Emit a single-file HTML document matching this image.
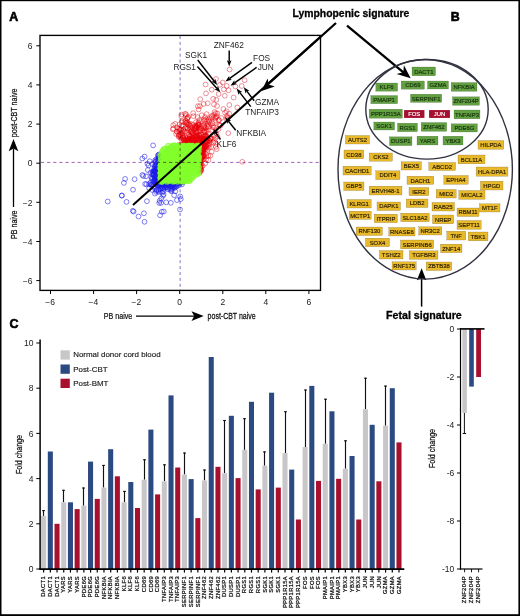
<!DOCTYPE html>
<html lang="en"><head><meta charset="utf-8"><title>Figure</title><style>html,body{margin:0;padding:0;background:#fff}svg{display:block}</style></head><body>
<svg width="520" height="616" viewBox="0 0 520 616" font-family="'Liberation Sans', sans-serif">
<rect width="520" height="616" fill="#fff"/>
<g id="scatter">
<g fill="none" stroke="#1c1ce8" stroke-width="0.90" stroke-opacity="0.62"><circle cx="159.0" cy="169.4" r="2.4"/><circle cx="156.4" cy="165.6" r="2.4"/><circle cx="168.2" cy="182.5" r="2.4"/><circle cx="156.0" cy="161.3" r="2.4"/><circle cx="178.9" cy="185.4" r="2.4"/><circle cx="159.9" cy="158.4" r="2.4"/><circle cx="155.2" cy="170.3" r="2.4"/><circle cx="167.5" cy="184.7" r="2.4"/><circle cx="158.5" cy="159.5" r="2.4"/><circle cx="172.8" cy="184.5" r="2.4"/><circle cx="159.4" cy="156.2" r="2.4"/><circle cx="179.7" cy="183.7" r="2.4"/><circle cx="153.6" cy="174.7" r="2.4"/><circle cx="154.3" cy="177.1" r="2.4"/><circle cx="182.0" cy="184.4" r="2.4"/><circle cx="155.2" cy="166.1" r="2.4"/><circle cx="155.2" cy="162.0" r="2.4"/><circle cx="155.9" cy="178.9" r="2.4"/><circle cx="159.8" cy="179.7" r="2.4"/><circle cx="159.7" cy="161.9" r="2.4"/><circle cx="172.1" cy="186.4" r="2.4"/><circle cx="156.6" cy="163.1" r="2.4"/><circle cx="157.3" cy="168.9" r="2.4"/><circle cx="154.8" cy="165.4" r="2.4"/><circle cx="178.5" cy="182.4" r="2.4"/><circle cx="157.7" cy="167.2" r="2.4"/><circle cx="157.7" cy="181.0" r="2.4"/><circle cx="172.4" cy="183.9" r="2.4"/><circle cx="155.6" cy="166.2" r="2.4"/><circle cx="158.9" cy="174.7" r="2.4"/><circle cx="181.0" cy="182.4" r="2.4"/><circle cx="180.9" cy="182.1" r="2.4"/><circle cx="158.3" cy="162.7" r="2.4"/><circle cx="173.4" cy="187.2" r="2.4"/><circle cx="156.3" cy="175.9" r="2.4"/><circle cx="153.0" cy="171.5" r="2.4"/><circle cx="155.2" cy="160.3" r="2.4"/><circle cx="158.9" cy="159.2" r="2.4"/><circle cx="155.8" cy="172.0" r="2.4"/><circle cx="158.4" cy="158.5" r="2.4"/><circle cx="174.3" cy="183.4" r="2.4"/><circle cx="166.1" cy="183.9" r="2.4"/><circle cx="177.8" cy="183.3" r="2.4"/><circle cx="157.9" cy="182.2" r="2.4"/><circle cx="155.5" cy="170.8" r="2.4"/><circle cx="171.6" cy="183.5" r="2.4"/><circle cx="159.8" cy="167.6" r="2.4"/><circle cx="158.7" cy="181.0" r="2.4"/><circle cx="158.4" cy="154.9" r="2.4"/><circle cx="154.8" cy="167.6" r="2.4"/><circle cx="154.1" cy="170.9" r="2.4"/><circle cx="159.4" cy="158.5" r="2.4"/><circle cx="158.0" cy="162.7" r="2.4"/><circle cx="156.3" cy="159.2" r="2.4"/><circle cx="159.6" cy="172.1" r="2.4"/><circle cx="162.5" cy="184.9" r="2.4"/><circle cx="160.0" cy="161.4" r="2.4"/><circle cx="157.6" cy="170.4" r="2.4"/><circle cx="175.9" cy="183.7" r="2.4"/><circle cx="162.7" cy="183.3" r="2.4"/><circle cx="156.9" cy="167.0" r="2.4"/><circle cx="154.3" cy="168.7" r="2.4"/><circle cx="157.9" cy="155.7" r="2.4"/><circle cx="176.1" cy="186.7" r="2.4"/><circle cx="181.2" cy="182.4" r="2.4"/><circle cx="159.1" cy="161.3" r="2.4"/><circle cx="160.0" cy="168.9" r="2.4"/><circle cx="171.5" cy="185.9" r="2.4"/><circle cx="159.1" cy="154.4" r="2.4"/><circle cx="159.1" cy="162.3" r="2.4"/><circle cx="158.9" cy="157.2" r="2.4"/><circle cx="158.5" cy="158.0" r="2.4"/><circle cx="159.6" cy="165.4" r="2.4"/><circle cx="182.9" cy="182.4" r="2.4"/><circle cx="157.8" cy="160.8" r="2.4"/><circle cx="176.8" cy="185.0" r="2.4"/><circle cx="153.1" cy="174.7" r="2.4"/><circle cx="159.9" cy="172.5" r="2.4"/><circle cx="159.2" cy="167.9" r="2.4"/><circle cx="158.4" cy="176.7" r="2.4"/><circle cx="157.1" cy="172.6" r="2.4"/><circle cx="157.6" cy="173.2" r="2.4"/><circle cx="176.4" cy="184.0" r="2.4"/><circle cx="170.5" cy="186.5" r="2.4"/><circle cx="159.7" cy="175.9" r="2.4"/><circle cx="160.0" cy="173.5" r="2.4"/><circle cx="158.5" cy="177.3" r="2.4"/><circle cx="159.4" cy="167.4" r="2.4"/><circle cx="159.2" cy="178.1" r="2.4"/><circle cx="162.5" cy="187.6" r="2.4"/><circle cx="158.2" cy="185.6" r="2.4"/><circle cx="165.5" cy="184.0" r="2.4"/><circle cx="166.2" cy="185.4" r="2.4"/><circle cx="166.9" cy="187.1" r="2.4"/><circle cx="159.2" cy="178.5" r="2.4"/><circle cx="155.5" cy="176.8" r="2.4"/><circle cx="165.7" cy="187.4" r="2.4"/><circle cx="165.0" cy="185.0" r="2.4"/><circle cx="152.9" cy="178.1" r="2.4"/><circle cx="158.9" cy="176.0" r="2.4"/><circle cx="158.7" cy="184.4" r="2.4"/><circle cx="153.4" cy="171.4" r="2.4"/><circle cx="153.8" cy="186.7" r="2.4"/><circle cx="171.2" cy="182.3" r="2.4"/><circle cx="165.0" cy="187.8" r="2.4"/><circle cx="155.0" cy="171.2" r="2.4"/><circle cx="154.0" cy="171.4" r="2.4"/><circle cx="157.0" cy="189.8" r="2.4"/><circle cx="156.5" cy="178.2" r="2.4"/><circle cx="165.2" cy="182.1" r="2.4"/><circle cx="160.6" cy="188.8" r="2.4"/><circle cx="152.9" cy="172.8" r="2.4"/><circle cx="153.7" cy="181.8" r="2.4"/><circle cx="155.6" cy="181.1" r="2.4"/><circle cx="163.0" cy="183.1" r="2.4"/><circle cx="178.7" cy="182.3" r="2.4"/><circle cx="151.7" cy="178.7" r="2.4"/><circle cx="165.3" cy="184.8" r="2.4"/><circle cx="155.1" cy="170.6" r="2.4"/><circle cx="165.7" cy="184.0" r="2.4"/><circle cx="156.8" cy="169.4" r="2.4"/><circle cx="159.2" cy="179.9" r="2.4"/><circle cx="159.5" cy="170.5" r="2.4"/><circle cx="154.6" cy="171.3" r="2.4"/><circle cx="155.9" cy="171.8" r="2.4"/><circle cx="155.1" cy="180.8" r="2.4"/><circle cx="160.1" cy="170.5" r="2.4"/><circle cx="169.6" cy="182.4" r="2.4"/><circle cx="155.0" cy="179.5" r="2.4"/><circle cx="164.4" cy="182.8" r="2.4"/><circle cx="155.0" cy="179.2" r="2.4"/><circle cx="158.7" cy="182.7" r="2.4"/><circle cx="159.1" cy="168.7" r="2.4"/><circle cx="160.1" cy="175.6" r="2.4"/><circle cx="156.7" cy="184.2" r="2.4"/><circle cx="163.4" cy="182.2" r="2.4"/><circle cx="158.6" cy="170.8" r="2.4"/><circle cx="157.3" cy="177.5" r="2.4"/><circle cx="155.3" cy="171.7" r="2.4"/><circle cx="161.0" cy="184.5" r="2.4"/><circle cx="173.1" cy="182.2" r="2.4"/><circle cx="158.6" cy="172.8" r="2.4"/><circle cx="157.4" cy="177.6" r="2.4"/><circle cx="150.5" cy="182.6" r="2.4"/><circle cx="165.4" cy="186.0" r="2.4"/><circle cx="159.2" cy="178.3" r="2.4"/><circle cx="160.1" cy="165.6" r="2.4"/><circle cx="161.2" cy="184.7" r="2.4"/><circle cx="164.5" cy="183.6" r="2.4"/><circle cx="156.4" cy="178.8" r="2.4"/><circle cx="154.5" cy="176.9" r="2.4"/><circle cx="154.9" cy="177.6" r="2.4"/><circle cx="160.0" cy="167.7" r="2.4"/><circle cx="156.3" cy="190.2" r="2.4"/><circle cx="155.9" cy="181.1" r="2.4"/><circle cx="156.9" cy="168.8" r="2.4"/><circle cx="152.1" cy="174.2" r="2.4"/><circle cx="161.5" cy="186.6" r="2.4"/><circle cx="151.2" cy="184.9" r="2.4"/><circle cx="171.6" cy="184.1" r="2.4"/><circle cx="159.0" cy="177.7" r="2.4"/><circle cx="159.8" cy="167.9" r="2.4"/><circle cx="153.3" cy="180.8" r="2.4"/><circle cx="158.4" cy="172.5" r="2.4"/><circle cx="160.3" cy="183.0" r="2.4"/><circle cx="159.2" cy="185.2" r="2.4"/><circle cx="158.5" cy="183.4" r="2.4"/><circle cx="153.8" cy="184.6" r="2.4"/><circle cx="159.5" cy="167.5" r="2.4"/><circle cx="158.5" cy="189.8" r="2.4"/><circle cx="152.7" cy="184.4" r="2.4"/><circle cx="167.5" cy="186.8" r="2.4"/><circle cx="158.4" cy="173.1" r="2.4"/><circle cx="157.9" cy="173.5" r="2.4"/><circle cx="159.0" cy="184.6" r="2.4"/><circle cx="155.9" cy="170.0" r="2.4"/><circle cx="163.8" cy="182.1" r="2.4"/><circle cx="155.9" cy="180.5" r="2.4"/><circle cx="160.8" cy="183.0" r="2.4"/><circle cx="157.3" cy="182.0" r="2.4"/><circle cx="155.6" cy="171.0" r="2.4"/><circle cx="162.7" cy="184.4" r="2.4"/><circle cx="156.6" cy="167.4" r="2.4"/><circle cx="165.3" cy="184.8" r="2.4"/><circle cx="156.5" cy="179.9" r="2.4"/><circle cx="161.1" cy="186.1" r="2.4"/><circle cx="156.2" cy="182.1" r="2.4"/><circle cx="176.7" cy="186.4" r="2.4"/><circle cx="121.8" cy="195.7" r="2.4"/><circle cx="152.3" cy="164.0" r="2.4"/><circle cx="150.6" cy="184.6" r="2.4"/><circle cx="155.3" cy="177.8" r="2.4"/><circle cx="159.7" cy="200.8" r="2.4"/><circle cx="157.7" cy="179.2" r="2.4"/><circle cx="163.3" cy="189.2" r="2.4"/><circle cx="142.3" cy="158.5" r="2.4"/><circle cx="174.5" cy="186.2" r="2.4"/><circle cx="154.9" cy="193.6" r="2.4"/><circle cx="143.9" cy="213.3" r="2.4"/><circle cx="171.0" cy="187.8" r="2.4"/><circle cx="155.2" cy="182.4" r="2.4"/><circle cx="168.5" cy="184.9" r="2.4"/><circle cx="161.3" cy="198.4" r="2.4"/><circle cx="175.2" cy="191.4" r="2.4"/><circle cx="149.1" cy="188.1" r="2.4"/><circle cx="158.6" cy="192.0" r="2.4"/><circle cx="149.1" cy="184.0" r="2.4"/><circle cx="157.0" cy="176.4" r="2.4"/><circle cx="168.2" cy="183.6" r="2.4"/><circle cx="156.6" cy="171.2" r="2.4"/><circle cx="146.0" cy="176.3" r="2.4"/><circle cx="159.1" cy="175.5" r="2.4"/><circle cx="174.2" cy="195.2" r="2.4"/><circle cx="162.1" cy="192.5" r="2.4"/><circle cx="175.1" cy="185.8" r="2.4"/><circle cx="153.7" cy="174.2" r="2.4"/><circle cx="158.4" cy="191.0" r="2.4"/><circle cx="180.8" cy="199.1" r="2.4"/><circle cx="169.3" cy="188.7" r="2.4"/><circle cx="170.5" cy="182.5" r="2.4"/><circle cx="161.8" cy="211.8" r="2.4"/><circle cx="149.8" cy="161.2" r="2.4"/><circle cx="123.9" cy="182.9" r="2.4"/><circle cx="163.6" cy="194.3" r="2.4"/><circle cx="168.0" cy="189.4" r="2.4"/><circle cx="173.1" cy="185.3" r="2.4"/><circle cx="160.1" cy="215.3" r="2.4"/><circle cx="172.3" cy="188.8" r="2.4"/><circle cx="160.3" cy="189.2" r="2.4"/><circle cx="147.4" cy="163.7" r="2.4"/><circle cx="163.0" cy="195.7" r="2.4"/><circle cx="176.9" cy="200.1" r="2.4"/><circle cx="171.1" cy="184.6" r="2.4"/><circle cx="148.6" cy="165.4" r="2.4"/><circle cx="151.7" cy="184.7" r="2.4"/><circle cx="152.0" cy="189.9" r="2.4"/><circle cx="151.3" cy="177.2" r="2.4"/><circle cx="126.5" cy="201.9" r="2.4"/><circle cx="171.0" cy="190.9" r="2.4"/><circle cx="162.7" cy="187.9" r="2.4"/><circle cx="158.1" cy="169.1" r="2.4"/><circle cx="171.0" cy="189.3" r="2.4"/><circle cx="155.3" cy="173.0" r="2.4"/><circle cx="125.1" cy="178.9" r="2.4"/><circle cx="171.6" cy="190.9" r="2.4"/><circle cx="172.3" cy="186.0" r="2.4"/><circle cx="163.3" cy="191.3" r="2.4"/><circle cx="154.1" cy="188.0" r="2.4"/><circle cx="142.4" cy="174.9" r="2.4"/><circle cx="159.6" cy="185.9" r="2.4"/><circle cx="157.1" cy="167.6" r="2.4"/><circle cx="146.9" cy="201.2" r="2.4"/><circle cx="174.1" cy="188.1" r="2.4"/><circle cx="150.4" cy="172.7" r="2.4"/><circle cx="159.1" cy="174.6" r="2.4"/><circle cx="146.4" cy="184.3" r="2.4"/><circle cx="143.3" cy="176.0" r="2.4"/><circle cx="145.1" cy="183.9" r="2.4"/><circle cx="156.2" cy="191.9" r="2.4"/><circle cx="147.8" cy="170.0" r="2.4"/><circle cx="161.1" cy="202.9" r="2.4"/></g>
<g fill="none" stroke="#1c1ce8" stroke-width="0.90" stroke-opacity="0.62"><circle cx="107.7" cy="201.5" r="2.4"/><circle cx="121.8" cy="195.4" r="2.4"/><circle cx="134.6" cy="179.2" r="2.4"/><circle cx="144.6" cy="156.6" r="2.4"/><circle cx="153.1" cy="145.4" r="2.4"/><circle cx="133.0" cy="189.7" r="2.4"/><circle cx="132.8" cy="210.8" r="2.4"/><circle cx="133.6" cy="211.6" r="2.4"/><circle cx="138.5" cy="216.5" r="2.4"/><circle cx="163.8" cy="211.5" r="2.4"/><circle cx="159.2" cy="203.0" r="2.4"/><circle cx="166.2" cy="202.3" r="2.4"/><circle cx="170.8" cy="202.8" r="2.4"/><circle cx="180.0" cy="209.5" r="2.4"/><circle cx="144.5" cy="221.8" r="2.4"/><circle cx="180.2" cy="196.5" r="2.4"/></g>
<g fill="none" stroke="#e60008" stroke-width="0.90" stroke-opacity="0.50"><circle cx="201.1" cy="169.5" r="2.4"/><circle cx="199.6" cy="159.6" r="2.4"/><circle cx="200.3" cy="162.4" r="2.4"/><circle cx="194.0" cy="145.3" r="2.4"/><circle cx="197.2" cy="141.9" r="2.4"/><circle cx="200.3" cy="165.0" r="2.4"/><circle cx="199.5" cy="158.4" r="2.4"/><circle cx="200.3" cy="158.8" r="2.4"/><circle cx="201.2" cy="162.8" r="2.4"/><circle cx="200.0" cy="154.1" r="2.4"/><circle cx="189.2" cy="139.3" r="2.4"/><circle cx="186.1" cy="142.8" r="2.4"/><circle cx="188.5" cy="143.2" r="2.4"/><circle cx="185.9" cy="143.3" r="2.4"/><circle cx="190.9" cy="145.3" r="2.4"/><circle cx="201.7" cy="147.5" r="2.4"/><circle cx="200.9" cy="151.8" r="2.4"/><circle cx="206.5" cy="156.3" r="2.4"/><circle cx="192.5" cy="141.3" r="2.4"/><circle cx="202.7" cy="165.8" r="2.4"/><circle cx="200.3" cy="156.1" r="2.4"/><circle cx="199.4" cy="145.5" r="2.4"/><circle cx="199.7" cy="168.8" r="2.4"/><circle cx="190.3" cy="140.9" r="2.4"/><circle cx="200.2" cy="169.3" r="2.4"/><circle cx="191.8" cy="141.1" r="2.4"/><circle cx="199.8" cy="162.8" r="2.4"/><circle cx="191.5" cy="143.1" r="2.4"/><circle cx="187.8" cy="140.7" r="2.4"/><circle cx="199.4" cy="169.2" r="2.4"/><circle cx="205.2" cy="163.3" r="2.4"/><circle cx="184.8" cy="143.8" r="2.4"/><circle cx="186.2" cy="141.5" r="2.4"/><circle cx="199.6" cy="161.8" r="2.4"/><circle cx="201.3" cy="155.6" r="2.4"/><circle cx="189.2" cy="144.8" r="2.4"/><circle cx="199.6" cy="158.9" r="2.4"/><circle cx="199.9" cy="160.2" r="2.4"/><circle cx="185.7" cy="142.2" r="2.4"/><circle cx="200.5" cy="159.9" r="2.4"/><circle cx="199.9" cy="167.3" r="2.4"/><circle cx="203.5" cy="159.3" r="2.4"/><circle cx="202.7" cy="152.3" r="2.4"/><circle cx="201.4" cy="158.7" r="2.4"/><circle cx="201.5" cy="154.7" r="2.4"/><circle cx="200.8" cy="155.7" r="2.4"/><circle cx="196.3" cy="144.7" r="2.4"/><circle cx="198.7" cy="140.7" r="2.4"/><circle cx="200.3" cy="169.8" r="2.4"/><circle cx="203.4" cy="150.2" r="2.4"/><circle cx="201.1" cy="166.3" r="2.4"/><circle cx="184.4" cy="140.4" r="2.4"/><circle cx="190.7" cy="142.7" r="2.4"/><circle cx="201.2" cy="155.3" r="2.4"/><circle cx="199.8" cy="166.9" r="2.4"/><circle cx="179.9" cy="145.2" r="2.4"/><circle cx="201.7" cy="166.7" r="2.4"/><circle cx="200.8" cy="149.3" r="2.4"/><circle cx="178.8" cy="144.9" r="2.4"/><circle cx="202.4" cy="156.7" r="2.4"/><circle cx="199.6" cy="162.7" r="2.4"/><circle cx="199.9" cy="172.6" r="2.4"/><circle cx="201.0" cy="170.9" r="2.4"/><circle cx="197.1" cy="145.2" r="2.4"/><circle cx="199.4" cy="166.0" r="2.4"/><circle cx="202.8" cy="159.8" r="2.4"/><circle cx="200.0" cy="167.5" r="2.4"/><circle cx="201.3" cy="169.9" r="2.4"/><circle cx="199.8" cy="171.5" r="2.4"/><circle cx="190.8" cy="144.1" r="2.4"/><circle cx="184.0" cy="144.8" r="2.4"/><circle cx="197.9" cy="143.1" r="2.4"/><circle cx="199.5" cy="165.8" r="2.4"/><circle cx="199.6" cy="167.4" r="2.4"/><circle cx="199.6" cy="154.4" r="2.4"/><circle cx="199.4" cy="166.9" r="2.4"/><circle cx="189.3" cy="144.6" r="2.4"/><circle cx="201.4" cy="152.0" r="2.4"/><circle cx="204.8" cy="147.6" r="2.4"/><circle cx="199.5" cy="165.9" r="2.4"/><circle cx="187.5" cy="143.8" r="2.4"/><circle cx="200.0" cy="166.6" r="2.4"/><circle cx="200.4" cy="159.5" r="2.4"/><circle cx="200.0" cy="152.0" r="2.4"/><circle cx="202.1" cy="141.6" r="2.4"/><circle cx="201.6" cy="138.1" r="2.4"/><circle cx="194.3" cy="143.8" r="2.4"/><circle cx="199.1" cy="143.6" r="2.4"/><circle cx="199.4" cy="144.3" r="2.4"/><circle cx="201.0" cy="141.1" r="2.4"/><circle cx="191.7" cy="144.0" r="2.4"/><circle cx="201.2" cy="157.3" r="2.4"/><circle cx="201.5" cy="145.1" r="2.4"/><circle cx="200.8" cy="151.0" r="2.4"/><circle cx="196.4" cy="145.2" r="2.4"/><circle cx="200.3" cy="144.7" r="2.4"/><circle cx="201.9" cy="152.8" r="2.4"/><circle cx="199.5" cy="151.9" r="2.4"/><circle cx="200.4" cy="140.9" r="2.4"/><circle cx="202.5" cy="140.5" r="2.4"/><circle cx="187.0" cy="144.4" r="2.4"/><circle cx="186.2" cy="144.4" r="2.4"/><circle cx="201.2" cy="148.2" r="2.4"/><circle cx="183.9" cy="144.9" r="2.4"/><circle cx="207.6" cy="142.1" r="2.4"/><circle cx="201.9" cy="146.3" r="2.4"/><circle cx="197.4" cy="144.1" r="2.4"/><circle cx="206.5" cy="146.1" r="2.4"/><circle cx="207.5" cy="139.9" r="2.4"/><circle cx="194.8" cy="143.1" r="2.4"/><circle cx="206.9" cy="150.3" r="2.4"/><circle cx="191.6" cy="142.0" r="2.4"/><circle cx="199.8" cy="143.7" r="2.4"/><circle cx="200.1" cy="157.7" r="2.4"/><circle cx="200.6" cy="153.6" r="2.4"/><circle cx="200.7" cy="158.1" r="2.4"/><circle cx="201.4" cy="148.7" r="2.4"/><circle cx="200.3" cy="138.9" r="2.4"/><circle cx="200.4" cy="152.6" r="2.4"/><circle cx="199.8" cy="148.1" r="2.4"/><circle cx="191.2" cy="138.6" r="2.4"/><circle cx="185.8" cy="142.9" r="2.4"/><circle cx="199.5" cy="157.5" r="2.4"/><circle cx="202.4" cy="151.8" r="2.4"/><circle cx="197.0" cy="141.3" r="2.4"/><circle cx="197.2" cy="136.2" r="2.4"/><circle cx="199.8" cy="155.3" r="2.4"/><circle cx="205.7" cy="145.4" r="2.4"/><circle cx="201.4" cy="142.8" r="2.4"/><circle cx="201.2" cy="142.8" r="2.4"/><circle cx="209.7" cy="141.2" r="2.4"/><circle cx="202.4" cy="151.2" r="2.4"/><circle cx="184.7" cy="143.7" r="2.4"/><circle cx="201.7" cy="149.2" r="2.4"/><circle cx="195.1" cy="139.9" r="2.4"/><circle cx="201.8" cy="145.6" r="2.4"/><circle cx="195.4" cy="137.3" r="2.4"/><circle cx="209.1" cy="140.9" r="2.4"/><circle cx="199.6" cy="149.1" r="2.4"/><circle cx="190.0" cy="144.1" r="2.4"/><circle cx="199.9" cy="152.0" r="2.4"/><circle cx="207.7" cy="138.7" r="2.4"/><circle cx="203.8" cy="147.6" r="2.4"/><circle cx="196.1" cy="144.1" r="2.4"/><circle cx="191.9" cy="144.1" r="2.4"/><circle cx="185.4" cy="142.9" r="2.4"/><circle cx="202.3" cy="150.8" r="2.4"/><circle cx="201.9" cy="157.2" r="2.4"/><circle cx="203.2" cy="156.5" r="2.4"/><circle cx="191.8" cy="138.9" r="2.4"/><circle cx="199.4" cy="148.3" r="2.4"/><circle cx="203.6" cy="144.3" r="2.4"/><circle cx="204.2" cy="138.8" r="2.4"/><circle cx="205.6" cy="149.4" r="2.4"/><circle cx="203.6" cy="148.4" r="2.4"/><circle cx="196.9" cy="136.3" r="2.4"/><circle cx="198.5" cy="143.4" r="2.4"/><circle cx="201.4" cy="143.0" r="2.4"/><circle cx="200.1" cy="156.2" r="2.4"/><circle cx="206.5" cy="136.4" r="2.4"/><circle cx="192.9" cy="140.9" r="2.4"/><circle cx="197.8" cy="143.1" r="2.4"/><circle cx="189.2" cy="144.7" r="2.4"/><circle cx="197.8" cy="144.2" r="2.4"/><circle cx="207.7" cy="144.6" r="2.4"/><circle cx="194.0" cy="141.7" r="2.4"/><circle cx="206.5" cy="140.8" r="2.4"/><circle cx="196.4" cy="139.3" r="2.4"/><circle cx="202.2" cy="145.9" r="2.4"/><circle cx="204.5" cy="146.6" r="2.4"/><circle cx="203.1" cy="140.3" r="2.4"/><circle cx="190.7" cy="144.7" r="2.4"/><circle cx="205.7" cy="140.5" r="2.4"/><circle cx="189.8" cy="141.6" r="2.4"/><circle cx="197.7" cy="144.7" r="2.4"/><circle cx="203.6" cy="148.9" r="2.4"/><circle cx="202.5" cy="148.1" r="2.4"/><circle cx="190.8" cy="144.2" r="2.4"/><circle cx="200.8" cy="160.4" r="2.4"/><circle cx="202.4" cy="146.6" r="2.4"/><circle cx="186.7" cy="143.7" r="2.4"/><circle cx="203.6" cy="147.1" r="2.4"/><circle cx="201.8" cy="155.1" r="2.4"/><circle cx="191.9" cy="143.1" r="2.4"/><circle cx="203.8" cy="155.3" r="2.4"/><circle cx="202.1" cy="158.4" r="2.4"/><circle cx="209.0" cy="147.5" r="2.4"/><circle cx="188.9" cy="139.2" r="2.4"/><circle cx="201.6" cy="140.3" r="2.4"/><circle cx="193.3" cy="145.2" r="2.4"/><circle cx="203.8" cy="149.0" r="2.4"/><circle cx="204.0" cy="139.7" r="2.4"/><circle cx="198.2" cy="142.7" r="2.4"/><circle cx="204.8" cy="138.4" r="2.4"/><circle cx="202.7" cy="149.7" r="2.4"/><circle cx="195.9" cy="136.5" r="2.4"/><circle cx="206.9" cy="142.1" r="2.4"/><circle cx="191.6" cy="142.8" r="2.4"/><circle cx="192.5" cy="144.5" r="2.4"/><circle cx="206.1" cy="136.9" r="2.4"/><circle cx="204.8" cy="136.4" r="2.4"/><circle cx="187.2" cy="141.1" r="2.4"/><circle cx="204.8" cy="145.0" r="2.4"/><circle cx="189.3" cy="140.9" r="2.4"/><circle cx="204.1" cy="136.4" r="2.4"/><circle cx="190.2" cy="144.6" r="2.4"/><circle cx="203.4" cy="139.6" r="2.4"/><circle cx="200.0" cy="137.7" r="2.4"/><circle cx="200.9" cy="149.9" r="2.4"/><circle cx="181.3" cy="145.1" r="2.4"/><circle cx="199.5" cy="140.6" r="2.4"/><circle cx="206.0" cy="154.0" r="2.4"/><circle cx="194.3" cy="139.2" r="2.4"/><circle cx="185.2" cy="144.1" r="2.4"/><circle cx="196.9" cy="136.6" r="2.4"/><circle cx="200.8" cy="152.3" r="2.4"/><circle cx="205.2" cy="138.9" r="2.4"/><circle cx="204.3" cy="149.7" r="2.4"/><circle cx="200.7" cy="147.7" r="2.4"/><circle cx="203.5" cy="142.7" r="2.4"/><circle cx="203.4" cy="155.4" r="2.4"/><circle cx="200.4" cy="157.0" r="2.4"/><circle cx="191.5" cy="141.1" r="2.4"/><circle cx="206.5" cy="144.5" r="2.4"/><circle cx="201.7" cy="143.2" r="2.4"/><circle cx="209.1" cy="140.0" r="2.4"/><circle cx="203.6" cy="155.1" r="2.4"/><circle cx="198.6" cy="122.4" r="2.4"/><circle cx="190.4" cy="131.7" r="2.4"/><circle cx="188.3" cy="127.9" r="2.4"/><circle cx="200.5" cy="152.0" r="2.4"/><circle cx="183.3" cy="130.4" r="2.4"/><circle cx="208.3" cy="119.9" r="2.4"/><circle cx="196.8" cy="126.2" r="2.4"/><circle cx="191.1" cy="131.7" r="2.4"/><circle cx="208.9" cy="126.5" r="2.4"/><circle cx="206.1" cy="131.3" r="2.4"/><circle cx="196.6" cy="127.2" r="2.4"/><circle cx="201.6" cy="125.9" r="2.4"/><circle cx="205.5" cy="135.4" r="2.4"/><circle cx="192.5" cy="132.4" r="2.4"/><circle cx="216.7" cy="149.1" r="2.4"/><circle cx="189.6" cy="136.0" r="2.4"/><circle cx="193.1" cy="113.1" r="2.4"/><circle cx="203.2" cy="151.5" r="2.4"/><circle cx="188.8" cy="134.5" r="2.4"/><circle cx="191.7" cy="138.8" r="2.4"/><circle cx="196.1" cy="135.0" r="2.4"/><circle cx="199.0" cy="124.9" r="2.4"/><circle cx="186.3" cy="143.0" r="2.4"/><circle cx="183.0" cy="125.4" r="2.4"/><circle cx="199.1" cy="127.9" r="2.4"/><circle cx="183.2" cy="134.9" r="2.4"/><circle cx="207.6" cy="136.6" r="2.4"/><circle cx="210.8" cy="124.3" r="2.4"/><circle cx="185.8" cy="143.5" r="2.4"/><circle cx="198.6" cy="109.4" r="2.4"/><circle cx="185.8" cy="140.4" r="2.4"/><circle cx="206.3" cy="141.6" r="2.4"/><circle cx="213.2" cy="98.9" r="2.4"/><circle cx="207.7" cy="126.6" r="2.4"/><circle cx="219.0" cy="124.6" r="2.4"/><circle cx="203.3" cy="149.1" r="2.4"/><circle cx="180.3" cy="129.9" r="2.4"/><circle cx="194.2" cy="139.6" r="2.4"/><circle cx="188.4" cy="142.6" r="2.4"/><circle cx="199.4" cy="120.1" r="2.4"/><circle cx="183.6" cy="138.0" r="2.4"/><circle cx="213.6" cy="117.7" r="2.4"/><circle cx="219.6" cy="125.3" r="2.4"/><circle cx="216.1" cy="117.3" r="2.4"/><circle cx="188.0" cy="142.0" r="2.4"/><circle cx="191.7" cy="134.1" r="2.4"/><circle cx="215.9" cy="146.8" r="2.4"/><circle cx="187.1" cy="142.3" r="2.4"/><circle cx="198.5" cy="144.2" r="2.4"/><circle cx="188.8" cy="134.7" r="2.4"/><circle cx="194.7" cy="135.9" r="2.4"/><circle cx="176.8" cy="131.6" r="2.4"/><circle cx="204.4" cy="126.9" r="2.4"/><circle cx="196.0" cy="132.5" r="2.4"/><circle cx="202.4" cy="143.9" r="2.4"/><circle cx="212.4" cy="129.9" r="2.4"/><circle cx="210.3" cy="155.6" r="2.4"/><circle cx="215.5" cy="118.3" r="2.4"/><circle cx="206.1" cy="147.4" r="2.4"/><circle cx="194.8" cy="128.5" r="2.4"/><circle cx="189.5" cy="136.6" r="2.4"/><circle cx="173.5" cy="128.7" r="2.4"/><circle cx="201.3" cy="121.2" r="2.4"/><circle cx="196.2" cy="126.5" r="2.4"/><circle cx="197.9" cy="106.2" r="2.4"/><circle cx="198.8" cy="128.6" r="2.4"/><circle cx="181.4" cy="125.6" r="2.4"/><circle cx="179.3" cy="129.0" r="2.4"/><circle cx="185.8" cy="115.9" r="2.4"/><circle cx="180.2" cy="136.8" r="2.4"/><circle cx="201.8" cy="148.1" r="2.4"/><circle cx="225.1" cy="112.7" r="2.4"/><circle cx="207.0" cy="139.0" r="2.4"/><circle cx="209.6" cy="121.7" r="2.4"/><circle cx="182.7" cy="137.0" r="2.4"/><circle cx="197.8" cy="124.8" r="2.4"/><circle cx="177.0" cy="131.7" r="2.4"/><circle cx="184.5" cy="142.2" r="2.4"/><circle cx="195.1" cy="143.7" r="2.4"/><circle cx="181.5" cy="139.6" r="2.4"/><circle cx="190.0" cy="139.1" r="2.4"/><circle cx="185.6" cy="128.5" r="2.4"/><circle cx="193.4" cy="138.1" r="2.4"/><circle cx="211.8" cy="116.9" r="2.4"/><circle cx="206.9" cy="125.6" r="2.4"/><circle cx="189.8" cy="139.8" r="2.4"/><circle cx="227.1" cy="117.2" r="2.4"/><circle cx="210.2" cy="118.3" r="2.4"/><circle cx="180.0" cy="134.8" r="2.4"/><circle cx="202.1" cy="147.7" r="2.4"/><circle cx="210.4" cy="138.5" r="2.4"/><circle cx="203.1" cy="132.5" r="2.4"/><circle cx="183.6" cy="141.1" r="2.4"/><circle cx="199.9" cy="106.1" r="2.4"/><circle cx="202.4" cy="156.4" r="2.4"/><circle cx="204.0" cy="119.5" r="2.4"/><circle cx="181.5" cy="133.5" r="2.4"/><circle cx="203.0" cy="150.8" r="2.4"/><circle cx="179.5" cy="124.5" r="2.4"/><circle cx="179.0" cy="131.7" r="2.4"/><circle cx="190.4" cy="143.7" r="2.4"/><circle cx="187.9" cy="117.4" r="2.4"/><circle cx="187.6" cy="124.6" r="2.4"/><circle cx="201.9" cy="151.7" r="2.4"/><circle cx="194.0" cy="129.9" r="2.4"/><circle cx="182.1" cy="135.8" r="2.4"/><circle cx="186.1" cy="114.3" r="2.4"/><circle cx="184.7" cy="140.0" r="2.4"/><circle cx="184.9" cy="121.8" r="2.4"/><circle cx="176.1" cy="134.0" r="2.4"/><circle cx="193.0" cy="124.6" r="2.4"/><circle cx="186.1" cy="141.5" r="2.4"/><circle cx="206.3" cy="137.5" r="2.4"/><circle cx="209.5" cy="144.2" r="2.4"/><circle cx="211.7" cy="151.8" r="2.4"/><circle cx="204.9" cy="132.7" r="2.4"/><circle cx="201.5" cy="134.6" r="2.4"/><circle cx="192.7" cy="133.8" r="2.4"/><circle cx="173.2" cy="125.2" r="2.4"/><circle cx="214.6" cy="135.4" r="2.4"/><circle cx="203.8" cy="126.0" r="2.4"/><circle cx="212.6" cy="123.3" r="2.4"/><circle cx="195.8" cy="144.2" r="2.4"/><circle cx="196.2" cy="136.6" r="2.4"/><circle cx="193.8" cy="133.2" r="2.4"/><circle cx="199.0" cy="134.5" r="2.4"/><circle cx="191.7" cy="130.6" r="2.4"/><circle cx="182.1" cy="138.1" r="2.4"/><circle cx="183.3" cy="129.4" r="2.4"/><circle cx="205.5" cy="142.3" r="2.4"/><circle cx="189.7" cy="143.1" r="2.4"/><circle cx="199.9" cy="147.3" r="2.4"/><circle cx="199.0" cy="143.5" r="2.4"/><circle cx="182.0" cy="121.3" r="2.4"/><circle cx="205.0" cy="117.0" r="2.4"/><circle cx="189.1" cy="140.2" r="2.4"/><circle cx="200.3" cy="144.0" r="2.4"/><circle cx="212.5" cy="139.4" r="2.4"/><circle cx="195.5" cy="127.4" r="2.4"/><circle cx="189.5" cy="145.0" r="2.4"/><circle cx="216.1" cy="133.3" r="2.4"/><circle cx="181.2" cy="130.1" r="2.4"/><circle cx="229.1" cy="113.6" r="2.4"/><circle cx="185.5" cy="139.9" r="2.4"/><circle cx="188.3" cy="139.3" r="2.4"/><circle cx="197.5" cy="139.4" r="2.4"/><circle cx="213.0" cy="125.9" r="2.4"/><circle cx="204.0" cy="156.6" r="2.4"/><circle cx="182.0" cy="122.4" r="2.4"/><circle cx="226.8" cy="119.4" r="2.4"/><circle cx="187.3" cy="140.4" r="2.4"/><circle cx="190.9" cy="129.2" r="2.4"/><circle cx="215.7" cy="113.2" r="2.4"/><circle cx="195.3" cy="128.5" r="2.4"/><circle cx="199.8" cy="138.2" r="2.4"/><circle cx="189.7" cy="129.6" r="2.4"/><circle cx="211.1" cy="146.9" r="2.4"/><circle cx="181.4" cy="114.5" r="2.4"/><circle cx="182.6" cy="135.6" r="2.4"/><circle cx="182.6" cy="133.0" r="2.4"/><circle cx="190.5" cy="123.7" r="2.4"/><circle cx="200.3" cy="139.6" r="2.4"/><circle cx="204.1" cy="125.1" r="2.4"/><circle cx="204.0" cy="138.7" r="2.4"/><circle cx="211.7" cy="89.7" r="2.4"/><circle cx="191.0" cy="131.7" r="2.4"/><circle cx="191.1" cy="140.2" r="2.4"/><circle cx="208.5" cy="160.1" r="2.4"/><circle cx="198.9" cy="138.9" r="2.4"/><circle cx="206.2" cy="119.4" r="2.4"/><circle cx="194.0" cy="145.3" r="2.4"/><circle cx="187.2" cy="118.6" r="2.4"/><circle cx="185.3" cy="127.9" r="2.4"/><circle cx="178.8" cy="134.7" r="2.4"/><circle cx="193.0" cy="137.9" r="2.4"/><circle cx="199.3" cy="135.7" r="2.4"/><circle cx="187.4" cy="123.6" r="2.4"/><circle cx="187.6" cy="128.8" r="2.4"/><circle cx="184.8" cy="131.7" r="2.4"/><circle cx="200.4" cy="153.3" r="2.4"/><circle cx="180.5" cy="135.6" r="2.4"/><circle cx="198.8" cy="127.4" r="2.4"/><circle cx="191.5" cy="145.0" r="2.4"/><circle cx="208.9" cy="121.1" r="2.4"/><circle cx="194.9" cy="126.5" r="2.4"/><circle cx="183.4" cy="137.6" r="2.4"/><circle cx="213.4" cy="142.5" r="2.4"/><circle cx="178.7" cy="136.8" r="2.4"/><circle cx="191.7" cy="140.4" r="2.4"/><circle cx="203.7" cy="104.0" r="2.4"/><circle cx="187.6" cy="122.3" r="2.4"/><circle cx="187.2" cy="118.8" r="2.4"/><circle cx="199.8" cy="129.9" r="2.4"/><circle cx="212.9" cy="127.3" r="2.4"/><circle cx="190.1" cy="140.5" r="2.4"/><circle cx="198.0" cy="125.3" r="2.4"/><circle cx="188.0" cy="137.6" r="2.4"/><circle cx="218.5" cy="129.2" r="2.4"/><circle cx="198.2" cy="130.7" r="2.4"/><circle cx="214.3" cy="141.3" r="2.4"/><circle cx="199.7" cy="138.4" r="2.4"/><circle cx="193.6" cy="116.1" r="2.4"/><circle cx="190.1" cy="137.0" r="2.4"/><circle cx="195.2" cy="126.8" r="2.4"/><circle cx="210.5" cy="138.5" r="2.4"/><circle cx="191.4" cy="139.2" r="2.4"/><circle cx="186.1" cy="122.8" r="2.4"/><circle cx="188.6" cy="139.1" r="2.4"/><circle cx="203.5" cy="147.5" r="2.4"/><circle cx="179.7" cy="129.9" r="2.4"/><circle cx="178.1" cy="128.7" r="2.4"/><circle cx="180.4" cy="137.9" r="2.4"/><circle cx="219.0" cy="120.0" r="2.4"/><circle cx="202.4" cy="142.5" r="2.4"/><circle cx="198.5" cy="123.3" r="2.4"/><circle cx="201.7" cy="115.2" r="2.4"/><circle cx="207.0" cy="131.2" r="2.4"/><circle cx="191.8" cy="142.2" r="2.4"/><circle cx="177.1" cy="127.4" r="2.4"/><circle cx="196.1" cy="129.4" r="2.4"/><circle cx="202.5" cy="141.2" r="2.4"/><circle cx="199.0" cy="135.3" r="2.4"/><circle cx="195.7" cy="125.5" r="2.4"/><circle cx="204.4" cy="120.7" r="2.4"/><circle cx="172.8" cy="129.2" r="2.4"/><circle cx="196.8" cy="128.4" r="2.4"/><circle cx="204.4" cy="131.2" r="2.4"/><circle cx="194.9" cy="135.2" r="2.4"/><circle cx="215.5" cy="120.6" r="2.4"/><circle cx="189.5" cy="143.2" r="2.4"/><circle cx="227.0" cy="115.9" r="2.4"/><circle cx="206.0" cy="128.0" r="2.4"/><circle cx="192.1" cy="132.0" r="2.4"/><circle cx="216.7" cy="116.1" r="2.4"/><circle cx="187.9" cy="143.6" r="2.4"/><circle cx="185.6" cy="120.9" r="2.4"/><circle cx="221.3" cy="118.0" r="2.4"/><circle cx="194.7" cy="140.4" r="2.4"/><circle cx="191.1" cy="143.9" r="2.4"/><circle cx="201.4" cy="128.2" r="2.4"/><circle cx="188.3" cy="117.0" r="2.4"/><circle cx="202.0" cy="139.5" r="2.4"/><circle cx="188.7" cy="143.9" r="2.4"/><circle cx="188.6" cy="124.6" r="2.4"/><circle cx="198.1" cy="143.8" r="2.4"/><circle cx="204.9" cy="130.9" r="2.4"/><circle cx="200.8" cy="148.3" r="2.4"/><circle cx="195.6" cy="137.3" r="2.4"/><circle cx="197.8" cy="136.1" r="2.4"/><circle cx="193.6" cy="141.8" r="2.4"/><circle cx="175.2" cy="123.8" r="2.4"/><circle cx="206.1" cy="159.5" r="2.4"/><circle cx="207.0" cy="121.3" r="2.4"/><circle cx="208.4" cy="145.9" r="2.4"/><circle cx="208.4" cy="133.8" r="2.4"/><circle cx="204.7" cy="127.8" r="2.4"/><circle cx="181.4" cy="116.3" r="2.4"/><circle cx="199.4" cy="136.1" r="2.4"/><circle cx="203.8" cy="146.5" r="2.4"/><circle cx="189.3" cy="124.5" r="2.4"/><circle cx="185.2" cy="141.9" r="2.4"/><circle cx="218.7" cy="120.0" r="2.4"/><circle cx="185.1" cy="113.8" r="2.4"/><circle cx="200.3" cy="131.0" r="2.4"/><circle cx="220.6" cy="125.4" r="2.4"/><circle cx="196.9" cy="132.0" r="2.4"/><circle cx="208.3" cy="155.9" r="2.4"/><circle cx="196.3" cy="138.4" r="2.4"/><circle cx="214.6" cy="112.1" r="2.4"/><circle cx="215.2" cy="138.3" r="2.4"/><circle cx="217.3" cy="113.5" r="2.4"/><circle cx="186.2" cy="122.8" r="2.4"/><circle cx="196.6" cy="134.3" r="2.4"/><circle cx="196.0" cy="122.1" r="2.4"/><circle cx="195.1" cy="143.1" r="2.4"/><circle cx="193.0" cy="137.7" r="2.4"/><circle cx="207.9" cy="123.9" r="2.4"/><circle cx="196.3" cy="140.5" r="2.4"/><circle cx="212.0" cy="115.7" r="2.4"/><circle cx="204.8" cy="147.2" r="2.4"/><circle cx="191.3" cy="127.9" r="2.4"/><circle cx="213.9" cy="127.3" r="2.4"/><circle cx="203.8" cy="131.0" r="2.4"/><circle cx="190.1" cy="145.2" r="2.4"/><circle cx="227.7" cy="118.2" r="2.4"/><circle cx="191.3" cy="142.5" r="2.4"/><circle cx="200.9" cy="134.4" r="2.4"/><circle cx="197.5" cy="117.0" r="2.4"/><circle cx="206.6" cy="114.1" r="2.4"/><circle cx="190.2" cy="125.6" r="2.4"/><circle cx="216.2" cy="143.7" r="2.4"/><circle cx="198.9" cy="124.9" r="2.4"/><circle cx="184.1" cy="131.1" r="2.4"/><circle cx="214.1" cy="115.0" r="2.4"/><circle cx="178.9" cy="135.6" r="2.4"/><circle cx="183.8" cy="139.5" r="2.4"/><circle cx="237.3" cy="107.5" r="2.4"/><circle cx="190.1" cy="126.4" r="2.4"/><circle cx="210.7" cy="138.6" r="2.4"/><circle cx="202.3" cy="137.9" r="2.4"/></g>
<g fill="none" stroke="#d81028" stroke-width="0.90" stroke-opacity="0.50"><circle cx="229.6" cy="69.5" r="2.4"/><circle cx="216.0" cy="79.0" r="2.4"/><circle cx="205.6" cy="84.5" r="2.4"/><circle cx="206.0" cy="93.4" r="2.4"/><circle cx="218.6" cy="94.0" r="2.4"/><circle cx="219.8" cy="84.8" r="2.4"/><circle cx="222.7" cy="82.5" r="2.4"/><circle cx="226.7" cy="86.0" r="2.4"/><circle cx="223.8" cy="89.4" r="2.4"/><circle cx="228.5" cy="90.2" r="2.4"/><circle cx="224.8" cy="95.8" r="2.4"/><circle cx="233.6" cy="97.5" r="2.4"/><circle cx="235.4" cy="86.5" r="2.4"/><circle cx="241.7" cy="86.0" r="2.4"/><circle cx="244.6" cy="80.2" r="2.4"/><circle cx="229.3" cy="105.0" r="2.4"/><circle cx="216.3" cy="99.8" r="2.4"/><circle cx="217.0" cy="106.0" r="2.4"/><circle cx="207.7" cy="103.3" r="2.4"/><circle cx="200.2" cy="99.2" r="2.4"/><circle cx="223.3" cy="109.0" r="2.4"/><circle cx="226.7" cy="111.3" r="2.4"/><circle cx="214.0" cy="104.4" r="2.4"/><circle cx="242.3" cy="161.8" r="2.4"/><circle cx="228.3" cy="133.2" r="2.4"/><circle cx="217.5" cy="136.5" r="2.4"/></g>
<g fill="none" stroke="#82ff2c" stroke-width="0.90" stroke-opacity="0.85"><circle cx="173.5" cy="161.2" r="2.4"/><circle cx="180.3" cy="166.9" r="2.4"/><circle cx="173.6" cy="171.5" r="2.4"/><circle cx="185.7" cy="151.4" r="2.4"/><circle cx="186.4" cy="153.2" r="2.4"/><circle cx="181.5" cy="158.6" r="2.4"/><circle cx="180.0" cy="155.5" r="2.4"/><circle cx="176.0" cy="173.0" r="2.4"/><circle cx="182.6" cy="160.9" r="2.4"/><circle cx="189.1" cy="163.6" r="2.4"/><circle cx="179.2" cy="157.7" r="2.4"/><circle cx="160.6" cy="155.6" r="2.4"/><circle cx="174.9" cy="150.1" r="2.4"/><circle cx="180.4" cy="172.9" r="2.4"/><circle cx="177.7" cy="166.3" r="2.4"/><circle cx="183.0" cy="156.3" r="2.4"/><circle cx="183.5" cy="173.2" r="2.4"/><circle cx="165.7" cy="158.1" r="2.4"/><circle cx="171.0" cy="167.3" r="2.4"/><circle cx="195.1" cy="170.4" r="2.4"/><circle cx="169.8" cy="153.1" r="2.4"/><circle cx="165.4" cy="180.5" r="2.4"/><circle cx="185.3" cy="169.6" r="2.4"/><circle cx="184.4" cy="159.6" r="2.4"/><circle cx="160.9" cy="168.1" r="2.4"/><circle cx="177.8" cy="151.0" r="2.4"/><circle cx="188.9" cy="149.3" r="2.4"/><circle cx="191.0" cy="171.3" r="2.4"/><circle cx="189.7" cy="162.6" r="2.4"/><circle cx="185.9" cy="175.4" r="2.4"/><circle cx="175.8" cy="174.1" r="2.4"/><circle cx="165.6" cy="172.3" r="2.4"/><circle cx="187.2" cy="147.8" r="2.4"/><circle cx="188.5" cy="165.5" r="2.4"/><circle cx="162.6" cy="164.4" r="2.4"/><circle cx="187.7" cy="153.4" r="2.4"/><circle cx="178.3" cy="157.9" r="2.4"/><circle cx="188.1" cy="146.3" r="2.4"/><circle cx="179.7" cy="155.0" r="2.4"/><circle cx="183.5" cy="151.8" r="2.4"/><circle cx="170.1" cy="157.0" r="2.4"/><circle cx="185.5" cy="159.8" r="2.4"/><circle cx="177.3" cy="155.8" r="2.4"/><circle cx="171.6" cy="153.7" r="2.4"/><circle cx="177.4" cy="170.9" r="2.4"/><circle cx="188.2" cy="154.8" r="2.4"/><circle cx="164.8" cy="162.8" r="2.4"/><circle cx="195.5" cy="154.9" r="2.4"/><circle cx="169.2" cy="174.4" r="2.4"/><circle cx="180.8" cy="166.2" r="2.4"/><circle cx="168.1" cy="164.3" r="2.4"/><circle cx="182.4" cy="148.1" r="2.4"/><circle cx="181.5" cy="159.2" r="2.4"/><circle cx="176.4" cy="157.6" r="2.4"/><circle cx="176.0" cy="162.2" r="2.4"/><circle cx="184.5" cy="158.5" r="2.4"/><circle cx="181.6" cy="153.0" r="2.4"/><circle cx="179.1" cy="168.8" r="2.4"/><circle cx="172.3" cy="156.4" r="2.4"/><circle cx="173.8" cy="162.7" r="2.4"/><circle cx="168.4" cy="169.7" r="2.4"/><circle cx="181.1" cy="158.2" r="2.4"/><circle cx="170.9" cy="161.5" r="2.4"/><circle cx="186.2" cy="164.5" r="2.4"/><circle cx="175.8" cy="167.8" r="2.4"/><circle cx="178.3" cy="165.1" r="2.4"/><circle cx="197.4" cy="163.6" r="2.4"/><circle cx="171.6" cy="156.5" r="2.4"/><circle cx="175.1" cy="145.7" r="2.4"/><circle cx="168.2" cy="178.4" r="2.4"/><circle cx="171.9" cy="161.0" r="2.4"/><circle cx="197.2" cy="168.4" r="2.4"/><circle cx="171.7" cy="153.0" r="2.4"/><circle cx="176.9" cy="162.7" r="2.4"/><circle cx="185.3" cy="155.8" r="2.4"/><circle cx="166.8" cy="152.5" r="2.4"/><circle cx="190.8" cy="157.0" r="2.4"/><circle cx="189.5" cy="157.9" r="2.4"/><circle cx="175.2" cy="156.8" r="2.4"/><circle cx="176.5" cy="156.6" r="2.4"/><circle cx="192.5" cy="165.1" r="2.4"/><circle cx="182.7" cy="181.3" r="2.4"/><circle cx="184.4" cy="147.9" r="2.4"/><circle cx="188.7" cy="171.1" r="2.4"/><circle cx="173.5" cy="145.6" r="2.4"/><circle cx="189.4" cy="156.7" r="2.4"/><circle cx="183.7" cy="168.0" r="2.4"/><circle cx="179.8" cy="156.9" r="2.4"/><circle cx="181.6" cy="172.4" r="2.4"/><circle cx="176.7" cy="167.9" r="2.4"/><circle cx="181.5" cy="175.5" r="2.4"/><circle cx="191.3" cy="158.6" r="2.4"/><circle cx="175.4" cy="156.2" r="2.4"/><circle cx="172.4" cy="159.3" r="2.4"/><circle cx="177.3" cy="170.8" r="2.4"/><circle cx="173.8" cy="164.6" r="2.4"/><circle cx="190.3" cy="160.5" r="2.4"/><circle cx="166.3" cy="170.1" r="2.4"/><circle cx="191.6" cy="160.6" r="2.4"/><circle cx="192.9" cy="159.3" r="2.4"/><circle cx="171.6" cy="173.7" r="2.4"/><circle cx="187.7" cy="153.9" r="2.4"/><circle cx="179.4" cy="162.0" r="2.4"/><circle cx="185.9" cy="165.7" r="2.4"/><circle cx="164.3" cy="173.0" r="2.4"/><circle cx="175.2" cy="171.5" r="2.4"/><circle cx="170.3" cy="173.6" r="2.4"/><circle cx="184.2" cy="165.5" r="2.4"/><circle cx="176.0" cy="170.3" r="2.4"/><circle cx="163.8" cy="152.9" r="2.4"/><circle cx="169.4" cy="173.1" r="2.4"/><circle cx="165.1" cy="169.3" r="2.4"/><circle cx="170.0" cy="172.3" r="2.4"/><circle cx="184.6" cy="173.2" r="2.4"/><circle cx="172.2" cy="173.1" r="2.4"/><circle cx="196.2" cy="155.9" r="2.4"/><circle cx="168.9" cy="154.3" r="2.4"/><circle cx="179.4" cy="157.6" r="2.4"/><circle cx="175.6" cy="164.7" r="2.4"/><circle cx="176.8" cy="159.9" r="2.4"/><circle cx="184.7" cy="180.4" r="2.4"/><circle cx="186.3" cy="161.9" r="2.4"/><circle cx="188.5" cy="175.6" r="2.4"/><circle cx="166.5" cy="165.0" r="2.4"/><circle cx="196.5" cy="149.4" r="2.4"/><circle cx="177.3" cy="152.1" r="2.4"/><circle cx="172.8" cy="170.4" r="2.4"/><circle cx="175.6" cy="154.7" r="2.4"/><circle cx="181.0" cy="164.6" r="2.4"/><circle cx="174.0" cy="173.2" r="2.4"/><circle cx="186.4" cy="155.4" r="2.4"/><circle cx="179.2" cy="175.4" r="2.4"/><circle cx="181.1" cy="154.7" r="2.4"/><circle cx="190.4" cy="147.0" r="2.4"/><circle cx="175.0" cy="159.7" r="2.4"/><circle cx="188.0" cy="165.5" r="2.4"/><circle cx="173.2" cy="178.4" r="2.4"/><circle cx="180.7" cy="159.4" r="2.4"/><circle cx="184.1" cy="172.9" r="2.4"/><circle cx="180.3" cy="181.7" r="2.4"/><circle cx="170.3" cy="167.7" r="2.4"/><circle cx="175.1" cy="159.6" r="2.4"/><circle cx="174.6" cy="169.3" r="2.4"/><circle cx="180.6" cy="156.7" r="2.4"/><circle cx="183.4" cy="156.5" r="2.4"/><circle cx="170.7" cy="159.7" r="2.4"/><circle cx="186.7" cy="168.5" r="2.4"/><circle cx="174.5" cy="167.7" r="2.4"/><circle cx="177.5" cy="162.6" r="2.4"/><circle cx="178.3" cy="161.6" r="2.4"/><circle cx="188.5" cy="173.0" r="2.4"/><circle cx="174.9" cy="152.1" r="2.4"/><circle cx="184.8" cy="161.0" r="2.4"/><circle cx="191.1" cy="166.5" r="2.4"/><circle cx="163.3" cy="176.9" r="2.4"/><circle cx="166.0" cy="164.7" r="2.4"/><circle cx="187.3" cy="175.7" r="2.4"/><circle cx="169.2" cy="165.0" r="2.4"/><circle cx="182.5" cy="157.8" r="2.4"/><circle cx="186.5" cy="146.5" r="2.4"/><circle cx="174.8" cy="158.8" r="2.4"/><circle cx="196.8" cy="162.9" r="2.4"/><circle cx="172.7" cy="158.8" r="2.4"/><circle cx="168.8" cy="157.5" r="2.4"/><circle cx="177.5" cy="151.8" r="2.4"/><circle cx="191.8" cy="155.0" r="2.4"/><circle cx="169.9" cy="159.2" r="2.4"/><circle cx="187.9" cy="155.4" r="2.4"/><circle cx="168.4" cy="170.4" r="2.4"/><circle cx="173.8" cy="152.0" r="2.4"/><circle cx="186.1" cy="156.8" r="2.4"/><circle cx="182.6" cy="152.5" r="2.4"/><circle cx="181.0" cy="160.9" r="2.4"/><circle cx="172.2" cy="159.8" r="2.4"/><circle cx="175.8" cy="175.4" r="2.4"/><circle cx="191.3" cy="173.4" r="2.4"/><circle cx="169.5" cy="164.0" r="2.4"/><circle cx="184.9" cy="159.0" r="2.4"/><circle cx="189.0" cy="174.9" r="2.4"/><circle cx="195.8" cy="160.9" r="2.4"/><circle cx="192.6" cy="177.4" r="2.4"/><circle cx="178.8" cy="150.2" r="2.4"/><circle cx="164.2" cy="177.7" r="2.4"/><circle cx="198.9" cy="170.8" r="2.4"/><circle cx="185.5" cy="177.8" r="2.4"/><circle cx="178.0" cy="160.9" r="2.4"/><circle cx="179.5" cy="153.0" r="2.4"/><circle cx="179.5" cy="177.6" r="2.4"/><circle cx="183.9" cy="174.2" r="2.4"/><circle cx="194.4" cy="149.0" r="2.4"/><circle cx="189.0" cy="171.5" r="2.4"/><circle cx="170.3" cy="176.1" r="2.4"/><circle cx="187.0" cy="146.8" r="2.4"/><circle cx="176.5" cy="160.1" r="2.4"/><circle cx="165.6" cy="152.5" r="2.4"/><circle cx="171.0" cy="148.1" r="2.4"/><circle cx="190.8" cy="155.4" r="2.4"/><circle cx="166.5" cy="163.8" r="2.4"/><circle cx="186.3" cy="179.4" r="2.4"/><circle cx="178.4" cy="177.9" r="2.4"/><circle cx="181.8" cy="157.2" r="2.4"/><circle cx="166.3" cy="151.4" r="2.4"/><circle cx="166.4" cy="157.4" r="2.4"/><circle cx="182.4" cy="160.0" r="2.4"/><circle cx="166.5" cy="153.6" r="2.4"/><circle cx="186.3" cy="177.0" r="2.4"/><circle cx="167.9" cy="156.8" r="2.4"/><circle cx="168.6" cy="169.4" r="2.4"/><circle cx="188.0" cy="153.6" r="2.4"/><circle cx="171.5" cy="166.8" r="2.4"/><circle cx="172.3" cy="151.2" r="2.4"/><circle cx="178.6" cy="150.3" r="2.4"/><circle cx="185.2" cy="160.1" r="2.4"/><circle cx="192.5" cy="166.8" r="2.4"/><circle cx="197.6" cy="161.2" r="2.4"/><circle cx="177.7" cy="164.5" r="2.4"/><circle cx="189.2" cy="153.9" r="2.4"/><circle cx="170.9" cy="167.2" r="2.4"/><circle cx="179.0" cy="153.4" r="2.4"/><circle cx="193.5" cy="150.1" r="2.4"/><circle cx="185.3" cy="163.9" r="2.4"/><circle cx="197.1" cy="157.2" r="2.4"/><circle cx="189.1" cy="161.2" r="2.4"/><circle cx="168.2" cy="163.0" r="2.4"/><circle cx="191.0" cy="152.8" r="2.4"/><circle cx="167.6" cy="162.2" r="2.4"/><circle cx="176.8" cy="161.0" r="2.4"/><circle cx="187.9" cy="159.7" r="2.4"/><circle cx="169.3" cy="155.2" r="2.4"/><circle cx="175.6" cy="153.7" r="2.4"/><circle cx="194.5" cy="168.2" r="2.4"/><circle cx="170.8" cy="177.9" r="2.4"/><circle cx="188.7" cy="147.6" r="2.4"/><circle cx="162.3" cy="171.4" r="2.4"/><circle cx="180.6" cy="171.4" r="2.4"/><circle cx="179.9" cy="151.1" r="2.4"/><circle cx="170.3" cy="161.4" r="2.4"/><circle cx="167.4" cy="153.1" r="2.4"/><circle cx="166.7" cy="157.2" r="2.4"/><circle cx="172.8" cy="163.8" r="2.4"/><circle cx="178.1" cy="156.0" r="2.4"/><circle cx="193.0" cy="160.2" r="2.4"/><circle cx="189.0" cy="154.8" r="2.4"/><circle cx="179.2" cy="156.1" r="2.4"/><circle cx="182.2" cy="153.5" r="2.4"/><circle cx="181.7" cy="155.3" r="2.4"/><circle cx="168.9" cy="154.1" r="2.4"/><circle cx="198.9" cy="161.1" r="2.4"/><circle cx="168.0" cy="165.7" r="2.4"/><circle cx="172.8" cy="171.3" r="2.4"/><circle cx="175.7" cy="162.1" r="2.4"/><circle cx="180.0" cy="150.5" r="2.4"/><circle cx="175.0" cy="156.0" r="2.4"/><circle cx="171.8" cy="155.6" r="2.4"/><circle cx="181.5" cy="160.7" r="2.4"/><circle cx="167.0" cy="171.3" r="2.4"/><circle cx="188.0" cy="155.3" r="2.4"/><circle cx="175.9" cy="159.4" r="2.4"/><circle cx="177.5" cy="150.5" r="2.4"/><circle cx="188.8" cy="175.1" r="2.4"/><circle cx="189.3" cy="170.0" r="2.4"/><circle cx="178.2" cy="165.6" r="2.4"/><circle cx="186.6" cy="166.9" r="2.4"/><circle cx="195.8" cy="158.3" r="2.4"/><circle cx="174.3" cy="160.7" r="2.4"/><circle cx="168.3" cy="152.8" r="2.4"/><circle cx="182.1" cy="167.4" r="2.4"/><circle cx="184.8" cy="150.8" r="2.4"/><circle cx="176.4" cy="173.0" r="2.4"/><circle cx="171.0" cy="151.6" r="2.4"/><circle cx="186.3" cy="156.1" r="2.4"/><circle cx="172.8" cy="167.6" r="2.4"/><circle cx="184.2" cy="170.7" r="2.4"/><circle cx="188.2" cy="152.9" r="2.4"/><circle cx="183.1" cy="173.2" r="2.4"/><circle cx="167.4" cy="152.8" r="2.4"/><circle cx="187.6" cy="160.4" r="2.4"/><circle cx="185.6" cy="154.8" r="2.4"/><circle cx="162.8" cy="167.8" r="2.4"/><circle cx="171.1" cy="146.4" r="2.4"/><circle cx="188.4" cy="172.0" r="2.4"/><circle cx="160.3" cy="155.9" r="2.4"/><circle cx="174.9" cy="157.2" r="2.4"/><circle cx="186.8" cy="168.5" r="2.4"/><circle cx="191.8" cy="156.9" r="2.4"/><circle cx="176.8" cy="156.1" r="2.4"/><circle cx="163.1" cy="167.4" r="2.4"/><circle cx="185.6" cy="160.1" r="2.4"/><circle cx="171.8" cy="163.9" r="2.4"/><circle cx="185.0" cy="159.4" r="2.4"/><circle cx="181.6" cy="159.6" r="2.4"/><circle cx="198.4" cy="161.5" r="2.4"/><circle cx="172.7" cy="161.2" r="2.4"/><circle cx="197.6" cy="156.0" r="2.4"/><circle cx="189.5" cy="149.8" r="2.4"/><circle cx="168.5" cy="163.4" r="2.4"/><circle cx="173.0" cy="161.4" r="2.4"/><circle cx="186.4" cy="156.6" r="2.4"/><circle cx="174.6" cy="154.5" r="2.4"/><circle cx="176.2" cy="164.2" r="2.4"/><circle cx="170.5" cy="169.0" r="2.4"/><circle cx="187.0" cy="160.8" r="2.4"/><circle cx="186.6" cy="153.8" r="2.4"/><circle cx="197.6" cy="169.3" r="2.4"/><circle cx="181.3" cy="160.5" r="2.4"/><circle cx="166.0" cy="151.5" r="2.4"/><circle cx="190.1" cy="161.2" r="2.4"/><circle cx="179.0" cy="171.1" r="2.4"/><circle cx="184.9" cy="170.4" r="2.4"/><circle cx="178.9" cy="162.4" r="2.4"/><circle cx="184.9" cy="156.6" r="2.4"/><circle cx="189.9" cy="157.7" r="2.4"/><circle cx="171.2" cy="155.3" r="2.4"/><circle cx="172.9" cy="145.5" r="2.4"/><circle cx="193.3" cy="177.3" r="2.4"/><circle cx="192.1" cy="171.1" r="2.4"/><circle cx="170.1" cy="160.5" r="2.4"/><circle cx="182.1" cy="156.2" r="2.4"/><circle cx="185.8" cy="168.2" r="2.4"/><circle cx="180.9" cy="160.3" r="2.4"/><circle cx="174.9" cy="171.4" r="2.4"/><circle cx="199.0" cy="149.1" r="2.4"/><circle cx="186.7" cy="157.4" r="2.4"/><circle cx="181.2" cy="158.3" r="2.4"/><circle cx="166.4" cy="174.8" r="2.4"/><circle cx="172.0" cy="166.4" r="2.4"/><circle cx="164.1" cy="167.1" r="2.4"/><circle cx="185.0" cy="179.3" r="2.4"/><circle cx="196.4" cy="165.2" r="2.4"/><circle cx="175.4" cy="172.4" r="2.4"/><circle cx="184.5" cy="168.1" r="2.4"/><circle cx="173.9" cy="157.4" r="2.4"/><circle cx="168.8" cy="160.0" r="2.4"/><circle cx="190.1" cy="154.3" r="2.4"/><circle cx="167.2" cy="148.3" r="2.4"/><circle cx="181.9" cy="151.1" r="2.4"/><circle cx="182.9" cy="162.1" r="2.4"/><circle cx="174.7" cy="160.4" r="2.4"/><circle cx="171.6" cy="166.8" r="2.4"/><circle cx="182.0" cy="148.9" r="2.4"/><circle cx="179.2" cy="170.2" r="2.4"/><circle cx="173.4" cy="162.8" r="2.4"/><circle cx="175.7" cy="155.9" r="2.4"/><circle cx="176.6" cy="178.0" r="2.4"/><circle cx="178.9" cy="161.5" r="2.4"/><circle cx="163.3" cy="158.7" r="2.4"/><circle cx="176.3" cy="154.6" r="2.4"/><circle cx="170.5" cy="146.7" r="2.4"/><circle cx="177.7" cy="166.3" r="2.4"/><circle cx="181.7" cy="152.5" r="2.4"/><circle cx="171.8" cy="176.4" r="2.4"/><circle cx="181.3" cy="156.7" r="2.4"/><circle cx="184.5" cy="172.5" r="2.4"/><circle cx="171.6" cy="158.2" r="2.4"/><circle cx="188.6" cy="158.4" r="2.4"/><circle cx="175.5" cy="172.2" r="2.4"/><circle cx="187.8" cy="155.8" r="2.4"/><circle cx="172.0" cy="147.9" r="2.4"/><circle cx="179.1" cy="161.9" r="2.4"/><circle cx="191.7" cy="160.8" r="2.4"/><circle cx="190.7" cy="166.2" r="2.4"/><circle cx="192.5" cy="162.0" r="2.4"/><circle cx="179.3" cy="161.2" r="2.4"/><circle cx="171.9" cy="176.5" r="2.4"/><circle cx="184.6" cy="161.8" r="2.4"/><circle cx="179.2" cy="173.0" r="2.4"/><circle cx="175.1" cy="167.3" r="2.4"/><circle cx="168.2" cy="156.3" r="2.4"/><circle cx="185.0" cy="161.2" r="2.4"/><circle cx="163.7" cy="175.9" r="2.4"/><circle cx="186.2" cy="158.9" r="2.4"/><circle cx="190.6" cy="155.5" r="2.4"/><circle cx="186.7" cy="164.6" r="2.4"/><circle cx="173.5" cy="154.2" r="2.4"/><circle cx="172.4" cy="171.1" r="2.4"/><circle cx="180.0" cy="155.0" r="2.4"/><circle cx="187.5" cy="151.1" r="2.4"/><circle cx="182.0" cy="164.8" r="2.4"/><circle cx="185.3" cy="164.0" r="2.4"/><circle cx="177.0" cy="176.0" r="2.4"/><circle cx="179.6" cy="171.8" r="2.4"/><circle cx="165.0" cy="167.1" r="2.4"/><circle cx="163.5" cy="168.1" r="2.4"/><circle cx="168.4" cy="168.1" r="2.4"/><circle cx="189.6" cy="151.0" r="2.4"/><circle cx="173.2" cy="168.1" r="2.4"/><circle cx="194.7" cy="174.2" r="2.4"/><circle cx="173.3" cy="166.4" r="2.4"/><circle cx="175.1" cy="165.9" r="2.4"/><circle cx="179.8" cy="151.8" r="2.4"/><circle cx="182.6" cy="151.8" r="2.4"/><circle cx="177.4" cy="165.2" r="2.4"/><circle cx="179.9" cy="167.2" r="2.4"/><circle cx="191.9" cy="176.7" r="2.4"/><circle cx="177.1" cy="165.6" r="2.4"/><circle cx="171.7" cy="170.5" r="2.4"/><circle cx="185.3" cy="160.2" r="2.4"/><circle cx="192.4" cy="177.6" r="2.4"/><circle cx="186.4" cy="161.1" r="2.4"/><circle cx="183.9" cy="153.7" r="2.4"/><circle cx="184.5" cy="167.0" r="2.4"/><circle cx="188.9" cy="161.5" r="2.4"/><circle cx="185.6" cy="164.9" r="2.4"/><circle cx="161.1" cy="180.2" r="2.4"/><circle cx="175.4" cy="155.9" r="2.4"/><circle cx="172.6" cy="169.8" r="2.4"/><circle cx="183.7" cy="157.2" r="2.4"/><circle cx="174.8" cy="145.4" r="2.4"/><circle cx="181.0" cy="150.0" r="2.4"/><circle cx="180.2" cy="172.7" r="2.4"/><circle cx="194.4" cy="162.7" r="2.4"/><circle cx="179.7" cy="173.4" r="2.4"/><circle cx="187.6" cy="166.5" r="2.4"/><circle cx="191.3" cy="153.5" r="2.4"/><circle cx="160.2" cy="161.7" r="2.4"/><circle cx="173.1" cy="165.7" r="2.4"/><circle cx="182.1" cy="165.3" r="2.4"/><circle cx="187.9" cy="165.4" r="2.4"/><circle cx="175.1" cy="178.0" r="2.4"/><circle cx="179.1" cy="162.7" r="2.4"/><circle cx="183.4" cy="157.8" r="2.4"/><circle cx="178.7" cy="174.0" r="2.4"/><circle cx="163.3" cy="180.2" r="2.4"/><circle cx="179.6" cy="155.4" r="2.4"/><circle cx="180.1" cy="165.1" r="2.4"/><circle cx="187.4" cy="155.7" r="2.4"/><circle cx="181.3" cy="153.1" r="2.4"/><circle cx="171.1" cy="151.9" r="2.4"/><circle cx="177.7" cy="169.8" r="2.4"/><circle cx="179.2" cy="174.8" r="2.4"/><circle cx="175.4" cy="158.6" r="2.4"/><circle cx="183.1" cy="148.1" r="2.4"/><circle cx="170.8" cy="164.5" r="2.4"/><circle cx="190.9" cy="151.2" r="2.4"/><circle cx="175.3" cy="172.0" r="2.4"/><circle cx="181.0" cy="174.1" r="2.4"/><circle cx="197.2" cy="156.0" r="2.4"/><circle cx="187.0" cy="151.5" r="2.4"/><circle cx="171.3" cy="164.6" r="2.4"/><circle cx="188.3" cy="146.1" r="2.4"/><circle cx="189.5" cy="152.6" r="2.4"/><circle cx="185.6" cy="160.4" r="2.4"/><circle cx="173.0" cy="150.3" r="2.4"/><circle cx="168.2" cy="174.2" r="2.4"/><circle cx="186.2" cy="165.2" r="2.4"/><circle cx="170.9" cy="159.6" r="2.4"/><circle cx="194.7" cy="171.6" r="2.4"/><circle cx="195.2" cy="147.7" r="2.4"/><circle cx="188.3" cy="171.2" r="2.4"/><circle cx="187.9" cy="171.2" r="2.4"/><circle cx="176.6" cy="159.0" r="2.4"/><circle cx="177.7" cy="160.7" r="2.4"/><circle cx="161.2" cy="159.1" r="2.4"/><circle cx="188.6" cy="181.0" r="2.4"/><circle cx="184.2" cy="169.8" r="2.4"/><circle cx="174.1" cy="173.1" r="2.4"/><circle cx="191.5" cy="169.2" r="2.4"/><circle cx="167.3" cy="153.7" r="2.4"/><circle cx="186.6" cy="158.8" r="2.4"/><circle cx="181.7" cy="162.8" r="2.4"/><circle cx="173.5" cy="158.0" r="2.4"/><circle cx="186.6" cy="169.5" r="2.4"/><circle cx="190.0" cy="162.3" r="2.4"/><circle cx="179.8" cy="179.0" r="2.4"/><circle cx="161.1" cy="174.6" r="2.4"/><circle cx="189.1" cy="181.2" r="2.4"/><circle cx="162.4" cy="169.7" r="2.4"/><circle cx="176.1" cy="171.4" r="2.4"/><circle cx="171.7" cy="150.6" r="2.4"/><circle cx="179.4" cy="160.5" r="2.4"/><circle cx="179.5" cy="160.4" r="2.4"/><circle cx="189.0" cy="148.8" r="2.4"/><circle cx="180.2" cy="179.0" r="2.4"/><circle cx="182.4" cy="165.8" r="2.4"/><circle cx="177.0" cy="172.7" r="2.4"/><circle cx="183.9" cy="162.4" r="2.4"/><circle cx="184.7" cy="160.7" r="2.4"/><circle cx="177.1" cy="158.5" r="2.4"/><circle cx="192.3" cy="145.5" r="2.4"/><circle cx="194.6" cy="168.2" r="2.4"/><circle cx="195.0" cy="167.1" r="2.4"/><circle cx="175.3" cy="160.5" r="2.4"/><circle cx="183.5" cy="145.5" r="2.4"/><circle cx="175.1" cy="155.0" r="2.4"/><circle cx="177.4" cy="163.6" r="2.4"/><circle cx="173.0" cy="157.3" r="2.4"/><circle cx="185.4" cy="171.2" r="2.4"/><circle cx="163.7" cy="178.1" r="2.4"/><circle cx="179.5" cy="165.5" r="2.4"/><circle cx="167.6" cy="165.9" r="2.4"/><circle cx="188.0" cy="168.5" r="2.4"/><circle cx="186.2" cy="174.1" r="2.4"/><circle cx="167.8" cy="145.7" r="2.4"/><circle cx="179.6" cy="162.4" r="2.4"/><circle cx="171.1" cy="147.4" r="2.4"/><circle cx="180.6" cy="162.3" r="2.4"/><circle cx="169.4" cy="171.3" r="2.4"/><circle cx="186.1" cy="165.9" r="2.4"/><circle cx="171.7" cy="169.7" r="2.4"/><circle cx="188.3" cy="164.9" r="2.4"/><circle cx="188.4" cy="159.1" r="2.4"/><circle cx="170.6" cy="149.4" r="2.4"/><circle cx="175.6" cy="166.5" r="2.4"/><circle cx="179.9" cy="167.2" r="2.4"/><circle cx="194.6" cy="170.9" r="2.4"/><circle cx="193.2" cy="170.3" r="2.4"/><circle cx="168.2" cy="161.9" r="2.4"/><circle cx="184.5" cy="157.0" r="2.4"/><circle cx="171.6" cy="170.4" r="2.4"/><circle cx="188.1" cy="162.3" r="2.4"/><circle cx="167.3" cy="169.8" r="2.4"/><circle cx="193.3" cy="174.6" r="2.4"/><circle cx="180.8" cy="172.5" r="2.4"/><circle cx="173.4" cy="161.2" r="2.4"/><circle cx="196.2" cy="165.5" r="2.4"/><circle cx="184.3" cy="167.5" r="2.4"/><circle cx="161.2" cy="170.4" r="2.4"/><circle cx="177.8" cy="168.2" r="2.4"/><circle cx="175.0" cy="157.8" r="2.4"/><circle cx="163.8" cy="156.0" r="2.4"/><circle cx="186.2" cy="163.9" r="2.4"/><circle cx="178.3" cy="155.2" r="2.4"/><circle cx="166.5" cy="159.4" r="2.4"/><circle cx="177.7" cy="153.9" r="2.4"/><circle cx="182.8" cy="166.7" r="2.4"/><circle cx="184.3" cy="160.3" r="2.4"/><circle cx="195.9" cy="170.7" r="2.4"/><circle cx="172.5" cy="165.6" r="2.4"/><circle cx="180.0" cy="167.8" r="2.4"/><circle cx="174.4" cy="154.0" r="2.4"/><circle cx="186.3" cy="153.9" r="2.4"/><circle cx="194.8" cy="170.6" r="2.4"/><circle cx="167.9" cy="173.7" r="2.4"/><circle cx="174.2" cy="166.1" r="2.4"/><circle cx="177.8" cy="173.5" r="2.4"/><circle cx="165.4" cy="167.9" r="2.4"/><circle cx="187.9" cy="170.5" r="2.4"/><circle cx="168.9" cy="149.9" r="2.4"/><circle cx="189.4" cy="180.9" r="2.4"/><circle cx="184.8" cy="176.9" r="2.4"/><circle cx="170.8" cy="167.4" r="2.4"/><circle cx="179.7" cy="167.6" r="2.4"/><circle cx="160.2" cy="168.4" r="2.4"/><circle cx="187.9" cy="175.2" r="2.4"/><circle cx="171.4" cy="155.4" r="2.4"/><circle cx="165.4" cy="170.3" r="2.4"/><circle cx="162.7" cy="166.7" r="2.4"/><circle cx="186.7" cy="160.5" r="2.4"/><circle cx="182.8" cy="180.7" r="2.4"/><circle cx="166.4" cy="164.3" r="2.4"/><circle cx="182.4" cy="161.1" r="2.4"/><circle cx="176.2" cy="168.4" r="2.4"/><circle cx="176.3" cy="166.8" r="2.4"/><circle cx="174.8" cy="175.4" r="2.4"/><circle cx="186.9" cy="173.2" r="2.4"/><circle cx="172.3" cy="171.7" r="2.4"/><circle cx="186.9" cy="159.5" r="2.4"/><circle cx="183.6" cy="172.5" r="2.4"/><circle cx="184.1" cy="166.3" r="2.4"/><circle cx="188.2" cy="156.5" r="2.4"/><circle cx="183.8" cy="155.2" r="2.4"/><circle cx="177.8" cy="163.2" r="2.4"/><circle cx="168.0" cy="166.2" r="2.4"/><circle cx="184.2" cy="171.5" r="2.4"/><circle cx="173.5" cy="158.3" r="2.4"/><circle cx="174.8" cy="169.0" r="2.4"/><circle cx="189.8" cy="167.3" r="2.4"/><circle cx="176.7" cy="158.3" r="2.4"/><circle cx="196.5" cy="173.5" r="2.4"/><circle cx="180.1" cy="174.6" r="2.4"/><circle cx="176.3" cy="169.9" r="2.4"/><circle cx="189.0" cy="157.5" r="2.4"/><circle cx="191.6" cy="166.8" r="2.4"/><circle cx="167.2" cy="156.8" r="2.4"/><circle cx="188.6" cy="163.9" r="2.4"/><circle cx="170.9" cy="163.2" r="2.4"/><circle cx="172.6" cy="165.2" r="2.4"/><circle cx="192.9" cy="150.5" r="2.4"/><circle cx="172.7" cy="158.7" r="2.4"/><circle cx="168.1" cy="157.9" r="2.4"/><circle cx="164.1" cy="168.2" r="2.4"/><circle cx="181.7" cy="172.5" r="2.4"/><circle cx="180.9" cy="161.6" r="2.4"/><circle cx="194.8" cy="155.4" r="2.4"/><circle cx="176.0" cy="159.6" r="2.4"/><circle cx="179.0" cy="155.3" r="2.4"/><circle cx="188.2" cy="168.3" r="2.4"/><circle cx="185.7" cy="165.9" r="2.4"/><circle cx="195.4" cy="161.0" r="2.4"/><circle cx="193.7" cy="171.2" r="2.4"/><circle cx="187.1" cy="164.3" r="2.4"/><circle cx="185.2" cy="174.5" r="2.4"/><circle cx="187.7" cy="171.0" r="2.4"/><circle cx="194.4" cy="161.9" r="2.4"/><circle cx="173.4" cy="158.2" r="2.4"/><circle cx="178.9" cy="150.8" r="2.4"/><circle cx="185.3" cy="152.0" r="2.4"/><circle cx="178.4" cy="150.9" r="2.4"/><circle cx="169.2" cy="172.3" r="2.4"/><circle cx="181.0" cy="163.0" r="2.4"/><circle cx="192.3" cy="165.1" r="2.4"/><circle cx="172.7" cy="177.4" r="2.4"/><circle cx="190.5" cy="164.8" r="2.4"/><circle cx="185.2" cy="148.6" r="2.4"/><circle cx="179.8" cy="165.4" r="2.4"/><circle cx="177.5" cy="178.7" r="2.4"/><circle cx="189.5" cy="159.4" r="2.4"/><circle cx="190.7" cy="154.8" r="2.4"/><circle cx="160.3" cy="177.6" r="2.4"/><circle cx="190.1" cy="148.6" r="2.4"/><circle cx="179.4" cy="172.4" r="2.4"/><circle cx="190.6" cy="163.5" r="2.4"/><circle cx="168.1" cy="170.7" r="2.4"/><circle cx="185.8" cy="167.1" r="2.4"/><circle cx="168.4" cy="167.2" r="2.4"/><circle cx="169.9" cy="180.8" r="2.4"/><circle cx="161.2" cy="153.7" r="2.4"/><circle cx="166.2" cy="165.5" r="2.4"/><circle cx="169.0" cy="155.7" r="2.4"/><circle cx="193.6" cy="153.6" r="2.4"/><circle cx="188.5" cy="167.3" r="2.4"/><circle cx="170.7" cy="160.0" r="2.4"/><circle cx="175.3" cy="177.4" r="2.4"/><circle cx="182.4" cy="164.4" r="2.4"/><circle cx="177.8" cy="165.9" r="2.4"/><circle cx="178.6" cy="162.4" r="2.4"/><circle cx="177.5" cy="178.2" r="2.4"/><circle cx="177.9" cy="177.4" r="2.4"/><circle cx="179.4" cy="179.1" r="2.4"/><circle cx="176.1" cy="178.5" r="2.4"/><circle cx="171.2" cy="149.9" r="2.4"/><circle cx="162.5" cy="172.2" r="2.4"/><circle cx="181.0" cy="156.3" r="2.4"/><circle cx="190.6" cy="147.3" r="2.4"/><circle cx="196.1" cy="158.8" r="2.4"/><circle cx="192.1" cy="169.7" r="2.4"/><circle cx="172.6" cy="157.1" r="2.4"/><circle cx="170.0" cy="165.8" r="2.4"/><circle cx="164.0" cy="168.4" r="2.4"/><circle cx="183.3" cy="161.5" r="2.4"/><circle cx="178.5" cy="165.7" r="2.4"/><circle cx="191.9" cy="159.5" r="2.4"/><circle cx="187.3" cy="154.8" r="2.4"/><circle cx="190.2" cy="155.3" r="2.4"/><circle cx="174.5" cy="164.2" r="2.4"/><circle cx="180.5" cy="170.1" r="2.4"/><circle cx="179.4" cy="161.1" r="2.4"/><circle cx="192.0" cy="151.0" r="2.4"/><circle cx="179.7" cy="160.9" r="2.4"/><circle cx="184.3" cy="169.2" r="2.4"/><circle cx="184.2" cy="168.0" r="2.4"/><circle cx="189.2" cy="146.6" r="2.4"/><circle cx="191.1" cy="180.1" r="2.4"/><circle cx="182.5" cy="166.3" r="2.4"/><circle cx="179.6" cy="179.3" r="2.4"/><circle cx="180.6" cy="164.2" r="2.4"/><circle cx="190.7" cy="150.9" r="2.4"/><circle cx="184.0" cy="164.3" r="2.4"/><circle cx="162.8" cy="156.7" r="2.4"/><circle cx="184.4" cy="153.6" r="2.4"/><circle cx="175.5" cy="173.7" r="2.4"/><circle cx="181.6" cy="168.4" r="2.4"/><circle cx="189.2" cy="167.3" r="2.4"/><circle cx="181.3" cy="177.5" r="2.4"/><circle cx="168.7" cy="165.9" r="2.4"/><circle cx="192.0" cy="169.9" r="2.4"/><circle cx="176.2" cy="161.2" r="2.4"/><circle cx="194.6" cy="153.0" r="2.4"/><circle cx="189.5" cy="165.4" r="2.4"/><circle cx="194.6" cy="166.4" r="2.4"/><circle cx="168.7" cy="158.7" r="2.4"/><circle cx="190.9" cy="161.8" r="2.4"/><circle cx="185.0" cy="176.0" r="2.4"/><circle cx="179.1" cy="162.6" r="2.4"/><circle cx="170.7" cy="156.0" r="2.4"/><circle cx="174.1" cy="181.7" r="2.4"/><circle cx="183.1" cy="162.6" r="2.4"/><circle cx="194.7" cy="163.2" r="2.4"/><circle cx="162.0" cy="151.2" r="2.4"/><circle cx="195.4" cy="169.1" r="2.4"/><circle cx="190.1" cy="160.3" r="2.4"/><circle cx="183.7" cy="149.9" r="2.4"/><circle cx="186.4" cy="166.0" r="2.4"/><circle cx="170.1" cy="152.1" r="2.4"/><circle cx="183.5" cy="173.9" r="2.4"/><circle cx="175.6" cy="156.0" r="2.4"/><circle cx="193.8" cy="175.5" r="2.4"/><circle cx="175.4" cy="165.3" r="2.4"/><circle cx="197.5" cy="169.9" r="2.4"/><circle cx="170.5" cy="152.4" r="2.4"/><circle cx="171.5" cy="172.6" r="2.4"/><circle cx="177.8" cy="169.6" r="2.4"/><circle cx="176.9" cy="156.9" r="2.4"/><circle cx="184.5" cy="171.6" r="2.4"/><circle cx="175.1" cy="172.9" r="2.4"/><circle cx="175.5" cy="167.6" r="2.4"/><circle cx="174.2" cy="163.0" r="2.4"/><circle cx="180.1" cy="181.3" r="2.4"/><circle cx="177.1" cy="149.1" r="2.4"/><circle cx="166.1" cy="160.9" r="2.4"/><circle cx="181.6" cy="160.7" r="2.4"/><circle cx="197.4" cy="148.5" r="2.4"/><circle cx="168.0" cy="171.9" r="2.4"/><circle cx="164.9" cy="151.4" r="2.4"/><circle cx="195.9" cy="174.6" r="2.4"/><circle cx="187.3" cy="158.5" r="2.4"/><circle cx="183.9" cy="156.8" r="2.4"/><circle cx="178.2" cy="158.8" r="2.4"/><circle cx="186.7" cy="150.8" r="2.4"/><circle cx="192.4" cy="162.9" r="2.4"/><circle cx="185.9" cy="149.6" r="2.4"/><circle cx="173.9" cy="163.8" r="2.4"/><circle cx="187.5" cy="158.6" r="2.4"/><circle cx="173.2" cy="177.0" r="2.4"/><circle cx="194.9" cy="154.9" r="2.4"/><circle cx="167.2" cy="164.5" r="2.4"/><circle cx="185.9" cy="157.8" r="2.4"/><circle cx="184.5" cy="155.9" r="2.4"/><circle cx="189.7" cy="146.4" r="2.4"/><circle cx="187.7" cy="175.7" r="2.4"/><circle cx="182.8" cy="160.6" r="2.4"/><circle cx="177.8" cy="145.5" r="2.4"/><circle cx="195.8" cy="156.3" r="2.4"/><circle cx="166.2" cy="156.8" r="2.4"/><circle cx="183.6" cy="166.1" r="2.4"/><circle cx="171.4" cy="160.6" r="2.4"/><circle cx="180.1" cy="150.9" r="2.4"/><circle cx="177.6" cy="155.5" r="2.4"/><circle cx="178.2" cy="147.3" r="2.4"/><circle cx="192.0" cy="149.9" r="2.4"/><circle cx="178.4" cy="160.4" r="2.4"/><circle cx="187.5" cy="160.3" r="2.4"/><circle cx="186.0" cy="162.2" r="2.4"/><circle cx="175.0" cy="165.1" r="2.4"/><circle cx="179.6" cy="174.4" r="2.4"/><circle cx="166.5" cy="172.1" r="2.4"/><circle cx="179.0" cy="155.6" r="2.4"/><circle cx="187.7" cy="147.7" r="2.4"/><circle cx="176.7" cy="168.2" r="2.4"/><circle cx="188.8" cy="162.9" r="2.4"/><circle cx="173.1" cy="164.5" r="2.4"/><circle cx="162.6" cy="151.2" r="2.4"/><circle cx="173.0" cy="161.5" r="2.4"/><circle cx="172.0" cy="169.2" r="2.4"/><circle cx="185.3" cy="161.9" r="2.4"/><circle cx="182.9" cy="160.6" r="2.4"/><circle cx="196.7" cy="160.5" r="2.4"/><circle cx="173.3" cy="152.9" r="2.4"/><circle cx="172.3" cy="158.8" r="2.4"/><circle cx="174.9" cy="154.2" r="2.4"/><circle cx="184.7" cy="161.3" r="2.4"/><circle cx="187.8" cy="147.3" r="2.4"/><circle cx="193.4" cy="147.9" r="2.4"/><circle cx="173.6" cy="161.8" r="2.4"/><circle cx="195.3" cy="148.4" r="2.4"/><circle cx="175.2" cy="168.5" r="2.4"/><circle cx="171.8" cy="151.8" r="2.4"/><circle cx="179.3" cy="156.3" r="2.4"/><circle cx="193.8" cy="172.6" r="2.4"/><circle cx="177.8" cy="159.1" r="2.4"/><circle cx="183.8" cy="148.9" r="2.4"/><circle cx="172.8" cy="168.8" r="2.4"/><circle cx="172.4" cy="150.5" r="2.4"/><circle cx="189.6" cy="179.2" r="2.4"/><circle cx="177.5" cy="169.7" r="2.4"/><circle cx="187.0" cy="146.9" r="2.4"/><circle cx="161.6" cy="166.8" r="2.4"/><circle cx="189.1" cy="145.4" r="2.4"/><circle cx="193.1" cy="163.4" r="2.4"/><circle cx="160.5" cy="176.0" r="2.4"/><circle cx="174.1" cy="158.8" r="2.4"/><circle cx="190.2" cy="165.3" r="2.4"/><circle cx="177.3" cy="153.2" r="2.4"/><circle cx="179.5" cy="163.9" r="2.4"/><circle cx="171.7" cy="172.1" r="2.4"/><circle cx="175.9" cy="167.1" r="2.4"/><circle cx="190.5" cy="178.9" r="2.4"/><circle cx="189.8" cy="163.2" r="2.4"/><circle cx="185.2" cy="171.5" r="2.4"/><circle cx="182.5" cy="165.4" r="2.4"/><circle cx="169.3" cy="171.7" r="2.4"/><circle cx="171.4" cy="173.9" r="2.4"/><circle cx="175.6" cy="157.6" r="2.4"/><circle cx="181.2" cy="155.0" r="2.4"/><circle cx="182.3" cy="163.8" r="2.4"/><circle cx="183.4" cy="146.9" r="2.4"/><circle cx="178.8" cy="161.1" r="2.4"/><circle cx="176.9" cy="176.5" r="2.4"/><circle cx="168.6" cy="176.2" r="2.4"/><circle cx="182.7" cy="158.1" r="2.4"/><circle cx="169.5" cy="171.5" r="2.4"/><circle cx="174.9" cy="160.0" r="2.4"/><circle cx="173.5" cy="164.1" r="2.4"/><circle cx="178.0" cy="149.4" r="2.4"/><circle cx="184.3" cy="167.3" r="2.4"/><circle cx="167.7" cy="164.1" r="2.4"/><circle cx="193.3" cy="165.4" r="2.4"/><circle cx="188.1" cy="168.2" r="2.4"/><circle cx="173.0" cy="156.0" r="2.4"/><circle cx="186.1" cy="151.4" r="2.4"/><circle cx="171.4" cy="155.3" r="2.4"/><circle cx="179.9" cy="172.8" r="2.4"/><circle cx="177.2" cy="166.3" r="2.4"/><circle cx="166.8" cy="167.7" r="2.4"/><circle cx="183.7" cy="158.3" r="2.4"/><circle cx="196.5" cy="152.3" r="2.4"/><circle cx="195.0" cy="156.9" r="2.4"/><circle cx="182.7" cy="162.7" r="2.4"/><circle cx="180.4" cy="171.1" r="2.4"/><circle cx="182.5" cy="170.7" r="2.4"/><circle cx="179.2" cy="170.9" r="2.4"/><circle cx="171.9" cy="171.9" r="2.4"/><circle cx="188.3" cy="158.7" r="2.4"/><circle cx="164.8" cy="156.9" r="2.4"/><circle cx="180.6" cy="148.8" r="2.4"/><circle cx="192.0" cy="156.5" r="2.4"/><circle cx="169.8" cy="155.9" r="2.4"/><circle cx="176.0" cy="168.0" r="2.4"/><circle cx="179.9" cy="157.3" r="2.4"/><circle cx="169.6" cy="157.9" r="2.4"/><circle cx="172.5" cy="159.0" r="2.4"/><circle cx="183.4" cy="150.0" r="2.4"/><circle cx="195.0" cy="165.7" r="2.4"/><circle cx="173.6" cy="177.3" r="2.4"/><circle cx="171.8" cy="148.5" r="2.4"/><circle cx="167.0" cy="170.0" r="2.4"/><circle cx="178.3" cy="174.7" r="2.4"/><circle cx="171.9" cy="160.0" r="2.4"/><circle cx="172.1" cy="152.8" r="2.4"/><circle cx="164.4" cy="164.0" r="2.4"/><circle cx="186.9" cy="155.3" r="2.4"/><circle cx="188.2" cy="163.3" r="2.4"/><circle cx="173.8" cy="174.1" r="2.4"/><circle cx="162.6" cy="154.7" r="2.4"/><circle cx="178.9" cy="159.1" r="2.4"/><circle cx="192.1" cy="162.8" r="2.4"/><circle cx="184.4" cy="153.2" r="2.4"/><circle cx="162.2" cy="170.1" r="2.4"/><circle cx="180.7" cy="155.4" r="2.4"/><circle cx="196.3" cy="153.8" r="2.4"/><circle cx="178.1" cy="153.6" r="2.4"/><circle cx="162.7" cy="161.1" r="2.4"/><circle cx="192.7" cy="166.8" r="2.4"/><circle cx="191.8" cy="175.6" r="2.4"/><circle cx="189.3" cy="170.5" r="2.4"/><circle cx="194.7" cy="171.3" r="2.4"/><circle cx="185.6" cy="161.4" r="2.4"/><circle cx="180.8" cy="162.9" r="2.4"/><circle cx="191.3" cy="171.4" r="2.4"/><circle cx="175.5" cy="173.3" r="2.4"/><circle cx="178.1" cy="173.1" r="2.4"/><circle cx="168.3" cy="168.6" r="2.4"/><circle cx="185.0" cy="169.9" r="2.4"/><circle cx="165.1" cy="164.6" r="2.4"/><circle cx="169.5" cy="163.7" r="2.4"/><circle cx="198.5" cy="173.1" r="2.4"/><circle cx="170.6" cy="171.1" r="2.4"/><circle cx="176.4" cy="154.7" r="2.4"/><circle cx="178.2" cy="149.4" r="2.4"/><circle cx="178.2" cy="167.3" r="2.4"/><circle cx="189.6" cy="160.1" r="2.4"/><circle cx="186.5" cy="159.2" r="2.4"/><circle cx="182.1" cy="160.4" r="2.4"/><circle cx="174.4" cy="174.4" r="2.4"/><circle cx="198.9" cy="157.3" r="2.4"/><circle cx="170.7" cy="173.0" r="2.4"/><circle cx="183.6" cy="172.5" r="2.4"/><circle cx="164.4" cy="161.8" r="2.4"/><circle cx="183.8" cy="174.9" r="2.4"/><circle cx="181.8" cy="152.9" r="2.4"/><circle cx="165.0" cy="165.4" r="2.4"/><circle cx="191.2" cy="156.2" r="2.4"/><circle cx="164.7" cy="169.1" r="2.4"/><circle cx="187.6" cy="156.1" r="2.4"/><circle cx="167.3" cy="179.1" r="2.4"/><circle cx="177.1" cy="154.2" r="2.4"/><circle cx="197.2" cy="150.6" r="2.4"/><circle cx="176.0" cy="166.8" r="2.4"/><circle cx="197.3" cy="160.5" r="2.4"/><circle cx="191.7" cy="161.7" r="2.4"/><circle cx="178.1" cy="154.5" r="2.4"/><circle cx="170.5" cy="172.5" r="2.4"/><circle cx="177.1" cy="156.8" r="2.4"/><circle cx="179.8" cy="177.1" r="2.4"/><circle cx="179.9" cy="166.0" r="2.4"/><circle cx="163.9" cy="156.6" r="2.4"/><circle cx="186.7" cy="156.3" r="2.4"/><circle cx="194.6" cy="165.4" r="2.4"/><circle cx="181.5" cy="169.5" r="2.4"/><circle cx="168.9" cy="172.4" r="2.4"/><circle cx="167.1" cy="153.7" r="2.4"/><circle cx="175.7" cy="173.2" r="2.4"/><circle cx="180.0" cy="156.8" r="2.4"/><circle cx="183.7" cy="166.1" r="2.4"/><circle cx="181.0" cy="156.5" r="2.4"/><circle cx="166.3" cy="178.8" r="2.4"/><circle cx="177.5" cy="181.9" r="2.4"/><circle cx="180.5" cy="161.4" r="2.4"/><circle cx="187.6" cy="168.3" r="2.4"/><circle cx="185.2" cy="171.0" r="2.4"/><circle cx="177.4" cy="155.0" r="2.4"/><circle cx="176.6" cy="172.3" r="2.4"/><circle cx="169.4" cy="167.8" r="2.4"/><circle cx="164.8" cy="169.0" r="2.4"/><circle cx="177.3" cy="160.7" r="2.4"/><circle cx="188.7" cy="165.9" r="2.4"/><circle cx="172.2" cy="155.4" r="2.4"/><circle cx="184.0" cy="168.9" r="2.4"/><circle cx="163.5" cy="175.1" r="2.4"/><circle cx="175.0" cy="158.3" r="2.4"/><circle cx="172.4" cy="162.4" r="2.4"/><circle cx="187.7" cy="157.8" r="2.4"/><circle cx="177.3" cy="167.7" r="2.4"/><circle cx="173.3" cy="171.7" r="2.4"/><circle cx="175.5" cy="163.7" r="2.4"/><circle cx="174.7" cy="158.1" r="2.4"/><circle cx="172.7" cy="158.9" r="2.4"/><circle cx="189.2" cy="149.6" r="2.4"/><circle cx="173.2" cy="161.8" r="2.4"/><circle cx="182.0" cy="166.9" r="2.4"/><circle cx="162.8" cy="151.1" r="2.4"/><circle cx="179.8" cy="151.6" r="2.4"/><circle cx="177.7" cy="153.4" r="2.4"/><circle cx="185.9" cy="171.1" r="2.4"/><circle cx="186.6" cy="159.1" r="2.4"/><circle cx="192.0" cy="156.9" r="2.4"/><circle cx="172.4" cy="153.9" r="2.4"/><circle cx="179.5" cy="146.5" r="2.4"/><circle cx="176.8" cy="172.7" r="2.4"/><circle cx="169.1" cy="152.8" r="2.4"/><circle cx="180.3" cy="150.3" r="2.4"/><circle cx="174.9" cy="170.2" r="2.4"/><circle cx="188.6" cy="168.9" r="2.4"/><circle cx="182.3" cy="176.1" r="2.4"/><circle cx="169.3" cy="159.1" r="2.4"/><circle cx="181.6" cy="156.5" r="2.4"/><circle cx="189.7" cy="164.0" r="2.4"/><circle cx="180.8" cy="167.8" r="2.4"/><circle cx="175.2" cy="172.2" r="2.4"/><circle cx="172.7" cy="169.3" r="2.4"/><circle cx="183.6" cy="154.4" r="2.4"/><circle cx="176.3" cy="158.6" r="2.4"/><circle cx="184.6" cy="169.9" r="2.4"/><circle cx="185.8" cy="163.2" r="2.4"/><circle cx="177.4" cy="161.5" r="2.4"/><circle cx="185.0" cy="177.3" r="2.4"/><circle cx="168.0" cy="161.6" r="2.4"/><circle cx="183.0" cy="178.7" r="2.4"/><circle cx="164.5" cy="148.8" r="2.4"/><circle cx="163.7" cy="161.2" r="2.4"/><circle cx="177.9" cy="158.1" r="2.4"/><circle cx="198.1" cy="158.4" r="2.4"/><circle cx="181.4" cy="165.4" r="2.4"/><circle cx="183.4" cy="157.5" r="2.4"/><circle cx="175.6" cy="155.0" r="2.4"/><circle cx="176.4" cy="163.1" r="2.4"/><circle cx="164.8" cy="157.4" r="2.4"/><circle cx="184.3" cy="169.5" r="2.4"/><circle cx="163.2" cy="169.2" r="2.4"/><circle cx="179.2" cy="162.8" r="2.4"/><circle cx="198.9" cy="167.0" r="2.4"/><circle cx="176.9" cy="161.3" r="2.4"/><circle cx="195.3" cy="164.4" r="2.4"/><circle cx="184.0" cy="155.9" r="2.4"/><circle cx="198.4" cy="158.2" r="2.4"/><circle cx="184.5" cy="147.1" r="2.4"/><circle cx="160.7" cy="165.4" r="2.4"/><circle cx="188.6" cy="165.1" r="2.4"/><circle cx="186.9" cy="178.4" r="2.4"/><circle cx="195.1" cy="166.6" r="2.4"/><circle cx="176.3" cy="164.6" r="2.4"/><circle cx="184.8" cy="172.7" r="2.4"/><circle cx="161.9" cy="181.5" r="2.4"/><circle cx="189.0" cy="179.4" r="2.4"/><circle cx="169.0" cy="154.5" r="2.4"/><circle cx="193.6" cy="154.2" r="2.4"/><circle cx="175.2" cy="169.9" r="2.4"/><circle cx="184.3" cy="153.8" r="2.4"/><circle cx="172.1" cy="164.7" r="2.4"/><circle cx="174.0" cy="160.8" r="2.4"/><circle cx="187.7" cy="176.3" r="2.4"/><circle cx="174.3" cy="157.1" r="2.4"/><circle cx="171.5" cy="171.9" r="2.4"/><circle cx="189.8" cy="159.0" r="2.4"/><circle cx="178.5" cy="149.5" r="2.4"/><circle cx="170.2" cy="178.8" r="2.4"/><circle cx="175.5" cy="148.1" r="2.4"/><circle cx="177.2" cy="174.4" r="2.4"/><circle cx="196.2" cy="174.9" r="2.4"/><circle cx="180.6" cy="154.3" r="2.4"/><circle cx="171.9" cy="162.5" r="2.4"/><circle cx="183.6" cy="155.0" r="2.4"/><circle cx="172.3" cy="148.5" r="2.4"/><circle cx="174.6" cy="165.3" r="2.4"/><circle cx="167.5" cy="159.5" r="2.4"/><circle cx="172.7" cy="162.6" r="2.4"/><circle cx="180.3" cy="161.4" r="2.4"/><circle cx="194.3" cy="150.8" r="2.4"/><circle cx="184.9" cy="146.7" r="2.4"/><circle cx="191.7" cy="154.3" r="2.4"/><circle cx="181.4" cy="150.8" r="2.4"/><circle cx="172.7" cy="165.5" r="2.4"/><circle cx="178.9" cy="164.1" r="2.4"/><circle cx="195.8" cy="158.3" r="2.4"/><circle cx="181.0" cy="170.7" r="2.4"/><circle cx="175.5" cy="158.9" r="2.4"/><circle cx="191.6" cy="147.8" r="2.4"/><circle cx="189.1" cy="164.6" r="2.4"/><circle cx="174.0" cy="149.2" r="2.4"/><circle cx="174.8" cy="145.4" r="2.4"/><circle cx="197.8" cy="167.2" r="2.4"/><circle cx="172.7" cy="161.1" r="2.4"/><circle cx="189.2" cy="165.5" r="2.4"/><circle cx="165.1" cy="162.7" r="2.4"/><circle cx="177.6" cy="160.7" r="2.4"/><circle cx="173.5" cy="176.8" r="2.4"/><circle cx="196.5" cy="168.0" r="2.4"/><circle cx="169.5" cy="171.5" r="2.4"/><circle cx="178.0" cy="154.3" r="2.4"/><circle cx="178.3" cy="167.1" r="2.4"/><circle cx="182.2" cy="168.6" r="2.4"/><circle cx="180.5" cy="160.0" r="2.4"/><circle cx="172.7" cy="165.8" r="2.4"/><circle cx="180.2" cy="163.5" r="2.4"/><circle cx="189.8" cy="168.4" r="2.4"/><circle cx="165.7" cy="154.9" r="2.4"/><circle cx="171.7" cy="171.5" r="2.4"/><circle cx="167.7" cy="160.7" r="2.4"/><circle cx="184.6" cy="181.7" r="2.4"/><circle cx="186.5" cy="161.6" r="2.4"/><circle cx="168.9" cy="157.8" r="2.4"/><circle cx="175.4" cy="172.0" r="2.4"/><circle cx="177.7" cy="159.0" r="2.4"/><circle cx="167.7" cy="159.5" r="2.4"/><circle cx="193.6" cy="155.0" r="2.4"/><circle cx="183.4" cy="164.2" r="2.4"/><circle cx="184.3" cy="176.4" r="2.4"/><circle cx="166.7" cy="156.8" r="2.4"/><circle cx="191.5" cy="157.0" r="2.4"/><circle cx="180.8" cy="171.6" r="2.4"/><circle cx="184.1" cy="157.2" r="2.4"/><circle cx="183.5" cy="173.6" r="2.4"/><circle cx="184.4" cy="147.9" r="2.4"/><circle cx="164.5" cy="163.0" r="2.4"/><circle cx="165.9" cy="166.6" r="2.4"/><circle cx="175.1" cy="172.8" r="2.4"/><circle cx="180.4" cy="156.3" r="2.4"/><circle cx="194.2" cy="161.3" r="2.4"/><circle cx="182.7" cy="150.2" r="2.4"/><circle cx="170.4" cy="154.6" r="2.4"/><circle cx="175.9" cy="169.8" r="2.4"/><circle cx="177.7" cy="167.8" r="2.4"/><circle cx="169.5" cy="173.8" r="2.4"/><circle cx="183.3" cy="152.5" r="2.4"/><circle cx="184.0" cy="152.1" r="2.4"/><circle cx="194.2" cy="163.5" r="2.4"/><circle cx="189.6" cy="177.5" r="2.4"/><circle cx="182.6" cy="166.8" r="2.4"/><circle cx="190.7" cy="165.5" r="2.4"/><circle cx="171.6" cy="179.8" r="2.4"/><circle cx="172.7" cy="155.4" r="2.4"/><circle cx="189.9" cy="151.8" r="2.4"/><circle cx="174.8" cy="155.5" r="2.4"/><circle cx="185.4" cy="172.3" r="2.4"/><circle cx="195.7" cy="161.2" r="2.4"/><circle cx="194.5" cy="162.8" r="2.4"/><circle cx="175.1" cy="146.3" r="2.4"/><circle cx="160.7" cy="159.7" r="2.4"/><circle cx="186.5" cy="181.1" r="2.4"/><circle cx="180.2" cy="152.8" r="2.4"/><circle cx="181.6" cy="165.4" r="2.4"/><circle cx="178.9" cy="167.7" r="2.4"/><circle cx="169.6" cy="179.9" r="2.4"/><circle cx="174.4" cy="158.3" r="2.4"/><circle cx="178.0" cy="167.9" r="2.4"/><circle cx="183.2" cy="158.8" r="2.4"/><circle cx="186.2" cy="165.7" r="2.4"/><circle cx="175.4" cy="170.8" r="2.4"/><circle cx="183.7" cy="172.3" r="2.4"/><circle cx="187.4" cy="180.2" r="2.4"/><circle cx="181.4" cy="162.1" r="2.4"/><circle cx="173.3" cy="161.8" r="2.4"/><circle cx="162.9" cy="178.5" r="2.4"/><circle cx="182.4" cy="164.1" r="2.4"/><circle cx="166.6" cy="164.5" r="2.4"/><circle cx="195.5" cy="162.7" r="2.4"/><circle cx="183.1" cy="153.9" r="2.4"/><circle cx="178.8" cy="166.0" r="2.4"/><circle cx="177.0" cy="153.5" r="2.4"/><circle cx="166.8" cy="170.8" r="2.4"/><circle cx="168.9" cy="164.0" r="2.4"/><circle cx="190.3" cy="152.5" r="2.4"/><circle cx="177.4" cy="162.4" r="2.4"/><circle cx="183.0" cy="157.7" r="2.4"/><circle cx="182.1" cy="170.8" r="2.4"/><circle cx="169.0" cy="155.8" r="2.4"/><circle cx="168.6" cy="154.3" r="2.4"/><circle cx="182.0" cy="161.0" r="2.4"/><circle cx="171.4" cy="179.6" r="2.4"/><circle cx="180.1" cy="177.7" r="2.4"/><circle cx="170.4" cy="162.5" r="2.4"/><circle cx="195.9" cy="156.3" r="2.4"/><circle cx="162.3" cy="155.7" r="2.4"/><circle cx="188.5" cy="172.1" r="2.4"/><circle cx="180.1" cy="172.6" r="2.4"/><circle cx="174.1" cy="172.6" r="2.4"/><circle cx="184.1" cy="154.1" r="2.4"/><circle cx="170.9" cy="169.3" r="2.4"/><circle cx="174.2" cy="157.4" r="2.4"/><circle cx="173.6" cy="162.1" r="2.4"/><circle cx="195.9" cy="146.9" r="2.4"/><circle cx="168.5" cy="168.5" r="2.4"/><circle cx="176.1" cy="171.3" r="2.4"/><circle cx="178.7" cy="159.2" r="2.4"/><circle cx="171.0" cy="159.1" r="2.4"/><circle cx="188.1" cy="173.3" r="2.4"/><circle cx="189.5" cy="159.0" r="2.4"/><circle cx="194.4" cy="158.6" r="2.4"/><circle cx="181.9" cy="156.5" r="2.4"/><circle cx="184.7" cy="151.5" r="2.4"/><circle cx="188.9" cy="161.4" r="2.4"/><circle cx="177.9" cy="161.4" r="2.4"/><circle cx="177.7" cy="154.9" r="2.4"/><circle cx="183.4" cy="169.3" r="2.4"/><circle cx="172.1" cy="164.2" r="2.4"/><circle cx="180.6" cy="169.7" r="2.4"/><circle cx="178.9" cy="167.1" r="2.4"/><circle cx="173.6" cy="161.9" r="2.4"/><circle cx="174.5" cy="151.1" r="2.4"/><circle cx="196.2" cy="162.4" r="2.4"/><circle cx="187.4" cy="160.6" r="2.4"/><circle cx="161.6" cy="158.2" r="2.4"/><circle cx="181.1" cy="173.4" r="2.4"/><circle cx="182.9" cy="171.8" r="2.4"/><circle cx="184.9" cy="152.9" r="2.4"/><circle cx="187.8" cy="149.8" r="2.4"/><circle cx="166.8" cy="160.2" r="2.4"/><circle cx="177.9" cy="170.9" r="2.4"/><circle cx="178.1" cy="163.9" r="2.4"/><circle cx="193.9" cy="158.3" r="2.4"/><circle cx="182.7" cy="160.5" r="2.4"/><circle cx="177.9" cy="179.7" r="2.4"/><circle cx="174.8" cy="161.7" r="2.4"/><circle cx="178.6" cy="157.2" r="2.4"/><circle cx="183.5" cy="165.6" r="2.4"/><circle cx="190.8" cy="166.7" r="2.4"/><circle cx="171.4" cy="175.0" r="2.4"/><circle cx="172.1" cy="176.9" r="2.4"/><circle cx="177.9" cy="172.2" r="2.4"/><circle cx="185.4" cy="168.8" r="2.4"/><circle cx="189.3" cy="177.9" r="2.4"/><circle cx="187.6" cy="167.9" r="2.4"/><circle cx="171.4" cy="167.1" r="2.4"/><circle cx="179.7" cy="161.5" r="2.4"/><circle cx="165.9" cy="172.3" r="2.4"/><circle cx="188.3" cy="168.6" r="2.4"/><circle cx="186.1" cy="157.8" r="2.4"/><circle cx="183.3" cy="165.9" r="2.4"/><circle cx="183.4" cy="158.2" r="2.4"/><circle cx="185.4" cy="151.4" r="2.4"/><circle cx="176.4" cy="169.0" r="2.4"/><circle cx="189.9" cy="158.7" r="2.4"/><circle cx="178.8" cy="156.5" r="2.4"/><circle cx="179.1" cy="160.4" r="2.4"/><circle cx="186.6" cy="167.2" r="2.4"/><circle cx="190.5" cy="154.9" r="2.4"/><circle cx="180.1" cy="172.5" r="2.4"/><circle cx="191.0" cy="167.9" r="2.4"/><circle cx="182.2" cy="145.9" r="2.4"/><circle cx="186.2" cy="148.7" r="2.4"/><circle cx="186.0" cy="150.4" r="2.4"/><circle cx="194.5" cy="156.3" r="2.4"/><circle cx="174.8" cy="156.6" r="2.4"/><circle cx="170.6" cy="155.9" r="2.4"/><circle cx="175.1" cy="157.5" r="2.4"/><circle cx="191.7" cy="172.6" r="2.4"/><circle cx="171.9" cy="151.7" r="2.4"/><circle cx="165.0" cy="152.3" r="2.4"/><circle cx="188.5" cy="165.4" r="2.4"/><circle cx="167.0" cy="160.0" r="2.4"/><circle cx="186.5" cy="162.1" r="2.4"/><circle cx="184.8" cy="176.0" r="2.4"/><circle cx="166.1" cy="169.7" r="2.4"/><circle cx="187.6" cy="162.3" r="2.4"/><circle cx="190.6" cy="162.1" r="2.4"/><circle cx="198.3" cy="174.2" r="2.4"/><circle cx="177.5" cy="161.9" r="2.4"/><circle cx="177.2" cy="146.1" r="2.4"/><circle cx="181.1" cy="156.6" r="2.4"/><circle cx="181.3" cy="167.1" r="2.4"/><circle cx="182.1" cy="161.2" r="2.4"/><circle cx="167.2" cy="148.9" r="2.4"/><circle cx="180.9" cy="165.5" r="2.4"/><circle cx="173.8" cy="168.6" r="2.4"/><circle cx="174.6" cy="164.7" r="2.4"/><circle cx="180.5" cy="150.8" r="2.4"/><circle cx="179.2" cy="151.9" r="2.4"/><circle cx="174.3" cy="148.0" r="2.4"/><circle cx="177.5" cy="146.0" r="2.4"/><circle cx="175.6" cy="166.6" r="2.4"/><circle cx="166.4" cy="161.6" r="2.4"/><circle cx="190.1" cy="160.0" r="2.4"/><circle cx="198.4" cy="161.6" r="2.4"/><circle cx="174.1" cy="159.1" r="2.4"/><circle cx="176.4" cy="160.5" r="2.4"/><circle cx="186.8" cy="151.9" r="2.4"/><circle cx="165.2" cy="166.0" r="2.4"/><circle cx="178.0" cy="162.8" r="2.4"/><circle cx="185.7" cy="176.8" r="2.4"/><circle cx="172.3" cy="174.6" r="2.4"/><circle cx="198.0" cy="162.5" r="2.4"/><circle cx="169.7" cy="164.5" r="2.4"/><circle cx="168.3" cy="164.0" r="2.4"/><circle cx="173.4" cy="164.3" r="2.4"/><circle cx="180.6" cy="162.1" r="2.4"/><circle cx="168.5" cy="153.3" r="2.4"/><circle cx="171.1" cy="163.2" r="2.4"/><circle cx="177.3" cy="158.3" r="2.4"/><circle cx="183.3" cy="162.1" r="2.4"/><circle cx="183.7" cy="171.2" r="2.4"/><circle cx="181.2" cy="175.9" r="2.4"/><circle cx="193.5" cy="150.2" r="2.4"/><circle cx="193.3" cy="164.2" r="2.4"/><circle cx="169.7" cy="151.8" r="2.4"/><circle cx="187.1" cy="170.2" r="2.4"/><circle cx="185.4" cy="171.7" r="2.4"/><circle cx="170.1" cy="174.9" r="2.4"/><circle cx="182.7" cy="171.6" r="2.4"/><circle cx="179.6" cy="176.0" r="2.4"/><circle cx="170.9" cy="151.4" r="2.4"/><circle cx="164.4" cy="173.0" r="2.4"/><circle cx="171.5" cy="172.6" r="2.4"/><circle cx="176.2" cy="158.2" r="2.4"/><circle cx="193.2" cy="158.4" r="2.4"/><circle cx="171.0" cy="173.4" r="2.4"/><circle cx="187.5" cy="165.6" r="2.4"/><circle cx="185.5" cy="153.8" r="2.4"/><circle cx="180.0" cy="156.8" r="2.4"/><circle cx="176.0" cy="159.6" r="2.4"/><circle cx="171.7" cy="172.2" r="2.4"/><circle cx="182.7" cy="152.6" r="2.4"/><circle cx="192.8" cy="151.4" r="2.4"/><circle cx="167.8" cy="168.6" r="2.4"/><circle cx="196.7" cy="170.6" r="2.4"/><circle cx="177.5" cy="147.4" r="2.4"/><circle cx="165.8" cy="162.6" r="2.4"/><circle cx="172.7" cy="155.4" r="2.4"/><circle cx="168.8" cy="160.9" r="2.4"/><circle cx="184.7" cy="157.3" r="2.4"/><circle cx="178.3" cy="166.3" r="2.4"/><circle cx="174.1" cy="147.3" r="2.4"/><circle cx="171.6" cy="157.6" r="2.4"/><circle cx="165.5" cy="148.5" r="2.4"/><circle cx="183.6" cy="148.3" r="2.4"/><circle cx="187.4" cy="163.4" r="2.4"/><circle cx="178.9" cy="173.0" r="2.4"/><circle cx="186.1" cy="152.9" r="2.4"/><circle cx="161.6" cy="162.6" r="2.4"/><circle cx="169.5" cy="158.0" r="2.4"/><circle cx="182.2" cy="181.7" r="2.4"/><circle cx="168.5" cy="161.7" r="2.4"/><circle cx="185.2" cy="171.4" r="2.4"/><circle cx="182.0" cy="171.9" r="2.4"/><circle cx="186.7" cy="146.2" r="2.4"/><circle cx="165.6" cy="163.6" r="2.4"/><circle cx="161.3" cy="178.9" r="2.4"/><circle cx="181.6" cy="164.5" r="2.4"/><circle cx="176.8" cy="174.4" r="2.4"/><circle cx="160.6" cy="173.8" r="2.4"/><circle cx="167.0" cy="166.2" r="2.4"/><circle cx="192.1" cy="161.5" r="2.4"/><circle cx="169.2" cy="171.5" r="2.4"/><circle cx="195.9" cy="167.3" r="2.4"/><circle cx="187.2" cy="170.6" r="2.4"/><circle cx="188.9" cy="149.0" r="2.4"/><circle cx="170.7" cy="179.3" r="2.4"/><circle cx="184.2" cy="166.0" r="2.4"/><circle cx="177.2" cy="159.5" r="2.4"/><circle cx="184.6" cy="164.5" r="2.4"/><circle cx="184.6" cy="145.7" r="2.4"/><circle cx="178.2" cy="166.2" r="2.4"/><circle cx="185.5" cy="178.2" r="2.4"/><circle cx="176.6" cy="165.2" r="2.4"/><circle cx="184.2" cy="172.7" r="2.4"/><circle cx="178.7" cy="153.6" r="2.4"/><circle cx="178.9" cy="163.8" r="2.4"/><circle cx="186.8" cy="157.2" r="2.4"/><circle cx="172.3" cy="157.2" r="2.4"/><circle cx="163.5" cy="149.1" r="2.4"/><circle cx="173.5" cy="174.4" r="2.4"/><circle cx="176.1" cy="163.9" r="2.4"/><circle cx="174.1" cy="158.3" r="2.4"/><circle cx="186.4" cy="151.1" r="2.4"/><circle cx="166.8" cy="163.1" r="2.4"/><circle cx="167.9" cy="172.3" r="2.4"/><circle cx="178.0" cy="166.0" r="2.4"/><circle cx="166.7" cy="158.4" r="2.4"/><circle cx="165.1" cy="166.1" r="2.4"/><circle cx="171.0" cy="160.5" r="2.4"/><circle cx="188.0" cy="166.8" r="2.4"/><circle cx="189.8" cy="178.8" r="2.4"/><circle cx="176.7" cy="174.2" r="2.4"/><circle cx="191.5" cy="158.4" r="2.4"/><circle cx="183.7" cy="162.7" r="2.4"/><circle cx="164.2" cy="168.7" r="2.4"/><circle cx="185.2" cy="149.4" r="2.4"/><circle cx="171.1" cy="180.4" r="2.4"/><circle cx="167.0" cy="174.2" r="2.4"/><circle cx="182.4" cy="171.1" r="2.4"/><circle cx="168.9" cy="146.1" r="2.4"/><circle cx="177.2" cy="158.8" r="2.4"/><circle cx="190.4" cy="157.7" r="2.4"/><circle cx="181.3" cy="170.7" r="2.4"/><circle cx="197.0" cy="159.4" r="2.4"/><circle cx="179.1" cy="159.4" r="2.4"/><circle cx="181.1" cy="165.6" r="2.4"/><circle cx="189.0" cy="164.8" r="2.4"/><circle cx="170.5" cy="152.4" r="2.4"/><circle cx="166.0" cy="158.6" r="2.4"/><circle cx="176.7" cy="163.3" r="2.4"/><circle cx="163.2" cy="163.8" r="2.4"/><circle cx="171.6" cy="152.4" r="2.4"/><circle cx="182.6" cy="151.4" r="2.4"/><circle cx="186.8" cy="171.6" r="2.4"/><circle cx="181.4" cy="167.7" r="2.4"/><circle cx="185.3" cy="164.3" r="2.4"/><circle cx="192.8" cy="157.5" r="2.4"/><circle cx="170.7" cy="158.2" r="2.4"/><circle cx="189.0" cy="171.3" r="2.4"/><circle cx="184.5" cy="161.2" r="2.4"/><circle cx="161.5" cy="176.7" r="2.4"/><circle cx="176.9" cy="175.8" r="2.4"/><circle cx="181.3" cy="157.3" r="2.4"/><circle cx="187.8" cy="164.1" r="2.4"/><circle cx="182.5" cy="162.0" r="2.4"/><circle cx="180.3" cy="166.2" r="2.4"/><circle cx="167.6" cy="160.2" r="2.4"/><circle cx="166.9" cy="150.8" r="2.4"/><circle cx="173.5" cy="145.7" r="2.4"/><circle cx="175.9" cy="161.2" r="2.4"/><circle cx="177.5" cy="167.3" r="2.4"/><circle cx="170.2" cy="179.6" r="2.4"/><circle cx="177.0" cy="174.4" r="2.4"/><circle cx="187.5" cy="152.2" r="2.4"/><circle cx="183.0" cy="148.0" r="2.4"/><circle cx="179.5" cy="149.2" r="2.4"/><circle cx="168.7" cy="161.8" r="2.4"/><circle cx="181.1" cy="168.9" r="2.4"/><circle cx="192.9" cy="162.7" r="2.4"/><circle cx="179.1" cy="158.3" r="2.4"/><circle cx="185.5" cy="162.6" r="2.4"/><circle cx="169.1" cy="172.1" r="2.4"/><circle cx="180.7" cy="151.1" r="2.4"/><circle cx="176.6" cy="150.4" r="2.4"/><circle cx="172.0" cy="170.5" r="2.4"/><circle cx="174.8" cy="153.5" r="2.4"/><circle cx="177.0" cy="158.2" r="2.4"/><circle cx="162.3" cy="179.1" r="2.4"/><circle cx="163.9" cy="175.4" r="2.4"/><circle cx="173.3" cy="178.1" r="2.4"/><circle cx="168.4" cy="149.4" r="2.4"/><circle cx="178.3" cy="154.9" r="2.4"/><circle cx="186.4" cy="154.0" r="2.4"/><circle cx="173.5" cy="169.9" r="2.4"/><circle cx="184.5" cy="162.4" r="2.4"/><circle cx="177.1" cy="170.3" r="2.4"/><circle cx="175.4" cy="181.0" r="2.4"/><circle cx="181.7" cy="166.1" r="2.4"/><circle cx="169.3" cy="152.9" r="2.4"/><circle cx="182.4" cy="160.9" r="2.4"/><circle cx="178.5" cy="179.0" r="2.4"/><circle cx="189.4" cy="166.2" r="2.4"/><circle cx="191.3" cy="167.2" r="2.4"/><circle cx="181.3" cy="162.4" r="2.4"/><circle cx="190.7" cy="158.3" r="2.4"/><circle cx="174.8" cy="163.9" r="2.4"/><circle cx="167.3" cy="150.8" r="2.4"/><circle cx="181.7" cy="168.5" r="2.4"/><circle cx="173.5" cy="162.0" r="2.4"/><circle cx="176.3" cy="156.4" r="2.4"/><circle cx="194.8" cy="149.6" r="2.4"/><circle cx="168.8" cy="170.7" r="2.4"/><circle cx="191.1" cy="173.0" r="2.4"/><circle cx="172.9" cy="150.0" r="2.4"/><circle cx="183.9" cy="146.5" r="2.4"/><circle cx="173.0" cy="162.1" r="2.4"/><circle cx="194.5" cy="154.1" r="2.4"/><circle cx="183.8" cy="166.9" r="2.4"/><circle cx="198.5" cy="159.2" r="2.4"/><circle cx="176.7" cy="173.9" r="2.4"/><circle cx="198.7" cy="168.1" r="2.4"/><circle cx="189.4" cy="162.9" r="2.4"/><circle cx="192.1" cy="156.0" r="2.4"/><circle cx="184.9" cy="160.5" r="2.4"/><circle cx="196.9" cy="152.3" r="2.4"/><circle cx="164.4" cy="149.3" r="2.4"/><circle cx="175.1" cy="157.6" r="2.4"/><circle cx="172.2" cy="166.9" r="2.4"/><circle cx="160.6" cy="178.8" r="2.4"/><circle cx="185.9" cy="178.0" r="2.4"/><circle cx="194.7" cy="170.3" r="2.4"/><circle cx="174.8" cy="163.9" r="2.4"/><circle cx="164.7" cy="160.2" r="2.4"/><circle cx="189.1" cy="153.9" r="2.4"/><circle cx="183.3" cy="158.9" r="2.4"/><circle cx="190.7" cy="166.8" r="2.4"/><circle cx="177.7" cy="174.4" r="2.4"/><circle cx="172.0" cy="161.3" r="2.4"/><circle cx="179.1" cy="171.6" r="2.4"/><circle cx="182.1" cy="154.7" r="2.4"/><circle cx="185.1" cy="172.8" r="2.4"/><circle cx="183.8" cy="181.3" r="2.4"/><circle cx="180.7" cy="147.0" r="2.4"/><circle cx="191.0" cy="145.8" r="2.4"/><circle cx="176.6" cy="155.2" r="2.4"/><circle cx="189.3" cy="157.7" r="2.4"/><circle cx="166.2" cy="164.7" r="2.4"/><circle cx="191.9" cy="156.5" r="2.4"/><circle cx="185.5" cy="158.3" r="2.4"/><circle cx="186.2" cy="164.4" r="2.4"/><circle cx="179.5" cy="163.1" r="2.4"/><circle cx="161.0" cy="172.5" r="2.4"/><circle cx="172.3" cy="156.2" r="2.4"/><circle cx="182.3" cy="149.7" r="2.4"/><circle cx="193.5" cy="163.6" r="2.4"/><circle cx="196.7" cy="160.6" r="2.4"/><circle cx="185.0" cy="148.8" r="2.4"/><circle cx="162.8" cy="162.1" r="2.4"/><circle cx="179.9" cy="173.0" r="2.4"/><circle cx="168.9" cy="175.7" r="2.4"/><circle cx="193.0" cy="160.1" r="2.4"/><circle cx="184.6" cy="175.2" r="2.4"/><circle cx="162.2" cy="171.0" r="2.4"/><circle cx="198.3" cy="160.7" r="2.4"/><circle cx="181.8" cy="164.8" r="2.4"/><circle cx="173.8" cy="161.3" r="2.4"/><circle cx="178.3" cy="149.1" r="2.4"/><circle cx="178.5" cy="166.0" r="2.4"/><circle cx="160.6" cy="165.3" r="2.4"/><circle cx="180.4" cy="171.3" r="2.4"/><circle cx="186.8" cy="168.4" r="2.4"/><circle cx="173.6" cy="172.6" r="2.4"/><circle cx="193.3" cy="153.4" r="2.4"/><circle cx="195.2" cy="169.2" r="2.4"/><circle cx="188.2" cy="176.5" r="2.4"/><circle cx="174.2" cy="159.5" r="2.4"/><circle cx="172.5" cy="181.7" r="2.4"/><circle cx="188.8" cy="167.4" r="2.4"/><circle cx="178.8" cy="150.4" r="2.4"/><circle cx="186.6" cy="162.6" r="2.4"/><circle cx="184.2" cy="167.6" r="2.4"/><circle cx="176.2" cy="161.7" r="2.4"/><circle cx="169.8" cy="158.3" r="2.4"/><circle cx="176.2" cy="154.7" r="2.4"/><circle cx="186.7" cy="159.8" r="2.4"/><circle cx="168.1" cy="159.4" r="2.4"/><circle cx="180.9" cy="154.8" r="2.4"/><circle cx="168.4" cy="164.4" r="2.4"/><circle cx="187.5" cy="158.3" r="2.4"/><circle cx="180.7" cy="181.0" r="2.4"/><circle cx="173.6" cy="160.8" r="2.4"/><circle cx="189.0" cy="170.6" r="2.4"/><circle cx="172.3" cy="177.3" r="2.4"/><circle cx="186.2" cy="168.6" r="2.4"/><circle cx="174.1" cy="170.2" r="2.4"/><circle cx="179.7" cy="171.0" r="2.4"/><circle cx="182.3" cy="164.7" r="2.4"/><circle cx="193.8" cy="166.6" r="2.4"/><circle cx="173.2" cy="158.1" r="2.4"/><circle cx="185.0" cy="150.4" r="2.4"/><circle cx="191.9" cy="173.5" r="2.4"/><circle cx="180.8" cy="153.9" r="2.4"/><circle cx="180.2" cy="178.9" r="2.4"/><circle cx="188.8" cy="168.8" r="2.4"/><circle cx="197.3" cy="155.6" r="2.4"/><circle cx="168.5" cy="161.0" r="2.4"/><circle cx="189.3" cy="166.7" r="2.4"/><circle cx="168.9" cy="175.5" r="2.4"/><circle cx="185.8" cy="161.8" r="2.4"/><circle cx="175.6" cy="162.1" r="2.4"/><circle cx="166.4" cy="166.2" r="2.4"/><circle cx="196.6" cy="164.7" r="2.4"/><circle cx="176.0" cy="173.2" r="2.4"/><circle cx="176.5" cy="170.9" r="2.4"/><circle cx="186.1" cy="164.1" r="2.4"/><circle cx="184.7" cy="179.5" r="2.4"/><circle cx="161.9" cy="179.2" r="2.4"/><circle cx="198.6" cy="159.8" r="2.4"/><circle cx="195.3" cy="167.5" r="2.4"/><circle cx="185.8" cy="162.6" r="2.4"/><circle cx="187.8" cy="177.0" r="2.4"/><circle cx="178.7" cy="171.3" r="2.4"/><circle cx="185.7" cy="149.4" r="2.4"/><circle cx="188.4" cy="165.3" r="2.4"/><circle cx="175.6" cy="156.7" r="2.4"/><circle cx="183.5" cy="147.4" r="2.4"/><circle cx="196.8" cy="151.4" r="2.4"/><circle cx="162.0" cy="161.8" r="2.4"/><circle cx="178.8" cy="162.7" r="2.4"/><circle cx="179.7" cy="168.6" r="2.4"/><circle cx="176.5" cy="160.8" r="2.4"/><circle cx="166.3" cy="169.0" r="2.4"/><circle cx="182.6" cy="164.1" r="2.4"/><circle cx="185.0" cy="164.3" r="2.4"/><circle cx="170.6" cy="151.2" r="2.4"/><circle cx="169.7" cy="161.1" r="2.4"/><circle cx="176.7" cy="169.9" r="2.4"/><circle cx="186.5" cy="166.2" r="2.4"/><circle cx="178.1" cy="165.2" r="2.4"/><circle cx="181.9" cy="164.3" r="2.4"/><circle cx="171.2" cy="171.1" r="2.4"/><circle cx="186.3" cy="149.1" r="2.4"/><circle cx="188.3" cy="173.9" r="2.4"/><circle cx="166.0" cy="165.2" r="2.4"/><circle cx="177.6" cy="170.3" r="2.4"/><circle cx="184.4" cy="151.5" r="2.4"/><circle cx="179.4" cy="151.4" r="2.4"/><circle cx="185.6" cy="178.1" r="2.4"/><circle cx="170.3" cy="167.7" r="2.4"/><circle cx="175.4" cy="153.3" r="2.4"/><circle cx="173.5" cy="159.3" r="2.4"/><circle cx="188.3" cy="172.3" r="2.4"/><circle cx="172.6" cy="165.8" r="2.4"/><circle cx="183.1" cy="168.9" r="2.4"/><circle cx="168.5" cy="154.7" r="2.4"/><circle cx="197.6" cy="157.8" r="2.4"/><circle cx="181.9" cy="166.0" r="2.4"/><circle cx="178.8" cy="161.4" r="2.4"/><circle cx="198.0" cy="163.6" r="2.4"/><circle cx="179.7" cy="171.1" r="2.4"/><circle cx="172.9" cy="162.3" r="2.4"/><circle cx="176.6" cy="161.7" r="2.4"/><circle cx="176.6" cy="153.7" r="2.4"/><circle cx="174.9" cy="165.4" r="2.4"/><circle cx="180.6" cy="156.9" r="2.4"/><circle cx="190.1" cy="169.4" r="2.4"/><circle cx="199.2" cy="147.1" r="2.4"/><circle cx="191.0" cy="168.4" r="2.4"/><circle cx="184.8" cy="162.5" r="2.4"/><circle cx="187.9" cy="148.3" r="2.4"/><circle cx="171.5" cy="170.6" r="2.4"/><circle cx="178.7" cy="162.0" r="2.4"/><circle cx="185.4" cy="161.7" r="2.4"/><circle cx="187.9" cy="155.0" r="2.4"/><circle cx="171.9" cy="174.4" r="2.4"/><circle cx="188.1" cy="164.9" r="2.4"/><circle cx="175.5" cy="167.4" r="2.4"/><circle cx="166.0" cy="164.2" r="2.4"/><circle cx="193.9" cy="156.7" r="2.4"/><circle cx="176.9" cy="170.0" r="2.4"/><circle cx="170.2" cy="152.3" r="2.4"/><circle cx="173.9" cy="165.3" r="2.4"/><circle cx="175.8" cy="169.0" r="2.4"/><circle cx="178.7" cy="154.5" r="2.4"/><circle cx="168.4" cy="179.6" r="2.4"/><circle cx="181.3" cy="170.7" r="2.4"/><circle cx="190.8" cy="149.5" r="2.4"/><circle cx="160.7" cy="172.4" r="2.4"/><circle cx="181.2" cy="167.9" r="2.4"/><circle cx="174.7" cy="178.4" r="2.4"/><circle cx="172.6" cy="168.5" r="2.4"/><circle cx="197.1" cy="153.6" r="2.4"/><circle cx="186.6" cy="154.1" r="2.4"/><circle cx="188.7" cy="155.2" r="2.4"/><circle cx="193.6" cy="161.5" r="2.4"/><circle cx="180.9" cy="164.3" r="2.4"/><circle cx="182.1" cy="163.1" r="2.4"/><circle cx="187.2" cy="154.1" r="2.4"/><circle cx="188.9" cy="157.1" r="2.4"/><circle cx="176.3" cy="160.9" r="2.4"/><circle cx="180.8" cy="167.4" r="2.4"/><circle cx="185.0" cy="163.1" r="2.4"/><circle cx="174.1" cy="168.3" r="2.4"/><circle cx="195.5" cy="166.6" r="2.4"/><circle cx="180.6" cy="162.4" r="2.4"/><circle cx="193.9" cy="159.0" r="2.4"/><circle cx="191.1" cy="161.9" r="2.4"/><circle cx="172.2" cy="177.8" r="2.4"/><circle cx="183.1" cy="163.2" r="2.4"/><circle cx="192.1" cy="147.9" r="2.4"/><circle cx="171.8" cy="161.4" r="2.4"/><circle cx="189.8" cy="162.8" r="2.4"/><circle cx="187.5" cy="146.9" r="2.4"/><circle cx="178.2" cy="155.3" r="2.4"/><circle cx="170.1" cy="174.0" r="2.4"/><circle cx="186.3" cy="151.9" r="2.4"/><circle cx="165.2" cy="161.9" r="2.4"/><circle cx="184.3" cy="149.0" r="2.4"/><circle cx="184.4" cy="158.5" r="2.4"/><circle cx="188.9" cy="145.6" r="2.4"/><circle cx="171.1" cy="176.9" r="2.4"/><circle cx="166.3" cy="172.5" r="2.4"/><circle cx="170.7" cy="179.3" r="2.4"/><circle cx="197.8" cy="165.2" r="2.4"/><circle cx="196.4" cy="159.7" r="2.4"/><circle cx="191.5" cy="159.8" r="2.4"/><circle cx="187.4" cy="159.8" r="2.4"/><circle cx="193.9" cy="153.4" r="2.4"/><circle cx="180.8" cy="168.4" r="2.4"/><circle cx="171.9" cy="162.2" r="2.4"/><circle cx="175.3" cy="163.4" r="2.4"/><circle cx="190.7" cy="169.7" r="2.4"/><circle cx="174.7" cy="160.9" r="2.4"/><circle cx="177.0" cy="164.4" r="2.4"/><circle cx="172.7" cy="151.0" r="2.4"/><circle cx="191.3" cy="156.1" r="2.4"/><circle cx="190.7" cy="168.0" r="2.4"/><circle cx="174.5" cy="168.4" r="2.4"/><circle cx="188.3" cy="161.9" r="2.4"/><circle cx="174.9" cy="173.3" r="2.4"/><circle cx="182.6" cy="151.1" r="2.4"/><circle cx="175.7" cy="175.4" r="2.4"/><circle cx="193.1" cy="154.1" r="2.4"/><circle cx="185.3" cy="158.6" r="2.4"/><circle cx="178.1" cy="157.2" r="2.4"/><circle cx="181.8" cy="161.8" r="2.4"/><circle cx="170.7" cy="157.0" r="2.4"/><circle cx="187.5" cy="156.2" r="2.4"/><circle cx="179.9" cy="176.4" r="2.4"/><circle cx="183.6" cy="166.1" r="2.4"/><circle cx="178.4" cy="162.0" r="2.4"/><circle cx="179.8" cy="168.5" r="2.4"/><circle cx="174.7" cy="176.7" r="2.4"/><circle cx="176.0" cy="176.2" r="2.4"/><circle cx="180.1" cy="169.6" r="2.4"/><circle cx="183.2" cy="158.5" r="2.4"/><circle cx="190.8" cy="152.1" r="2.4"/><circle cx="181.6" cy="157.8" r="2.4"/><circle cx="179.6" cy="169.6" r="2.4"/><circle cx="183.7" cy="164.8" r="2.4"/><circle cx="185.6" cy="153.1" r="2.4"/><circle cx="173.8" cy="151.1" r="2.4"/><circle cx="192.5" cy="163.8" r="2.4"/><circle cx="178.7" cy="162.6" r="2.4"/><circle cx="176.4" cy="175.8" r="2.4"/><circle cx="178.2" cy="169.0" r="2.4"/><circle cx="181.4" cy="158.2" r="2.4"/><circle cx="192.1" cy="152.6" r="2.4"/><circle cx="175.8" cy="175.9" r="2.4"/><circle cx="178.7" cy="160.6" r="2.4"/><circle cx="161.0" cy="169.1" r="2.4"/><circle cx="174.9" cy="158.8" r="2.4"/><circle cx="174.2" cy="168.5" r="2.4"/><circle cx="171.2" cy="154.8" r="2.4"/><circle cx="172.4" cy="161.1" r="2.4"/><circle cx="184.0" cy="165.3" r="2.4"/><circle cx="179.4" cy="157.3" r="2.4"/><circle cx="167.9" cy="168.0" r="2.4"/><circle cx="175.3" cy="174.7" r="2.4"/><circle cx="183.5" cy="161.5" r="2.4"/><circle cx="175.7" cy="181.0" r="2.4"/><circle cx="178.8" cy="161.6" r="2.4"/><circle cx="173.2" cy="167.2" r="2.4"/><circle cx="183.4" cy="157.1" r="2.4"/><circle cx="171.8" cy="169.3" r="2.4"/><circle cx="176.1" cy="156.7" r="2.4"/><circle cx="181.8" cy="158.7" r="2.4"/><circle cx="166.7" cy="167.1" r="2.4"/><circle cx="196.4" cy="152.1" r="2.4"/><circle cx="186.0" cy="154.5" r="2.4"/><circle cx="185.4" cy="169.1" r="2.4"/><circle cx="185.2" cy="161.2" r="2.4"/><circle cx="195.7" cy="152.1" r="2.4"/><circle cx="177.2" cy="159.8" r="2.4"/><circle cx="187.8" cy="160.2" r="2.4"/><circle cx="186.1" cy="153.6" r="2.4"/><circle cx="194.2" cy="154.2" r="2.4"/><circle cx="181.0" cy="165.1" r="2.4"/><circle cx="168.3" cy="171.0" r="2.4"/><circle cx="177.8" cy="152.1" r="2.4"/><circle cx="173.9" cy="164.8" r="2.4"/><circle cx="194.1" cy="150.8" r="2.4"/><circle cx="179.8" cy="161.6" r="2.4"/><circle cx="176.1" cy="174.9" r="2.4"/><circle cx="192.4" cy="149.8" r="2.4"/><circle cx="184.8" cy="169.2" r="2.4"/><circle cx="175.4" cy="156.4" r="2.4"/><circle cx="170.1" cy="179.5" r="2.4"/><circle cx="190.6" cy="159.6" r="2.4"/><circle cx="187.8" cy="158.8" r="2.4"/><circle cx="175.6" cy="154.8" r="2.4"/><circle cx="185.0" cy="160.2" r="2.4"/><circle cx="179.1" cy="161.1" r="2.4"/><circle cx="172.5" cy="167.6" r="2.4"/><circle cx="179.4" cy="149.4" r="2.4"/><circle cx="160.5" cy="172.7" r="2.4"/><circle cx="175.7" cy="156.6" r="2.4"/><circle cx="175.9" cy="170.6" r="2.4"/><circle cx="186.6" cy="161.7" r="2.4"/><circle cx="193.2" cy="150.7" r="2.4"/><circle cx="169.8" cy="163.8" r="2.4"/><circle cx="163.7" cy="166.5" r="2.4"/><circle cx="190.7" cy="151.7" r="2.4"/><circle cx="174.7" cy="171.7" r="2.4"/><circle cx="162.9" cy="174.9" r="2.4"/><circle cx="180.7" cy="166.7" r="2.4"/><circle cx="177.6" cy="160.3" r="2.4"/><circle cx="187.1" cy="157.4" r="2.4"/><circle cx="184.9" cy="150.1" r="2.4"/><circle cx="186.8" cy="154.2" r="2.4"/><circle cx="182.1" cy="150.5" r="2.4"/><circle cx="166.3" cy="172.4" r="2.4"/><circle cx="198.0" cy="154.7" r="2.4"/><circle cx="175.5" cy="165.1" r="2.4"/><circle cx="185.8" cy="159.5" r="2.4"/><circle cx="189.3" cy="153.4" r="2.4"/><circle cx="192.1" cy="158.3" r="2.4"/><circle cx="192.6" cy="163.3" r="2.4"/><circle cx="173.8" cy="168.6" r="2.4"/><circle cx="173.3" cy="155.8" r="2.4"/><circle cx="179.6" cy="159.7" r="2.4"/><circle cx="196.2" cy="154.8" r="2.4"/><circle cx="180.7" cy="149.6" r="2.4"/><circle cx="175.8" cy="159.9" r="2.4"/><circle cx="165.4" cy="167.9" r="2.4"/><circle cx="179.3" cy="166.4" r="2.4"/><circle cx="185.6" cy="169.9" r="2.4"/><circle cx="160.5" cy="178.0" r="2.4"/><circle cx="180.9" cy="163.0" r="2.4"/><circle cx="160.4" cy="178.3" r="2.4"/><circle cx="182.0" cy="173.1" r="2.4"/><circle cx="185.1" cy="164.3" r="2.4"/><circle cx="178.2" cy="155.5" r="2.4"/><circle cx="174.0" cy="153.7" r="2.4"/><circle cx="162.7" cy="168.2" r="2.4"/><circle cx="182.9" cy="164.6" r="2.4"/><circle cx="177.8" cy="158.5" r="2.4"/><circle cx="178.1" cy="162.0" r="2.4"/><circle cx="184.1" cy="152.1" r="2.4"/><circle cx="174.5" cy="166.0" r="2.4"/><circle cx="171.7" cy="174.0" r="2.4"/><circle cx="181.0" cy="170.8" r="2.4"/><circle cx="181.0" cy="152.6" r="2.4"/><circle cx="197.1" cy="145.7" r="2.4"/><circle cx="181.9" cy="153.7" r="2.4"/><circle cx="194.6" cy="160.2" r="2.4"/><circle cx="172.8" cy="179.5" r="2.4"/><circle cx="188.3" cy="156.4" r="2.4"/><circle cx="184.8" cy="165.7" r="2.4"/><circle cx="169.8" cy="155.4" r="2.4"/><circle cx="195.8" cy="156.6" r="2.4"/><circle cx="179.6" cy="161.6" r="2.4"/><circle cx="162.3" cy="181.8" r="2.4"/><circle cx="177.2" cy="161.8" r="2.4"/><circle cx="187.1" cy="156.0" r="2.4"/><circle cx="179.7" cy="163.6" r="2.4"/><circle cx="177.1" cy="158.4" r="2.4"/><circle cx="185.4" cy="157.2" r="2.4"/><circle cx="182.7" cy="153.7" r="2.4"/><circle cx="169.7" cy="173.1" r="2.4"/><circle cx="164.9" cy="171.4" r="2.4"/><circle cx="177.8" cy="161.6" r="2.4"/><circle cx="184.5" cy="155.9" r="2.4"/><circle cx="190.3" cy="146.5" r="2.4"/><circle cx="180.2" cy="169.0" r="2.4"/><circle cx="192.4" cy="165.2" r="2.4"/><circle cx="167.2" cy="165.6" r="2.4"/><circle cx="185.5" cy="156.0" r="2.4"/><circle cx="180.0" cy="170.8" r="2.4"/><circle cx="181.3" cy="167.7" r="2.4"/><circle cx="194.5" cy="164.7" r="2.4"/><circle cx="189.5" cy="147.4" r="2.4"/><circle cx="179.5" cy="150.2" r="2.4"/><circle cx="195.0" cy="163.8" r="2.4"/><circle cx="178.2" cy="160.4" r="2.4"/><circle cx="176.9" cy="175.2" r="2.4"/><circle cx="182.4" cy="156.0" r="2.4"/><circle cx="175.8" cy="168.5" r="2.4"/><circle cx="176.4" cy="170.8" r="2.4"/><circle cx="173.9" cy="158.9" r="2.4"/><circle cx="162.2" cy="181.8" r="2.4"/><circle cx="177.6" cy="157.6" r="2.4"/><circle cx="173.5" cy="179.0" r="2.4"/><circle cx="178.6" cy="156.5" r="2.4"/><circle cx="178.0" cy="170.3" r="2.4"/><circle cx="181.6" cy="155.9" r="2.4"/><circle cx="191.8" cy="168.3" r="2.4"/><circle cx="186.6" cy="163.9" r="2.4"/><circle cx="164.8" cy="163.5" r="2.4"/><circle cx="193.1" cy="146.6" r="2.4"/><circle cx="182.2" cy="159.2" r="2.4"/><circle cx="173.0" cy="169.4" r="2.4"/><circle cx="171.1" cy="169.3" r="2.4"/><circle cx="186.3" cy="149.7" r="2.4"/><circle cx="168.9" cy="173.9" r="2.4"/><circle cx="182.4" cy="171.1" r="2.4"/><circle cx="182.9" cy="164.1" r="2.4"/><circle cx="188.5" cy="151.1" r="2.4"/><circle cx="170.1" cy="171.0" r="2.4"/><circle cx="178.5" cy="169.5" r="2.4"/><circle cx="168.9" cy="163.6" r="2.4"/><circle cx="182.9" cy="174.7" r="2.4"/><circle cx="166.7" cy="167.8" r="2.4"/><circle cx="177.0" cy="168.1" r="2.4"/><circle cx="161.1" cy="176.3" r="2.4"/><circle cx="177.8" cy="162.2" r="2.4"/><circle cx="185.2" cy="150.8" r="2.4"/><circle cx="175.0" cy="172.3" r="2.4"/><circle cx="186.6" cy="166.1" r="2.4"/><circle cx="187.7" cy="151.1" r="2.4"/><circle cx="188.0" cy="153.1" r="2.4"/><circle cx="183.0" cy="164.6" r="2.4"/><circle cx="182.2" cy="158.5" r="2.4"/><circle cx="182.3" cy="151.2" r="2.4"/><circle cx="186.0" cy="161.9" r="2.4"/><circle cx="181.9" cy="147.5" r="2.4"/><circle cx="167.8" cy="170.1" r="2.4"/><circle cx="183.7" cy="154.7" r="2.4"/><circle cx="186.1" cy="157.9" r="2.4"/><circle cx="170.5" cy="156.7" r="2.4"/><circle cx="174.2" cy="172.4" r="2.4"/><circle cx="181.6" cy="165.8" r="2.4"/><circle cx="171.7" cy="164.5" r="2.4"/><circle cx="173.8" cy="158.3" r="2.4"/><circle cx="186.8" cy="156.8" r="2.4"/><circle cx="189.6" cy="160.0" r="2.4"/><circle cx="182.0" cy="147.9" r="2.4"/><circle cx="172.8" cy="164.4" r="2.4"/><circle cx="194.9" cy="157.8" r="2.4"/><circle cx="191.3" cy="154.7" r="2.4"/><circle cx="173.9" cy="159.8" r="2.4"/><circle cx="168.5" cy="167.3" r="2.4"/><circle cx="173.8" cy="165.3" r="2.4"/><circle cx="173.0" cy="149.8" r="2.4"/><circle cx="161.4" cy="172.9" r="2.4"/><circle cx="169.7" cy="152.1" r="2.4"/><circle cx="185.0" cy="172.8" r="2.4"/><circle cx="186.7" cy="162.8" r="2.4"/><circle cx="177.0" cy="172.5" r="2.4"/><circle cx="185.4" cy="161.7" r="2.4"/><circle cx="170.1" cy="173.6" r="2.4"/><circle cx="188.6" cy="162.2" r="2.4"/><circle cx="186.4" cy="160.2" r="2.4"/><circle cx="178.2" cy="175.8" r="2.4"/><circle cx="168.5" cy="176.0" r="2.4"/><circle cx="161.2" cy="166.6" r="2.4"/><circle cx="194.3" cy="167.2" r="2.4"/><circle cx="177.9" cy="156.7" r="2.4"/><circle cx="177.5" cy="160.8" r="2.4"/><circle cx="177.4" cy="163.2" r="2.4"/><circle cx="185.6" cy="163.7" r="2.4"/><circle cx="183.0" cy="158.4" r="2.4"/><circle cx="182.5" cy="166.3" r="2.4"/><circle cx="166.5" cy="172.7" r="2.4"/><circle cx="167.0" cy="162.8" r="2.4"/><circle cx="193.9" cy="156.1" r="2.4"/><circle cx="161.2" cy="163.0" r="2.4"/><circle cx="175.6" cy="168.5" r="2.4"/><circle cx="166.4" cy="176.1" r="2.4"/><circle cx="178.4" cy="169.3" r="2.4"/><circle cx="168.7" cy="166.5" r="2.4"/><circle cx="194.2" cy="147.2" r="2.4"/><circle cx="173.9" cy="166.5" r="2.4"/><circle cx="186.9" cy="164.4" r="2.4"/><circle cx="175.3" cy="152.5" r="2.4"/><circle cx="185.7" cy="163.4" r="2.4"/><circle cx="166.9" cy="171.0" r="2.4"/><circle cx="183.6" cy="179.1" r="2.4"/><circle cx="178.8" cy="156.5" r="2.4"/><circle cx="163.3" cy="165.1" r="2.4"/><circle cx="180.0" cy="152.4" r="2.4"/><circle cx="161.6" cy="179.4" r="2.4"/><circle cx="195.3" cy="148.7" r="2.4"/><circle cx="184.9" cy="163.6" r="2.4"/><circle cx="196.0" cy="154.1" r="2.4"/><circle cx="191.0" cy="170.5" r="2.4"/><circle cx="179.4" cy="161.3" r="2.4"/><circle cx="174.4" cy="169.5" r="2.4"/><circle cx="162.0" cy="173.5" r="2.4"/><circle cx="175.2" cy="159.9" r="2.4"/><circle cx="164.1" cy="172.0" r="2.4"/><circle cx="174.0" cy="167.3" r="2.4"/><circle cx="190.6" cy="152.7" r="2.4"/><circle cx="183.4" cy="173.9" r="2.4"/><circle cx="176.7" cy="158.8" r="2.4"/><circle cx="172.5" cy="170.0" r="2.4"/><circle cx="178.3" cy="152.9" r="2.4"/><circle cx="184.0" cy="173.5" r="2.4"/><circle cx="182.6" cy="173.8" r="2.4"/><circle cx="167.2" cy="157.5" r="2.4"/><circle cx="184.0" cy="160.3" r="2.4"/><circle cx="193.9" cy="153.3" r="2.4"/><circle cx="182.7" cy="158.4" r="2.4"/><circle cx="192.0" cy="164.4" r="2.4"/><circle cx="184.0" cy="151.4" r="2.4"/><circle cx="161.9" cy="166.1" r="2.4"/><circle cx="176.7" cy="159.7" r="2.4"/><circle cx="182.1" cy="153.0" r="2.4"/><circle cx="174.9" cy="172.4" r="2.4"/><circle cx="181.3" cy="156.2" r="2.4"/><circle cx="184.9" cy="155.2" r="2.4"/><circle cx="168.6" cy="163.4" r="2.4"/><circle cx="180.3" cy="153.1" r="2.4"/><circle cx="171.2" cy="169.6" r="2.4"/><circle cx="175.5" cy="169.4" r="2.4"/><circle cx="180.3" cy="159.3" r="2.4"/><circle cx="167.7" cy="169.0" r="2.4"/><circle cx="167.5" cy="170.2" r="2.4"/><circle cx="179.8" cy="171.0" r="2.4"/><circle cx="178.7" cy="164.2" r="2.4"/><circle cx="197.6" cy="158.2" r="2.4"/><circle cx="163.8" cy="167.5" r="2.4"/><circle cx="192.9" cy="155.2" r="2.4"/><circle cx="168.7" cy="169.9" r="2.4"/><circle cx="165.2" cy="180.5" r="2.4"/><circle cx="183.1" cy="153.1" r="2.4"/><circle cx="168.2" cy="180.5" r="2.4"/><circle cx="169.4" cy="175.0" r="2.4"/><circle cx="180.0" cy="158.6" r="2.4"/><circle cx="189.6" cy="152.6" r="2.4"/><circle cx="164.8" cy="175.1" r="2.4"/><circle cx="166.0" cy="166.5" r="2.4"/><circle cx="198.4" cy="151.3" r="2.4"/><circle cx="168.2" cy="172.2" r="2.4"/><circle cx="162.7" cy="170.5" r="2.4"/><circle cx="185.5" cy="164.3" r="2.4"/><circle cx="167.9" cy="167.2" r="2.4"/><circle cx="171.2" cy="172.4" r="2.4"/><circle cx="160.7" cy="165.9" r="2.4"/><circle cx="183.4" cy="148.1" r="2.4"/><circle cx="187.2" cy="155.3" r="2.4"/><circle cx="182.2" cy="155.6" r="2.4"/><circle cx="187.3" cy="153.6" r="2.4"/><circle cx="185.4" cy="171.8" r="2.4"/><circle cx="171.1" cy="168.4" r="2.4"/><circle cx="189.0" cy="171.9" r="2.4"/><circle cx="174.2" cy="165.3" r="2.4"/><circle cx="183.3" cy="158.9" r="2.4"/><circle cx="180.8" cy="160.6" r="2.4"/><circle cx="181.9" cy="173.0" r="2.4"/><circle cx="183.3" cy="156.2" r="2.4"/><circle cx="180.7" cy="151.0" r="2.4"/><circle cx="166.6" cy="171.2" r="2.4"/><circle cx="176.0" cy="159.8" r="2.4"/><circle cx="180.5" cy="167.4" r="2.4"/><circle cx="180.2" cy="157.9" r="2.4"/><circle cx="161.5" cy="167.8" r="2.4"/><circle cx="191.5" cy="148.2" r="2.4"/><circle cx="179.5" cy="165.2" r="2.4"/><circle cx="170.3" cy="175.9" r="2.4"/><circle cx="196.3" cy="155.9" r="2.4"/><circle cx="169.2" cy="164.9" r="2.4"/><circle cx="196.3" cy="153.6" r="2.4"/><circle cx="182.1" cy="156.5" r="2.4"/><circle cx="160.8" cy="171.0" r="2.4"/><circle cx="188.7" cy="165.1" r="2.4"/><circle cx="160.4" cy="173.6" r="2.4"/><circle cx="174.6" cy="172.7" r="2.4"/><circle cx="170.1" cy="166.7" r="2.4"/><circle cx="193.8" cy="166.0" r="2.4"/><circle cx="198.7" cy="146.4" r="2.4"/><circle cx="163.7" cy="163.9" r="2.4"/><circle cx="171.7" cy="158.0" r="2.4"/><circle cx="169.7" cy="171.5" r="2.4"/><circle cx="185.1" cy="159.7" r="2.4"/><circle cx="185.3" cy="145.8" r="2.4"/><circle cx="171.4" cy="175.3" r="2.4"/><circle cx="185.3" cy="159.3" r="2.4"/><circle cx="182.9" cy="164.1" r="2.4"/><circle cx="176.3" cy="161.7" r="2.4"/><circle cx="192.6" cy="158.1" r="2.4"/><circle cx="182.0" cy="167.5" r="2.4"/><circle cx="184.5" cy="171.2" r="2.4"/><circle cx="188.1" cy="149.4" r="2.4"/><circle cx="181.5" cy="167.3" r="2.4"/><circle cx="177.4" cy="170.9" r="2.4"/><circle cx="162.7" cy="173.3" r="2.4"/><circle cx="194.7" cy="163.2" r="2.4"/><circle cx="173.3" cy="168.0" r="2.4"/><circle cx="182.4" cy="165.4" r="2.4"/><circle cx="179.4" cy="165.8" r="2.4"/><circle cx="195.3" cy="149.5" r="2.4"/><circle cx="181.9" cy="165.6" r="2.4"/><circle cx="175.6" cy="173.2" r="2.4"/><circle cx="170.9" cy="154.7" r="2.4"/><circle cx="192.1" cy="149.5" r="2.4"/><circle cx="183.0" cy="161.3" r="2.4"/><circle cx="165.1" cy="173.9" r="2.4"/><circle cx="183.6" cy="173.4" r="2.4"/><circle cx="179.9" cy="158.3" r="2.4"/><circle cx="184.4" cy="162.7" r="2.4"/><circle cx="180.0" cy="153.0" r="2.4"/><circle cx="173.4" cy="164.0" r="2.4"/><circle cx="194.5" cy="153.7" r="2.4"/><circle cx="185.4" cy="164.3" r="2.4"/><circle cx="188.8" cy="157.9" r="2.4"/><circle cx="197.4" cy="153.6" r="2.4"/><circle cx="173.9" cy="176.2" r="2.4"/><circle cx="191.9" cy="159.4" r="2.4"/><circle cx="192.9" cy="163.5" r="2.4"/><circle cx="182.9" cy="166.4" r="2.4"/><circle cx="183.3" cy="148.3" r="2.4"/><circle cx="169.7" cy="175.0" r="2.4"/><circle cx="180.7" cy="157.8" r="2.4"/><circle cx="164.7" cy="174.6" r="2.4"/><circle cx="173.8" cy="159.9" r="2.4"/><circle cx="175.1" cy="169.9" r="2.4"/><circle cx="191.6" cy="157.7" r="2.4"/><circle cx="185.0" cy="149.1" r="2.4"/><circle cx="192.4" cy="153.1" r="2.4"/><circle cx="170.8" cy="173.2" r="2.4"/><circle cx="187.2" cy="155.0" r="2.4"/><circle cx="184.0" cy="153.9" r="2.4"/><circle cx="173.5" cy="176.8" r="2.4"/><circle cx="174.1" cy="176.3" r="2.4"/><circle cx="197.0" cy="157.2" r="2.4"/><circle cx="164.0" cy="167.9" r="2.4"/><circle cx="181.0" cy="161.2" r="2.4"/><circle cx="173.0" cy="171.0" r="2.4"/><circle cx="173.7" cy="168.5" r="2.4"/><circle cx="195.3" cy="160.0" r="2.4"/><circle cx="198.4" cy="146.6" r="2.4"/><circle cx="179.8" cy="163.3" r="2.4"/><circle cx="190.4" cy="150.4" r="2.4"/><circle cx="190.9" cy="154.2" r="2.4"/><circle cx="178.5" cy="164.5" r="2.4"/><circle cx="187.6" cy="155.2" r="2.4"/><circle cx="181.3" cy="146.4" r="2.4"/><circle cx="167.0" cy="156.3" r="2.4"/><circle cx="169.4" cy="173.0" r="2.4"/><circle cx="192.9" cy="152.8" r="2.4"/><circle cx="179.9" cy="165.8" r="2.4"/><circle cx="176.1" cy="161.2" r="2.4"/><circle cx="162.5" cy="168.7" r="2.4"/><circle cx="197.0" cy="147.7" r="2.4"/><circle cx="178.0" cy="168.8" r="2.4"/><circle cx="183.5" cy="170.5" r="2.4"/><circle cx="176.8" cy="160.6" r="2.4"/><circle cx="181.2" cy="157.4" r="2.4"/><circle cx="182.5" cy="151.5" r="2.4"/><circle cx="168.6" cy="178.1" r="2.4"/><circle cx="163.5" cy="171.8" r="2.4"/><circle cx="183.7" cy="158.9" r="2.4"/><circle cx="170.1" cy="168.6" r="2.4"/><circle cx="183.7" cy="165.8" r="2.4"/><circle cx="187.0" cy="162.2" r="2.4"/><circle cx="188.2" cy="149.6" r="2.4"/><circle cx="168.5" cy="167.9" r="2.4"/><circle cx="184.0" cy="165.3" r="2.4"/><circle cx="176.7" cy="180.4" r="2.4"/><circle cx="164.2" cy="173.9" r="2.4"/><circle cx="197.5" cy="152.3" r="2.4"/><circle cx="180.0" cy="159.6" r="2.4"/><circle cx="187.1" cy="152.3" r="2.4"/><circle cx="190.9" cy="145.9" r="2.4"/><circle cx="168.5" cy="169.6" r="2.4"/><circle cx="177.1" cy="160.1" r="2.4"/><circle cx="172.0" cy="162.6" r="2.4"/><circle cx="171.8" cy="167.8" r="2.4"/><circle cx="185.0" cy="156.8" r="2.4"/><circle cx="195.6" cy="158.9" r="2.4"/><circle cx="183.5" cy="149.1" r="2.4"/><circle cx="191.1" cy="148.7" r="2.4"/><circle cx="174.9" cy="163.8" r="2.4"/><circle cx="186.5" cy="170.8" r="2.4"/><circle cx="172.5" cy="169.8" r="2.4"/><circle cx="178.0" cy="172.7" r="2.4"/><circle cx="178.7" cy="167.1" r="2.4"/><circle cx="180.8" cy="162.3" r="2.4"/><circle cx="177.0" cy="156.6" r="2.4"/><circle cx="179.4" cy="159.6" r="2.4"/><circle cx="171.5" cy="164.3" r="2.4"/><circle cx="178.6" cy="169.4" r="2.4"/><circle cx="160.3" cy="172.7" r="2.4"/><circle cx="172.1" cy="167.7" r="2.4"/><circle cx="190.9" cy="148.0" r="2.4"/><circle cx="188.0" cy="149.2" r="2.4"/><circle cx="171.5" cy="169.9" r="2.4"/><circle cx="177.8" cy="173.7" r="2.4"/><circle cx="187.1" cy="163.0" r="2.4"/><circle cx="172.6" cy="168.5" r="2.4"/><circle cx="173.1" cy="168.4" r="2.4"/><circle cx="179.2" cy="175.9" r="2.4"/><circle cx="183.8" cy="163.3" r="2.4"/><circle cx="176.5" cy="163.2" r="2.4"/><circle cx="166.7" cy="181.8" r="2.4"/><circle cx="162.7" cy="167.2" r="2.4"/><circle cx="161.1" cy="169.4" r="2.4"/><circle cx="178.6" cy="163.6" r="2.4"/><circle cx="196.4" cy="157.2" r="2.4"/><circle cx="180.8" cy="166.2" r="2.4"/><circle cx="161.4" cy="170.5" r="2.4"/><circle cx="183.2" cy="159.6" r="2.4"/><circle cx="190.5" cy="153.3" r="2.4"/><circle cx="195.3" cy="157.6" r="2.4"/><circle cx="198.2" cy="148.5" r="2.4"/><circle cx="196.6" cy="151.2" r="2.4"/><circle cx="179.0" cy="153.4" r="2.4"/><circle cx="168.2" cy="172.5" r="2.4"/><circle cx="165.3" cy="168.4" r="2.4"/><circle cx="174.2" cy="171.2" r="2.4"/><circle cx="171.6" cy="160.0" r="2.4"/><circle cx="167.1" cy="174.5" r="2.4"/><circle cx="178.4" cy="169.0" r="2.4"/><circle cx="170.9" cy="172.3" r="2.4"/><circle cx="189.6" cy="167.6" r="2.4"/><circle cx="188.3" cy="165.6" r="2.4"/><circle cx="168.8" cy="152.6" r="2.4"/><circle cx="168.2" cy="173.9" r="2.4"/><circle cx="171.8" cy="161.4" r="2.4"/><circle cx="182.6" cy="176.1" r="2.4"/><circle cx="177.6" cy="155.4" r="2.4"/><circle cx="169.9" cy="165.9" r="2.4"/><circle cx="160.4" cy="168.9" r="2.4"/><circle cx="182.1" cy="166.7" r="2.4"/><circle cx="173.4" cy="153.2" r="2.4"/><circle cx="175.4" cy="177.8" r="2.4"/><circle cx="173.0" cy="179.3" r="2.4"/><circle cx="177.4" cy="161.9" r="2.4"/><circle cx="176.7" cy="163.8" r="2.4"/><circle cx="195.5" cy="151.1" r="2.4"/><circle cx="186.0" cy="163.2" r="2.4"/><circle cx="174.7" cy="163.8" r="2.4"/><circle cx="193.0" cy="164.7" r="2.4"/><circle cx="167.7" cy="173.2" r="2.4"/><circle cx="172.4" cy="159.4" r="2.4"/><circle cx="183.6" cy="177.6" r="2.4"/><circle cx="166.0" cy="171.9" r="2.4"/><circle cx="180.0" cy="157.9" r="2.4"/><circle cx="163.6" cy="157.9" r="2.4"/><circle cx="189.8" cy="160.1" r="2.4"/><circle cx="171.2" cy="168.1" r="2.4"/><circle cx="186.1" cy="165.6" r="2.4"/><circle cx="166.5" cy="171.6" r="2.4"/><circle cx="174.1" cy="171.8" r="2.4"/><circle cx="191.1" cy="151.4" r="2.4"/><circle cx="177.9" cy="163.6" r="2.4"/><circle cx="164.2" cy="165.4" r="2.4"/><circle cx="176.3" cy="170.0" r="2.4"/><circle cx="196.9" cy="145.6" r="2.4"/><circle cx="174.5" cy="172.3" r="2.4"/><circle cx="178.0" cy="147.9" r="2.4"/><circle cx="189.1" cy="157.8" r="2.4"/><circle cx="169.3" cy="178.3" r="2.4"/><circle cx="177.1" cy="163.1" r="2.4"/><circle cx="165.5" cy="164.5" r="2.4"/><circle cx="171.5" cy="176.7" r="2.4"/><circle cx="183.4" cy="155.3" r="2.4"/><circle cx="170.3" cy="163.0" r="2.4"/><circle cx="171.6" cy="152.9" r="2.4"/><circle cx="173.9" cy="156.4" r="2.4"/><circle cx="176.3" cy="164.2" r="2.4"/><circle cx="194.6" cy="164.8" r="2.4"/><circle cx="168.8" cy="157.6" r="2.4"/><circle cx="189.3" cy="151.2" r="2.4"/><circle cx="175.3" cy="154.6" r="2.4"/><circle cx="193.0" cy="167.6" r="2.4"/><circle cx="169.6" cy="174.7" r="2.4"/><circle cx="183.6" cy="163.3" r="2.4"/><circle cx="170.3" cy="156.7" r="2.4"/><circle cx="188.2" cy="149.9" r="2.4"/><circle cx="179.6" cy="162.4" r="2.4"/><circle cx="182.9" cy="157.8" r="2.4"/><circle cx="167.1" cy="167.5" r="2.4"/><circle cx="169.8" cy="172.2" r="2.4"/><circle cx="180.9" cy="172.0" r="2.4"/><circle cx="187.4" cy="156.5" r="2.4"/><circle cx="165.9" cy="176.1" r="2.4"/><circle cx="176.3" cy="148.4" r="2.4"/><circle cx="169.4" cy="166.1" r="2.4"/><circle cx="172.1" cy="177.4" r="2.4"/><circle cx="176.6" cy="162.1" r="2.4"/><circle cx="192.2" cy="153.9" r="2.4"/><circle cx="188.4" cy="146.5" r="2.4"/><circle cx="169.9" cy="173.3" r="2.4"/><circle cx="160.3" cy="165.5" r="2.4"/><circle cx="168.7" cy="165.1" r="2.4"/><circle cx="192.0" cy="153.9" r="2.4"/><circle cx="172.1" cy="166.8" r="2.4"/><circle cx="176.4" cy="177.0" r="2.4"/><circle cx="166.3" cy="172.1" r="2.4"/><circle cx="173.5" cy="153.0" r="2.4"/><circle cx="187.5" cy="154.7" r="2.4"/><circle cx="178.4" cy="173.4" r="2.4"/><circle cx="171.2" cy="169.6" r="2.4"/><circle cx="181.6" cy="149.8" r="2.4"/><circle cx="180.0" cy="169.1" r="2.4"/><circle cx="177.7" cy="168.5" r="2.4"/><circle cx="176.0" cy="169.8" r="2.4"/><circle cx="169.4" cy="172.7" r="2.4"/><circle cx="174.3" cy="169.3" r="2.4"/><circle cx="162.2" cy="177.5" r="2.4"/><circle cx="183.5" cy="153.8" r="2.4"/><circle cx="178.6" cy="173.9" r="2.4"/><circle cx="173.4" cy="171.3" r="2.4"/><circle cx="167.0" cy="167.2" r="2.4"/><circle cx="178.3" cy="167.6" r="2.4"/><circle cx="178.1" cy="165.8" r="2.4"/><circle cx="182.2" cy="167.6" r="2.4"/><circle cx="186.5" cy="161.3" r="2.4"/><circle cx="191.9" cy="161.3" r="2.4"/><circle cx="179.6" cy="173.1" r="2.4"/><circle cx="187.5" cy="160.3" r="2.4"/><circle cx="191.2" cy="157.2" r="2.4"/><circle cx="189.9" cy="152.4" r="2.4"/><circle cx="183.3" cy="158.3" r="2.4"/><circle cx="177.0" cy="168.5" r="2.4"/><circle cx="181.7" cy="154.8" r="2.4"/><circle cx="164.0" cy="157.6" r="2.4"/><circle cx="193.1" cy="151.3" r="2.4"/><circle cx="186.3" cy="163.8" r="2.4"/><circle cx="182.2" cy="167.0" r="2.4"/><circle cx="166.0" cy="179.3" r="2.4"/><circle cx="186.2" cy="160.8" r="2.4"/><circle cx="180.6" cy="171.5" r="2.4"/><circle cx="188.0" cy="164.9" r="2.4"/><circle cx="167.9" cy="159.3" r="2.4"/><circle cx="187.4" cy="161.7" r="2.4"/><circle cx="180.2" cy="170.8" r="2.4"/><circle cx="177.7" cy="158.6" r="2.4"/><circle cx="192.2" cy="153.9" r="2.4"/><circle cx="165.7" cy="176.3" r="2.4"/><circle cx="188.9" cy="172.6" r="2.4"/><circle cx="171.9" cy="165.2" r="2.4"/><circle cx="161.9" cy="167.3" r="2.4"/><circle cx="177.1" cy="172.9" r="2.4"/><circle cx="173.2" cy="169.6" r="2.4"/><circle cx="194.4" cy="154.4" r="2.4"/><circle cx="178.6" cy="150.5" r="2.4"/><circle cx="185.6" cy="153.5" r="2.4"/><circle cx="174.7" cy="175.1" r="2.4"/><circle cx="163.8" cy="169.2" r="2.4"/><circle cx="177.2" cy="155.9" r="2.4"/><circle cx="170.0" cy="155.1" r="2.4"/><circle cx="166.2" cy="179.0" r="2.4"/><circle cx="177.1" cy="168.6" r="2.4"/><circle cx="185.4" cy="165.0" r="2.4"/><circle cx="178.0" cy="179.1" r="2.4"/><circle cx="188.2" cy="156.9" r="2.4"/><circle cx="186.9" cy="151.0" r="2.4"/><circle cx="173.0" cy="169.3" r="2.4"/><circle cx="174.5" cy="150.2" r="2.4"/><circle cx="172.6" cy="166.1" r="2.4"/><circle cx="180.4" cy="151.7" r="2.4"/><circle cx="179.7" cy="153.6" r="2.4"/><circle cx="168.2" cy="175.6" r="2.4"/><circle cx="179.5" cy="160.8" r="2.4"/><circle cx="187.7" cy="167.0" r="2.4"/><circle cx="172.2" cy="171.2" r="2.4"/><circle cx="185.8" cy="164.8" r="2.4"/><circle cx="181.9" cy="167.2" r="2.4"/><circle cx="167.0" cy="180.1" r="2.4"/><circle cx="166.0" cy="168.0" r="2.4"/><circle cx="193.0" cy="145.8" r="2.4"/><circle cx="179.8" cy="167.6" r="2.4"/><circle cx="183.5" cy="161.5" r="2.4"/><circle cx="177.7" cy="161.0" r="2.4"/><circle cx="177.5" cy="161.1" r="2.4"/><circle cx="170.2" cy="171.1" r="2.4"/><circle cx="170.3" cy="162.0" r="2.4"/><circle cx="181.0" cy="166.0" r="2.4"/><circle cx="179.3" cy="162.1" r="2.4"/><circle cx="174.9" cy="163.6" r="2.4"/><circle cx="180.8" cy="176.5" r="2.4"/><circle cx="188.1" cy="155.4" r="2.4"/><circle cx="168.8" cy="168.0" r="2.4"/><circle cx="167.0" cy="175.2" r="2.4"/><circle cx="191.3" cy="161.2" r="2.4"/><circle cx="180.6" cy="153.9" r="2.4"/><circle cx="192.5" cy="157.0" r="2.4"/><circle cx="176.7" cy="175.2" r="2.4"/><circle cx="162.7" cy="175.6" r="2.4"/><circle cx="174.0" cy="156.8" r="2.4"/><circle cx="184.5" cy="161.3" r="2.4"/><circle cx="181.8" cy="161.2" r="2.4"/><circle cx="172.6" cy="178.3" r="2.4"/><circle cx="191.9" cy="160.2" r="2.4"/><circle cx="183.7" cy="153.8" r="2.4"/><circle cx="182.8" cy="174.0" r="2.4"/><circle cx="177.9" cy="152.3" r="2.4"/><circle cx="175.8" cy="177.3" r="2.4"/><circle cx="192.0" cy="150.4" r="2.4"/><circle cx="166.4" cy="164.4" r="2.4"/><circle cx="174.2" cy="163.9" r="2.4"/><circle cx="178.4" cy="170.5" r="2.4"/><circle cx="186.4" cy="164.2" r="2.4"/><circle cx="172.2" cy="165.6" r="2.4"/><circle cx="164.8" cy="170.0" r="2.4"/><circle cx="173.1" cy="166.6" r="2.4"/><circle cx="170.1" cy="172.7" r="2.4"/><circle cx="192.4" cy="153.1" r="2.4"/><circle cx="170.3" cy="169.0" r="2.4"/><circle cx="191.1" cy="154.1" r="2.4"/><circle cx="176.3" cy="161.8" r="2.4"/><circle cx="191.1" cy="150.0" r="2.4"/><circle cx="187.8" cy="159.8" r="2.4"/><circle cx="175.8" cy="161.4" r="2.4"/><circle cx="167.6" cy="175.0" r="2.4"/><circle cx="174.6" cy="156.2" r="2.4"/><circle cx="176.3" cy="164.8" r="2.4"/><circle cx="168.3" cy="162.1" r="2.4"/><circle cx="180.3" cy="165.4" r="2.4"/><circle cx="186.0" cy="159.1" r="2.4"/><circle cx="166.2" cy="161.8" r="2.4"/><circle cx="190.9" cy="151.7" r="2.4"/><circle cx="185.4" cy="150.5" r="2.4"/><circle cx="186.4" cy="156.3" r="2.4"/><circle cx="178.6" cy="160.3" r="2.4"/><circle cx="184.7" cy="155.2" r="2.4"/><circle cx="173.4" cy="169.1" r="2.4"/><circle cx="189.7" cy="162.1" r="2.4"/><circle cx="176.0" cy="159.7" r="2.4"/><circle cx="183.0" cy="162.2" r="2.4"/><circle cx="181.6" cy="165.1" r="2.4"/><circle cx="193.1" cy="153.8" r="2.4"/><circle cx="182.2" cy="158.7" r="2.4"/><circle cx="180.2" cy="173.5" r="2.4"/><circle cx="181.8" cy="168.0" r="2.4"/><circle cx="171.8" cy="170.0" r="2.4"/><circle cx="169.0" cy="169.8" r="2.4"/><circle cx="173.0" cy="172.8" r="2.4"/><circle cx="170.1" cy="159.1" r="2.4"/><circle cx="170.8" cy="170.8" r="2.4"/><circle cx="186.8" cy="149.5" r="2.4"/><circle cx="160.5" cy="180.7" r="2.4"/><circle cx="167.3" cy="167.7" r="2.4"/><circle cx="189.7" cy="158.2" r="2.4"/><circle cx="169.8" cy="155.7" r="2.4"/><circle cx="175.6" cy="170.5" r="2.4"/><circle cx="197.4" cy="147.0" r="2.4"/><circle cx="191.2" cy="163.0" r="2.4"/><circle cx="180.6" cy="156.0" r="2.4"/><circle cx="175.9" cy="170.3" r="2.4"/><circle cx="190.4" cy="145.8" r="2.4"/><circle cx="187.3" cy="149.9" r="2.4"/><circle cx="174.7" cy="178.3" r="2.4"/><circle cx="186.5" cy="155.2" r="2.4"/><circle cx="192.7" cy="153.3" r="2.4"/><circle cx="167.0" cy="170.5" r="2.4"/><circle cx="180.6" cy="175.8" r="2.4"/><circle cx="176.5" cy="173.1" r="2.4"/><circle cx="168.9" cy="177.2" r="2.4"/><circle cx="193.6" cy="150.8" r="2.4"/><circle cx="187.6" cy="161.3" r="2.4"/><circle cx="186.5" cy="170.7" r="2.4"/><circle cx="189.3" cy="159.0" r="2.4"/><circle cx="188.3" cy="164.9" r="2.4"/><circle cx="170.9" cy="163.0" r="2.4"/><circle cx="195.7" cy="164.6" r="2.4"/><circle cx="195.9" cy="159.1" r="2.4"/><circle cx="180.6" cy="157.5" r="2.4"/><circle cx="173.4" cy="171.1" r="2.4"/><circle cx="174.8" cy="163.8" r="2.4"/><circle cx="184.2" cy="147.2" r="2.4"/><circle cx="174.3" cy="150.9" r="2.4"/><circle cx="172.9" cy="162.4" r="2.4"/><circle cx="177.7" cy="163.8" r="2.4"/><circle cx="166.9" cy="171.1" r="2.4"/><circle cx="179.3" cy="163.0" r="2.4"/><circle cx="189.1" cy="156.0" r="2.4"/><circle cx="178.6" cy="162.0" r="2.4"/><circle cx="170.0" cy="176.9" r="2.4"/><circle cx="175.9" cy="159.0" r="2.4"/><circle cx="192.1" cy="153.2" r="2.4"/><circle cx="193.6" cy="163.0" r="2.4"/><circle cx="183.3" cy="150.6" r="2.4"/><circle cx="173.6" cy="159.6" r="2.4"/><circle cx="179.5" cy="150.2" r="2.4"/><circle cx="173.0" cy="177.6" r="2.4"/><circle cx="171.6" cy="173.5" r="2.4"/><circle cx="192.3" cy="155.2" r="2.4"/><circle cx="185.9" cy="152.5" r="2.4"/><circle cx="174.5" cy="178.0" r="2.4"/><circle cx="165.1" cy="172.8" r="2.4"/><circle cx="184.6" cy="166.2" r="2.4"/><circle cx="188.5" cy="147.1" r="2.4"/><circle cx="186.5" cy="163.0" r="2.4"/><circle cx="178.7" cy="180.9" r="2.4"/><circle cx="182.4" cy="157.0" r="2.4"/><circle cx="168.5" cy="172.7" r="2.4"/><circle cx="176.8" cy="169.5" r="2.4"/><circle cx="187.7" cy="156.6" r="2.4"/><circle cx="189.1" cy="149.9" r="2.4"/><circle cx="192.9" cy="149.7" r="2.4"/><circle cx="189.1" cy="165.9" r="2.4"/><circle cx="176.4" cy="158.4" r="2.4"/><circle cx="167.2" cy="173.7" r="2.4"/><circle cx="175.5" cy="175.1" r="2.4"/><circle cx="166.4" cy="164.2" r="2.4"/><circle cx="188.0" cy="155.5" r="2.4"/><circle cx="178.1" cy="163.2" r="2.4"/><circle cx="182.2" cy="159.0" r="2.4"/><circle cx="193.6" cy="160.3" r="2.4"/><circle cx="178.4" cy="164.8" r="2.4"/><circle cx="170.1" cy="167.0" r="2.4"/><circle cx="177.7" cy="167.0" r="2.4"/><circle cx="169.5" cy="174.4" r="2.4"/><circle cx="167.1" cy="173.9" r="2.4"/><circle cx="191.1" cy="163.9" r="2.4"/><circle cx="187.6" cy="147.7" r="2.4"/><circle cx="181.4" cy="164.1" r="2.4"/><circle cx="197.7" cy="155.6" r="2.4"/><circle cx="164.4" cy="157.2" r="2.4"/><circle cx="173.6" cy="156.9" r="2.4"/><circle cx="169.5" cy="167.1" r="2.4"/><circle cx="187.6" cy="167.9" r="2.4"/><circle cx="166.9" cy="164.9" r="2.4"/><circle cx="196.6" cy="152.5" r="2.4"/><circle cx="196.4" cy="153.6" r="2.4"/><circle cx="182.7" cy="160.3" r="2.4"/><circle cx="163.2" cy="175.1" r="2.4"/><circle cx="173.7" cy="175.4" r="2.4"/><circle cx="174.2" cy="176.1" r="2.4"/><circle cx="190.0" cy="152.9" r="2.4"/><circle cx="183.9" cy="161.2" r="2.4"/><circle cx="181.6" cy="163.3" r="2.4"/><circle cx="173.7" cy="181.1" r="2.4"/><circle cx="175.8" cy="157.8" r="2.4"/><circle cx="175.0" cy="153.5" r="2.4"/><circle cx="164.5" cy="178.8" r="2.4"/><circle cx="166.5" cy="164.4" r="2.4"/><circle cx="189.6" cy="155.9" r="2.4"/><circle cx="168.2" cy="174.2" r="2.4"/><circle cx="181.2" cy="151.4" r="2.4"/><circle cx="188.9" cy="153.8" r="2.4"/><circle cx="188.0" cy="152.2" r="2.4"/><circle cx="181.2" cy="157.6" r="2.4"/><circle cx="166.3" cy="162.1" r="2.4"/><circle cx="175.5" cy="168.9" r="2.4"/><circle cx="189.8" cy="163.7" r="2.4"/><circle cx="186.4" cy="162.4" r="2.4"/><circle cx="179.6" cy="162.6" r="2.4"/><circle cx="189.0" cy="166.8" r="2.4"/><circle cx="160.7" cy="165.3" r="2.4"/><circle cx="191.0" cy="156.3" r="2.4"/><circle cx="179.0" cy="175.9" r="2.4"/><circle cx="194.0" cy="159.2" r="2.4"/><circle cx="174.6" cy="160.9" r="2.4"/><circle cx="174.1" cy="169.3" r="2.4"/><circle cx="173.1" cy="155.2" r="2.4"/><circle cx="179.0" cy="167.5" r="2.4"/><circle cx="191.6" cy="167.0" r="2.4"/><circle cx="175.7" cy="162.8" r="2.4"/><circle cx="167.3" cy="159.2" r="2.4"/><circle cx="180.9" cy="158.3" r="2.4"/><circle cx="180.6" cy="159.2" r="2.4"/><circle cx="181.9" cy="164.7" r="2.4"/><circle cx="179.0" cy="166.8" r="2.4"/><circle cx="172.9" cy="156.0" r="2.4"/><circle cx="192.0" cy="158.2" r="2.4"/><circle cx="176.4" cy="165.2" r="2.4"/><circle cx="171.8" cy="164.6" r="2.4"/><circle cx="191.8" cy="165.5" r="2.4"/><circle cx="188.8" cy="165.3" r="2.4"/><circle cx="180.1" cy="166.9" r="2.4"/><circle cx="169.4" cy="167.4" r="2.4"/><circle cx="167.9" cy="159.4" r="2.4"/><circle cx="177.9" cy="156.9" r="2.4"/><circle cx="165.2" cy="158.7" r="2.4"/><circle cx="175.0" cy="174.9" r="2.4"/><circle cx="194.0" cy="153.5" r="2.4"/><circle cx="175.6" cy="159.8" r="2.4"/><circle cx="187.7" cy="149.3" r="2.4"/><circle cx="183.3" cy="164.7" r="2.4"/><circle cx="167.3" cy="173.2" r="2.4"/><circle cx="173.5" cy="165.4" r="2.4"/><circle cx="172.7" cy="180.3" r="2.4"/><circle cx="198.9" cy="151.5" r="2.4"/><circle cx="169.0" cy="162.6" r="2.4"/><circle cx="171.4" cy="161.1" r="2.4"/><circle cx="189.0" cy="162.3" r="2.4"/><circle cx="186.7" cy="162.0" r="2.4"/><circle cx="185.4" cy="167.7" r="2.4"/><circle cx="171.2" cy="167.6" r="2.4"/><circle cx="193.3" cy="164.2" r="2.4"/><circle cx="177.2" cy="156.7" r="2.4"/><circle cx="162.7" cy="172.4" r="2.4"/><circle cx="175.4" cy="173.1" r="2.4"/><circle cx="182.1" cy="158.6" r="2.4"/><circle cx="164.5" cy="178.1" r="2.4"/><circle cx="167.7" cy="169.6" r="2.4"/><circle cx="171.7" cy="167.5" r="2.4"/><circle cx="197.2" cy="151.4" r="2.4"/><circle cx="168.7" cy="175.4" r="2.4"/><circle cx="175.5" cy="159.0" r="2.4"/><circle cx="166.3" cy="174.7" r="2.4"/><circle cx="196.1" cy="149.5" r="2.4"/><circle cx="179.2" cy="160.5" r="2.4"/><circle cx="182.0" cy="154.0" r="2.4"/><circle cx="194.9" cy="167.3" r="2.4"/><circle cx="173.1" cy="153.6" r="2.4"/><circle cx="163.4" cy="173.8" r="2.4"/><circle cx="176.5" cy="166.4" r="2.4"/><circle cx="179.7" cy="171.0" r="2.4"/><circle cx="176.5" cy="162.7" r="2.4"/><circle cx="165.3" cy="180.3" r="2.4"/><circle cx="178.8" cy="161.1" r="2.4"/><circle cx="176.4" cy="165.7" r="2.4"/><circle cx="185.1" cy="170.4" r="2.4"/><circle cx="172.1" cy="160.4" r="2.4"/><circle cx="177.4" cy="159.3" r="2.4"/><circle cx="180.9" cy="147.0" r="2.4"/><circle cx="169.1" cy="179.8" r="2.4"/><circle cx="163.6" cy="170.5" r="2.4"/><circle cx="177.9" cy="174.1" r="2.4"/><circle cx="177.8" cy="167.7" r="2.4"/><circle cx="172.2" cy="164.2" r="2.4"/><circle cx="181.4" cy="162.5" r="2.4"/><circle cx="191.2" cy="166.2" r="2.4"/><circle cx="173.5" cy="162.4" r="2.4"/><circle cx="180.7" cy="169.1" r="2.4"/><circle cx="182.3" cy="168.7" r="2.4"/><circle cx="187.1" cy="167.7" r="2.4"/><circle cx="193.6" cy="148.2" r="2.4"/><circle cx="173.3" cy="163.1" r="2.4"/><circle cx="189.0" cy="165.4" r="2.4"/><circle cx="185.8" cy="167.6" r="2.4"/><circle cx="177.0" cy="155.5" r="2.4"/><circle cx="189.1" cy="154.3" r="2.4"/><circle cx="176.4" cy="178.9" r="2.4"/><circle cx="175.1" cy="174.4" r="2.4"/><circle cx="184.9" cy="171.2" r="2.4"/><circle cx="178.0" cy="153.9" r="2.4"/><circle cx="168.2" cy="181.6" r="2.4"/><circle cx="179.1" cy="156.2" r="2.4"/><circle cx="174.9" cy="164.0" r="2.4"/><circle cx="161.9" cy="167.4" r="2.4"/><circle cx="174.5" cy="170.2" r="2.4"/><circle cx="181.4" cy="165.7" r="2.4"/><circle cx="182.5" cy="165.4" r="2.4"/><circle cx="185.2" cy="154.1" r="2.4"/><circle cx="170.4" cy="172.0" r="2.4"/><circle cx="167.5" cy="159.5" r="2.4"/><circle cx="180.4" cy="173.0" r="2.4"/><circle cx="181.8" cy="161.4" r="2.4"/><circle cx="170.8" cy="164.2" r="2.4"/><circle cx="178.9" cy="154.7" r="2.4"/><circle cx="182.5" cy="161.5" r="2.4"/><circle cx="188.7" cy="161.3" r="2.4"/><circle cx="175.2" cy="160.9" r="2.4"/><circle cx="185.2" cy="152.2" r="2.4"/><circle cx="183.2" cy="155.9" r="2.4"/><circle cx="173.3" cy="157.1" r="2.4"/><circle cx="168.5" cy="170.6" r="2.4"/><circle cx="182.3" cy="168.6" r="2.4"/><circle cx="169.0" cy="176.4" r="2.4"/><circle cx="174.3" cy="163.7" r="2.4"/><circle cx="196.6" cy="155.5" r="2.4"/><circle cx="182.9" cy="161.5" r="2.4"/><circle cx="180.4" cy="168.5" r="2.4"/><circle cx="166.6" cy="166.4" r="2.4"/><circle cx="178.4" cy="169.1" r="2.4"/><circle cx="174.4" cy="174.4" r="2.4"/><circle cx="187.9" cy="156.1" r="2.4"/><circle cx="180.2" cy="164.9" r="2.4"/><circle cx="176.4" cy="161.5" r="2.4"/><circle cx="183.8" cy="150.5" r="2.4"/><circle cx="181.9" cy="146.9" r="2.4"/><circle cx="189.8" cy="146.7" r="2.4"/><circle cx="185.7" cy="161.0" r="2.4"/><circle cx="175.8" cy="151.7" r="2.4"/><circle cx="169.1" cy="165.0" r="2.4"/><circle cx="191.7" cy="154.2" r="2.4"/><circle cx="178.6" cy="153.3" r="2.4"/><circle cx="186.3" cy="158.5" r="2.4"/><circle cx="198.8" cy="158.0" r="2.4"/><circle cx="186.2" cy="169.0" r="2.4"/><circle cx="182.1" cy="168.3" r="2.4"/><circle cx="179.3" cy="171.6" r="2.4"/><circle cx="181.2" cy="164.2" r="2.4"/><circle cx="192.6" cy="154.7" r="2.4"/><circle cx="189.4" cy="163.5" r="2.4"/><circle cx="187.5" cy="162.8" r="2.4"/><circle cx="177.4" cy="165.6" r="2.4"/><circle cx="174.6" cy="167.3" r="2.4"/><circle cx="197.0" cy="157.5" r="2.4"/><circle cx="183.9" cy="171.0" r="2.4"/><circle cx="162.1" cy="174.4" r="2.4"/><circle cx="187.2" cy="162.7" r="2.4"/><circle cx="177.8" cy="162.0" r="2.4"/><circle cx="182.5" cy="166.4" r="2.4"/><circle cx="177.0" cy="175.4" r="2.4"/><circle cx="184.6" cy="151.8" r="2.4"/><circle cx="180.8" cy="162.2" r="2.4"/><circle cx="175.2" cy="165.5" r="2.4"/><circle cx="185.5" cy="157.7" r="2.4"/><circle cx="180.7" cy="164.6" r="2.4"/><circle cx="180.3" cy="172.1" r="2.4"/><circle cx="172.7" cy="169.0" r="2.4"/><circle cx="169.5" cy="168.8" r="2.4"/><circle cx="175.2" cy="157.2" r="2.4"/><circle cx="175.3" cy="176.1" r="2.4"/><circle cx="194.7" cy="156.1" r="2.4"/><circle cx="179.3" cy="161.7" r="2.4"/><circle cx="171.0" cy="164.1" r="2.4"/><circle cx="185.2" cy="151.5" r="2.4"/><circle cx="180.8" cy="175.5" r="2.4"/><circle cx="184.4" cy="166.1" r="2.4"/><circle cx="181.9" cy="166.9" r="2.4"/><circle cx="166.5" cy="178.9" r="2.4"/><circle cx="183.8" cy="164.5" r="2.4"/><circle cx="183.6" cy="155.2" r="2.4"/><circle cx="186.2" cy="169.8" r="2.4"/><circle cx="188.2" cy="165.7" r="2.4"/><circle cx="174.8" cy="177.7" r="2.4"/><circle cx="170.6" cy="176.6" r="2.4"/><circle cx="186.7" cy="168.0" r="2.4"/><circle cx="184.8" cy="151.5" r="2.4"/><circle cx="165.8" cy="171.0" r="2.4"/><circle cx="170.7" cy="174.2" r="2.4"/><circle cx="166.5" cy="169.0" r="2.4"/><circle cx="181.1" cy="160.7" r="2.4"/><circle cx="182.3" cy="169.2" r="2.4"/><circle cx="162.2" cy="175.1" r="2.4"/><circle cx="171.0" cy="166.0" r="2.4"/><circle cx="190.5" cy="155.8" r="2.4"/><circle cx="168.2" cy="171.6" r="2.4"/><circle cx="187.5" cy="161.5" r="2.4"/><circle cx="171.6" cy="156.6" r="2.4"/><circle cx="188.9" cy="164.1" r="2.4"/><circle cx="170.6" cy="166.9" r="2.4"/><circle cx="196.2" cy="164.7" r="2.4"/><circle cx="185.3" cy="161.2" r="2.4"/><circle cx="182.0" cy="170.4" r="2.4"/><circle cx="181.0" cy="159.3" r="2.4"/><circle cx="181.0" cy="165.0" r="2.4"/><circle cx="193.0" cy="163.1" r="2.4"/><circle cx="197.9" cy="151.4" r="2.4"/><circle cx="189.0" cy="147.5" r="2.4"/><circle cx="169.8" cy="168.7" r="2.4"/><circle cx="183.6" cy="154.9" r="2.4"/><circle cx="165.7" cy="166.0" r="2.4"/><circle cx="169.1" cy="164.0" r="2.4"/><circle cx="185.5" cy="162.8" r="2.4"/><circle cx="182.0" cy="168.6" r="2.4"/><circle cx="166.0" cy="164.6" r="2.4"/><circle cx="186.1" cy="151.3" r="2.4"/><circle cx="172.1" cy="178.6" r="2.4"/><circle cx="176.9" cy="163.5" r="2.4"/><circle cx="186.4" cy="148.8" r="2.4"/><circle cx="181.0" cy="155.1" r="2.4"/><circle cx="170.8" cy="171.7" r="2.4"/><circle cx="173.3" cy="172.4" r="2.4"/><circle cx="183.9" cy="164.1" r="2.4"/><circle cx="173.5" cy="159.1" r="2.4"/><circle cx="187.4" cy="158.8" r="2.4"/><circle cx="179.6" cy="158.6" r="2.4"/><circle cx="177.9" cy="156.8" r="2.4"/><circle cx="165.2" cy="170.4" r="2.4"/><circle cx="193.2" cy="156.0" r="2.4"/><circle cx="189.6" cy="157.1" r="2.4"/><circle cx="195.3" cy="150.3" r="2.4"/><circle cx="179.1" cy="171.3" r="2.4"/><circle cx="176.2" cy="161.3" r="2.4"/><circle cx="191.4" cy="157.8" r="2.4"/><circle cx="180.5" cy="171.5" r="2.4"/><circle cx="172.1" cy="170.8" r="2.4"/><circle cx="180.6" cy="154.9" r="2.4"/><circle cx="178.9" cy="173.7" r="2.4"/><circle cx="198.8" cy="145.4" r="2.4"/><circle cx="174.7" cy="166.0" r="2.4"/><circle cx="175.8" cy="160.3" r="2.4"/><circle cx="192.0" cy="161.7" r="2.4"/><circle cx="172.2" cy="163.8" r="2.4"/><circle cx="173.4" cy="161.7" r="2.4"/><circle cx="160.4" cy="167.6" r="2.4"/><circle cx="191.5" cy="165.4" r="2.4"/><circle cx="197.7" cy="155.1" r="2.4"/><circle cx="181.5" cy="159.5" r="2.4"/><circle cx="181.3" cy="155.6" r="2.4"/><circle cx="171.3" cy="175.4" r="2.4"/><circle cx="184.4" cy="166.7" r="2.4"/><circle cx="169.4" cy="155.1" r="2.4"/><circle cx="188.1" cy="146.6" r="2.4"/><circle cx="175.9" cy="162.4" r="2.4"/><circle cx="178.3" cy="149.0" r="2.4"/><circle cx="198.0" cy="148.0" r="2.4"/><circle cx="179.2" cy="169.9" r="2.4"/><circle cx="176.9" cy="161.7" r="2.4"/><circle cx="183.5" cy="159.7" r="2.4"/><circle cx="174.0" cy="173.4" r="2.4"/><circle cx="179.9" cy="153.9" r="2.4"/><circle cx="189.6" cy="156.7" r="2.4"/><circle cx="182.6" cy="149.6" r="2.4"/><circle cx="176.5" cy="174.6" r="2.4"/><circle cx="180.6" cy="156.2" r="2.4"/><circle cx="166.4" cy="175.9" r="2.4"/><circle cx="193.9" cy="156.2" r="2.4"/><circle cx="189.8" cy="152.8" r="2.4"/><circle cx="184.8" cy="148.8" r="2.4"/><circle cx="183.5" cy="164.0" r="2.4"/><circle cx="164.0" cy="160.5" r="2.4"/><circle cx="179.7" cy="166.8" r="2.4"/><circle cx="179.3" cy="177.8" r="2.4"/><circle cx="172.2" cy="166.9" r="2.4"/><circle cx="177.5" cy="171.4" r="2.4"/><circle cx="182.4" cy="156.5" r="2.4"/><circle cx="173.0" cy="166.3" r="2.4"/><circle cx="164.0" cy="169.7" r="2.4"/><circle cx="169.6" cy="175.0" r="2.4"/><circle cx="183.3" cy="163.2" r="2.4"/><circle cx="187.2" cy="167.0" r="2.4"/><circle cx="189.6" cy="165.1" r="2.4"/><circle cx="184.1" cy="154.3" r="2.4"/><circle cx="169.8" cy="163.8" r="2.4"/><circle cx="174.8" cy="168.3" r="2.4"/><circle cx="182.1" cy="175.9" r="2.4"/><circle cx="196.5" cy="165.1" r="2.4"/><circle cx="174.4" cy="163.2" r="2.4"/><circle cx="188.5" cy="168.5" r="2.4"/><circle cx="168.7" cy="167.0" r="2.4"/><circle cx="170.3" cy="164.8" r="2.4"/><circle cx="160.3" cy="181.8" r="2.4"/><circle cx="191.2" cy="158.0" r="2.4"/><circle cx="180.0" cy="171.0" r="2.4"/><circle cx="199.3" cy="156.6" r="2.4"/><circle cx="170.4" cy="174.2" r="2.4"/><circle cx="165.9" cy="157.2" r="2.4"/><circle cx="186.9" cy="163.5" r="2.4"/><circle cx="185.0" cy="155.1" r="2.4"/><circle cx="183.4" cy="160.1" r="2.4"/><circle cx="190.8" cy="163.0" r="2.4"/><circle cx="167.4" cy="177.7" r="2.4"/><circle cx="163.2" cy="171.8" r="2.4"/><circle cx="183.4" cy="156.6" r="2.4"/><circle cx="177.7" cy="175.9" r="2.4"/><circle cx="193.2" cy="163.3" r="2.4"/><circle cx="184.0" cy="160.2" r="2.4"/><circle cx="188.4" cy="154.6" r="2.4"/><circle cx="183.7" cy="164.3" r="2.4"/><circle cx="183.0" cy="150.9" r="2.4"/><circle cx="165.2" cy="170.0" r="2.4"/><circle cx="190.7" cy="166.0" r="2.4"/><circle cx="165.6" cy="162.1" r="2.4"/><circle cx="179.3" cy="172.2" r="2.4"/><circle cx="182.0" cy="170.8" r="2.4"/><circle cx="186.0" cy="161.2" r="2.4"/><circle cx="163.0" cy="166.1" r="2.4"/><circle cx="189.2" cy="162.0" r="2.4"/><circle cx="197.6" cy="147.1" r="2.4"/><circle cx="185.0" cy="156.8" r="2.4"/><circle cx="190.8" cy="147.5" r="2.4"/><circle cx="172.2" cy="163.6" r="2.4"/><circle cx="174.4" cy="166.5" r="2.4"/><circle cx="169.3" cy="175.8" r="2.4"/><circle cx="167.6" cy="162.7" r="2.4"/><circle cx="183.6" cy="162.4" r="2.4"/><circle cx="184.6" cy="152.8" r="2.4"/><circle cx="185.0" cy="151.5" r="2.4"/><circle cx="188.9" cy="156.1" r="2.4"/><circle cx="179.1" cy="161.5" r="2.4"/><circle cx="177.4" cy="162.0" r="2.4"/><circle cx="170.3" cy="172.8" r="2.4"/><circle cx="178.0" cy="174.5" r="2.4"/><circle cx="173.6" cy="172.7" r="2.4"/><circle cx="185.3" cy="171.2" r="2.4"/><circle cx="182.0" cy="170.6" r="2.4"/><circle cx="169.1" cy="170.9" r="2.4"/><circle cx="191.6" cy="149.7" r="2.4"/><circle cx="176.0" cy="170.1" r="2.4"/><circle cx="171.9" cy="169.6" r="2.4"/><circle cx="169.2" cy="158.1" r="2.4"/><circle cx="185.8" cy="157.8" r="2.4"/><circle cx="190.9" cy="152.4" r="2.4"/><circle cx="164.8" cy="166.8" r="2.4"/><circle cx="171.1" cy="164.1" r="2.4"/><circle cx="191.4" cy="148.0" r="2.4"/><circle cx="185.8" cy="158.9" r="2.4"/><circle cx="178.5" cy="161.9" r="2.4"/><circle cx="190.0" cy="155.9" r="2.4"/><circle cx="170.7" cy="174.2" r="2.4"/><circle cx="169.7" cy="155.6" r="2.4"/><circle cx="191.7" cy="151.0" r="2.4"/><circle cx="189.8" cy="156.1" r="2.4"/><circle cx="164.1" cy="168.4" r="2.4"/><circle cx="173.7" cy="154.5" r="2.4"/><circle cx="178.4" cy="167.4" r="2.4"/><circle cx="184.7" cy="160.0" r="2.4"/><circle cx="180.2" cy="170.1" r="2.4"/><circle cx="181.2" cy="158.7" r="2.4"/><circle cx="170.9" cy="172.3" r="2.4"/><circle cx="184.7" cy="171.5" r="2.4"/><circle cx="190.8" cy="160.4" r="2.4"/><circle cx="178.1" cy="147.7" r="2.4"/><circle cx="193.7" cy="148.5" r="2.4"/><circle cx="174.8" cy="169.6" r="2.4"/><circle cx="193.7" cy="154.6" r="2.4"/><circle cx="180.1" cy="154.2" r="2.4"/><circle cx="171.7" cy="175.3" r="2.4"/><circle cx="185.0" cy="158.0" r="2.4"/><circle cx="180.7" cy="166.5" r="2.4"/><circle cx="170.1" cy="155.6" r="2.4"/><circle cx="179.8" cy="162.0" r="2.4"/><circle cx="186.7" cy="168.5" r="2.4"/><circle cx="177.4" cy="163.7" r="2.4"/><circle cx="170.1" cy="168.9" r="2.4"/><circle cx="179.1" cy="160.1" r="2.4"/></g>
</g>
<line x1="180.1" y1="36" x2="180.1" y2="290" stroke="#6a58c4" stroke-width="0.85" stroke-dasharray="3 2.9" style="mix-blend-mode:multiply"/>
<line x1="41" y1="162.4" x2="320.5" y2="162.4" stroke="#9446ac" stroke-width="0.85" stroke-dasharray="3.2 2.9" style="mix-blend-mode:multiply"/>
<rect x="40" y="35.4" width="280.5" height="255" fill="none" stroke="#000" stroke-width="1.35"/>
<line x1="50.5" y1="290.4" x2="50.5" y2="294" stroke="#000" stroke-width="1"/><line x1="36.3" y1="280.6" x2="40" y2="280.6" stroke="#000" stroke-width="1"/><line x1="93.6" y1="290.4" x2="93.6" y2="294" stroke="#000" stroke-width="1"/><line x1="36.3" y1="241.5" x2="40" y2="241.5" stroke="#000" stroke-width="1"/><line x1="136.6" y1="290.4" x2="136.6" y2="294" stroke="#000" stroke-width="1"/><line x1="36.3" y1="202.3" x2="40" y2="202.3" stroke="#000" stroke-width="1"/><line x1="179.7" y1="290.4" x2="179.7" y2="294" stroke="#000" stroke-width="1"/><line x1="36.3" y1="163.2" x2="40" y2="163.2" stroke="#000" stroke-width="1"/><line x1="222.8" y1="290.4" x2="222.8" y2="294" stroke="#000" stroke-width="1"/><line x1="36.3" y1="124.1" x2="40" y2="124.1" stroke="#000" stroke-width="1"/><line x1="265.8" y1="290.4" x2="265.8" y2="294" stroke="#000" stroke-width="1"/><line x1="36.3" y1="84.9" x2="40" y2="84.9" stroke="#000" stroke-width="1"/><line x1="308.9" y1="290.4" x2="308.9" y2="294" stroke="#000" stroke-width="1"/><line x1="36.3" y1="45.8" x2="40" y2="45.8" stroke="#000" stroke-width="1"/>
<g font-size="8.5" fill="#1a1a1a"><text x="50.2" y="305.0" text-anchor="middle">−6</text><text x="32.5" y="283.8" text-anchor="end">−6</text><text x="93.3" y="305.0" text-anchor="middle">−4</text><text x="32.5" y="244.7" text-anchor="end">−4</text><text x="136.3" y="305.0" text-anchor="middle">−2</text><text x="32.5" y="205.5" text-anchor="end">−2</text><text x="179.7" y="305.0" text-anchor="middle">0</text><text x="32.5" y="166.4" text-anchor="end">0</text><text x="222.8" y="305.0" text-anchor="middle">2</text><text x="32.5" y="127.3" text-anchor="end">2</text><text x="265.8" y="305.0" text-anchor="middle">4</text><text x="32.5" y="88.1" text-anchor="end">4</text><text x="308.9" y="305.0" text-anchor="middle">6</text><text x="32.5" y="49.0" text-anchor="end">6</text></g>
<line x1="133" y1="205" x2="320.5" y2="36.8" stroke="#000" stroke-width="2.0"/>
<line x1="336" y1="23" x2="266" y2="85.8" stroke="#000" stroke-width="2.3"/>
<polygon points="261.5,91 267.6,78.6 268.6,84.6 274.8,86.6" fill="#000"/>
<line x1="347" y1="25.6" x2="404" y2="72.8" stroke="#000" stroke-width="2.3"/>
<polygon points="410.7,78.2 396.6,74.0 403.3,72.2 403.9,65.2" fill="#000"/>
<line x1="421.6" y1="306.6" x2="421.6" y2="277" stroke="#000" stroke-width="1.5"/>
<polygon points="421.6,268.3 426.3,280.3 421.6,278.2 416.9,280.3" fill="#000"/>
<g font-size="8.3" fill="#1c1c1c"><text x="213.8" y="48.2">ZNF462</text><text x="185.0" y="58.1">SGK1</text><text x="173.4" y="69.7">RGS1</text><text x="253.1" y="60.8">FOS</text><text x="257.7" y="69.7">JUN</text><text x="255.1" y="104.8">GZMA</text><text x="245.2" y="114.6">TNFAIP3</text><text x="236.2" y="135.7">NFKBIA</text><text x="216.6" y="146.5">KLF6</text></g>
<line x1="229.2" y1="50.5" x2="229.2" y2="61.4" stroke="#000" stroke-width="1.45"/><polygon points="229.2,66.4 226.9,60.2 229.2,61.4 231.5,60.2" fill="#000"/>
<line x1="197.7" y1="60.0" x2="214.2" y2="81.2" stroke="#000" stroke-width="1.45"/><polygon points="217.2,85.1 211.6,81.6 214.2,81.2 215.2,78.8" fill="#000"/>
<line x1="197.4" y1="66.6" x2="217.0" y2="88.6" stroke="#000" stroke-width="1.45"/><polygon points="220.3,92.3 214.5,89.2 217.0,88.6 217.9,86.1" fill="#000"/>
<line x1="252.0" y1="62.3" x2="229.4" y2="78.6" stroke="#000" stroke-width="1.45"/><polygon points="225.4,81.5 229.1,76.0 229.4,78.6 231.8,79.7" fill="#000"/>
<line x1="256.6" y1="67.4" x2="234.6" y2="82.9" stroke="#000" stroke-width="1.45"/><polygon points="230.5,85.7 234.3,80.3 234.6,82.9 236.9,84.0" fill="#000"/>
<line x1="254.2" y1="100.8" x2="246.8" y2="91.1" stroke="#000" stroke-width="1.45"/><polygon points="243.8,87.2 249.4,90.7 246.8,91.1 245.7,93.5" fill="#000"/>
<line x1="250.8" y1="106.6" x2="239.7" y2="92.4" stroke="#000" stroke-width="1.45"/><polygon points="236.6,88.5 242.2,92.0 239.7,92.4 238.6,94.8" fill="#000"/>
<line x1="235.7" y1="130.3" x2="228.5" y2="121.3" stroke="#000" stroke-width="1.45"/><polygon points="225.4,117.4 231.1,120.8 228.5,121.3 227.5,123.7" fill="#000"/>
<line x1="220.5" y1="139.5" x2="215.9" y2="133.0" stroke="#000" stroke-width="1.45"/><polygon points="213.1,128.9 218.5,132.7 215.9,133.0 214.8,135.3" fill="#000"/>
<g font-size="9.6" fill="#111" stroke="#111" stroke-width="0.25"><text transform="translate(103.8,319.1) scale(0.74,1)" x="0" y="0">PB naive</text><text transform="translate(207.6,319.1) scale(0.73,1)" x="0" y="0">post-CBT naive</text></g>
<line x1="136.0" y1="316.1" x2="194.2" y2="316.1" stroke="#000" stroke-width="1.30"/><polygon points="203.7,316.1 191.5,320.9 194.2,316.1 191.5,311.3" fill="#000"/>
<g font-size="9.6" fill="#111" stroke="#111" stroke-width="0.25"><text transform="translate(17.2,239.0) rotate(-90) scale(0.74,1)">PB naive</text><text transform="translate(17.2,137.3) rotate(-90) scale(0.74,1)">post-CBT naive</text></g>
<line x1="13.5" y1="207.0" x2="13.5" y2="148.5" stroke="#000" stroke-width="1.30"/><polygon points="13.5,139.0 18.3,151.2 13.5,148.5 8.7,151.2" fill="#000"/>
<g font-weight="bold" fill="#000" stroke="#000" stroke-width="0.6" font-size="12.4"><text x="9.2" y="21">A</text><text x="450.8" y="21.3">B</text><text x="9.5" y="328">C</text></g>
<g font-weight="bold" fill="#000" stroke="#000" stroke-width="0.3"><text x="292.5" y="17" font-size="10.4">Lymphopenic signature</text><text x="386" y="319.1" font-size="10.65">Fetal signature</text></g>
<ellipse cx="425.2" cy="169.3" rx="87.2" ry="109.8" fill="none" stroke="#30323f" stroke-width="1.4"/>
<ellipse cx="427" cy="109.3" rx="61.2" ry="49.8" fill="none" stroke="#30323f" stroke-width="1.4"/>
<g font-size="5.9" text-anchor="middle" fill="#17330d" stroke="#17330d" stroke-width="0.16"><rect x="412.0" y="67.0" width="23.5" height="8.8" fill="#62a042"/><rect x="375.8" y="83.0" width="21.8" height="8.2" fill="#62a042"/><rect x="401.2" y="81.0" width="23.2" height="8.2" fill="#62a042"/><rect x="427.5" y="81.0" width="21.0" height="8.0" fill="#62a042"/><rect x="451.2" y="82.5" width="25.8" height="8.8" fill="#62a042"/><rect x="370.8" y="95.5" width="26.8" height="8.2" fill="#62a042"/><rect x="410.5" y="94.2" width="31.2" height="8.2" fill="#62a042"/><rect x="452.5" y="96.8" width="27.0" height="8.5" fill="#62a042"/><rect x="369.2" y="109.2" width="33.2" height="9.0" fill="#62a042"/><rect x="454.0" y="110.0" width="26.0" height="8.8" fill="#62a042"/><rect x="373.8" y="122.0" width="20.8" height="8.0" fill="#62a042"/><rect x="397.5" y="123.2" width="20.0" height="8.5" fill="#62a042"/><rect x="421.2" y="122.5" width="25.5" height="8.8" fill="#62a042"/><rect x="451.2" y="123.8" width="26.2" height="8.2" fill="#62a042"/><rect x="389.5" y="136.8" width="22.5" height="8.8" fill="#62a042"/><rect x="417.0" y="136.2" width="21.0" height="8.8" fill="#62a042"/><rect x="443.0" y="136.2" width="20.0" height="8.8" fill="#62a042"/><text x="423.8" y="73.5">DACT1</text><text x="386.6" y="89.3">KLF6</text><text x="412.9" y="87.3">CD69</text><text x="438.0" y="87.2">GZMA</text><text x="464.1" y="89.0">NFKBIA</text><text x="384.1" y="101.8">PMAIP1</text><text x="426.1" y="100.5">SERPINF1</text><text x="466.0" y="103.2">ZNF204P</text><text x="385.9" y="115.9">PPP1R15A</text><text x="467.0" y="116.5">TNFAIP3</text><text x="384.1" y="128.2">SGK1</text><text x="407.5" y="129.7">RGS1</text><text x="434.0" y="129.0">ZNF462</text><text x="464.4" y="130.0">PDE6G</text><text x="400.8" y="143.3">DUSP1</text><text x="427.5" y="142.8">YARS</text><text x="453.0" y="142.8">YBX3</text></g>
<g font-size="5.9" text-anchor="middle" fill="#fff" stroke="#fff" stroke-width="0.16"><rect x="404.0" y="110.0" width="20.5" height="8.0" fill="#a5102e"/><rect x="429.0" y="110.0" width="21.0" height="8.0" fill="#a5102e"/><text x="414.2" y="116.2">FOS</text><text x="439.5" y="116.2">JUN</text></g>
<g font-size="5.9" text-anchor="middle" fill="#261c03" stroke="#261c03" stroke-width="0.16"><rect x="478.0" y="140.5" width="25.8" height="8.8" fill="#e8b92a"/><rect x="345.5" y="135.5" width="24.0" height="8.5" fill="#e8b92a"/><rect x="344.0" y="150.0" width="19.8" height="8.8" fill="#e8b92a"/><rect x="369.2" y="153.0" width="23.2" height="8.2" fill="#e8b92a"/><rect x="401.2" y="161.8" width="20.2" height="8.2" fill="#e8b92a"/><rect x="428.8" y="162.5" width="26.8" height="8.0" fill="#e8b92a"/><rect x="458.0" y="155.0" width="27.0" height="8.8" fill="#e8b92a"/><rect x="343.0" y="166.2" width="28.2" height="8.8" fill="#e8b92a"/><rect x="375.8" y="170.8" width="24.2" height="8.8" fill="#e8b92a"/><rect x="407.0" y="176.2" width="26.8" height="8.2" fill="#e8b92a"/><rect x="443.8" y="175.5" width="24.5" height="8.8" fill="#e8b92a"/><rect x="476.2" y="167.0" width="31.8" height="9.2" fill="#e8b92a"/><rect x="343.8" y="182.0" width="20.2" height="8.5" fill="#e8b92a"/><rect x="369.2" y="186.2" width="32.8" height="8.8" fill="#e8b92a"/><rect x="409.0" y="187.5" width="19.8" height="8.2" fill="#e8b92a"/><rect x="436.2" y="189.5" width="20.0" height="8.5" fill="#e8b92a"/><rect x="480.5" y="181.2" width="22.5" height="8.8" fill="#e8b92a"/><rect x="458.8" y="190.5" width="26.2" height="8.8" fill="#e8b92a"/><rect x="347.0" y="199.5" width="24.2" height="8.5" fill="#e8b92a"/><rect x="377.0" y="202.0" width="23.5" height="8.5" fill="#e8b92a"/><rect x="406.2" y="199.0" width="21.8" height="8.5" fill="#e8b92a"/><rect x="432.0" y="202.5" width="22.5" height="8.5" fill="#e8b92a"/><rect x="349.2" y="211.2" width="22.0" height="8.2" fill="#e8b92a"/><rect x="374.2" y="214.2" width="23.2" height="8.5" fill="#e8b92a"/><rect x="400.8" y="213.2" width="28.5" height="8.5" fill="#e8b92a"/><rect x="432.5" y="215.0" width="21.2" height="8.8" fill="#e8b92a"/><rect x="356.2" y="227.0" width="26.2" height="8.5" fill="#e8b92a"/><rect x="388.8" y="227.5" width="26.2" height="8.5" fill="#e8b92a"/><rect x="418.8" y="226.8" width="23.0" height="8.2" fill="#e8b92a"/><rect x="365.5" y="238.2" width="24.0" height="8.5" fill="#e8b92a"/><rect x="400.5" y="240.0" width="33.2" height="8.8" fill="#e8b92a"/><rect x="379.5" y="250.5" width="23.5" height="8.5" fill="#e8b92a"/><rect x="409.5" y="250.8" width="28.5" height="8.5" fill="#e8b92a"/><rect x="392.0" y="261.8" width="24.2" height="8.2" fill="#e8b92a"/><rect x="426.2" y="262.0" width="25.5" height="8.5" fill="#e8b92a"/><rect x="479.5" y="203.8" width="20.5" height="8.2" fill="#e8b92a"/><rect x="457.0" y="208.0" width="22.0" height="8.5" fill="#e8b92a"/><rect x="457.0" y="220.5" width="24.2" height="8.8" fill="#e8b92a"/><rect x="446.8" y="231.2" width="19.0" height="8.8" fill="#e8b92a"/><rect x="468.2" y="232.0" width="19.8" height="8.8" fill="#e8b92a"/><rect x="440.5" y="244.2" width="21.5" height="8.5" fill="#e8b92a"/><text x="490.9" y="147.0">HILPDA</text><text x="357.5" y="141.9">AUTS2</text><text x="353.9" y="156.5">CD38</text><text x="380.9" y="159.3">CKS2</text><text x="411.4" y="168.0">BEX5</text><text x="442.1" y="168.7">ABCD2</text><text x="471.5" y="161.5">BCL11A</text><text x="357.1" y="172.8">CACHD1</text><text x="387.9" y="177.3">DDIT4</text><text x="420.4" y="182.5">DACH1</text><text x="456.0" y="182.0">EPHA4</text><text x="492.1" y="173.8">HLA-DPA1</text><text x="353.9" y="188.4">GBP5</text><text x="385.6" y="192.8">ERVH48-1</text><text x="418.9" y="193.8">IER2</text><text x="446.2" y="195.9">MID2</text><text x="491.8" y="187.8">HPGD</text><text x="471.9" y="197.0">MICAL2</text><text x="359.1" y="205.9">KLRG1</text><text x="388.8" y="208.4">DAPK1</text><text x="417.1" y="205.4">LDB2</text><text x="443.2" y="208.9">RAB25</text><text x="360.2" y="217.5">MCTP1</text><text x="385.9" y="220.7">ITPRIP</text><text x="415.0" y="219.7">SLC18A2</text><text x="443.1" y="221.5">NREP</text><text x="369.4" y="233.4">RNF130</text><text x="401.9" y="233.9">RNASE6</text><text x="430.2" y="233.0">NR3C2</text><text x="377.5" y="244.7">SOX4</text><text x="417.1" y="246.5">SERPINB6</text><text x="391.2" y="256.9">TSHZ2</text><text x="423.8" y="257.1">TGFBR3</text><text x="404.1" y="268.0">RNF175</text><text x="439.0" y="268.4">ZBTB38</text><text x="489.8" y="210.0">MT1F</text><text x="468.0" y="214.4">RBM11</text><text x="469.1" y="227.0">SEPT11</text><text x="456.2" y="237.8">TNF</text><text x="478.1" y="238.5">TBK1</text><text x="451.2" y="250.7">ZNF14</text></g>
<line x1="43.50" y1="510.2" x2="43.50" y2="515.9" stroke="#111" stroke-width="1.15"/><line x1="42.10" y1="510.6" x2="44.90" y2="510.6" stroke="#111" stroke-width="1.1"/><rect x="41.10" y="515.9" width="5.05" height="53.1" fill="#c8c6c9"/><rect x="47.80" y="451.5" width="5.05" height="117.5" fill="#2b4a82"/><rect x="54.51" y="523.8" width="5.05" height="45.2" fill="#a8102e"/><line x1="63.50" y1="489.9" x2="63.50" y2="502.3" stroke="#111" stroke-width="1.15"/><line x1="62.10" y1="490.3" x2="64.90" y2="490.3" stroke="#111" stroke-width="1.1"/><rect x="61.22" y="502.3" width="5.05" height="66.7" fill="#c8c6c9"/><rect x="67.92" y="502.3" width="5.05" height="66.7" fill="#2b4a82"/><rect x="74.62" y="509.1" width="5.05" height="59.9" fill="#a8102e"/><line x1="83.50" y1="487.6" x2="83.50" y2="505.7" stroke="#111" stroke-width="1.15"/><line x1="82.10" y1="488.0" x2="84.90" y2="488.0" stroke="#111" stroke-width="1.1"/><rect x="81.33" y="505.7" width="5.05" height="63.3" fill="#c8c6c9"/><rect x="88.03" y="461.6" width="5.05" height="107.4" fill="#2b4a82"/><rect x="94.74" y="498.9" width="5.05" height="70.1" fill="#a8102e"/><line x1="103.50" y1="465.0" x2="103.50" y2="487.6" stroke="#111" stroke-width="1.15"/><line x1="102.10" y1="465.4" x2="104.90" y2="465.4" stroke="#111" stroke-width="1.1"/><rect x="101.44" y="487.6" width="5.05" height="81.4" fill="#c8c6c9"/><rect x="108.15" y="449.2" width="5.05" height="119.8" fill="#2b4a82"/><rect x="114.85" y="476.3" width="5.05" height="92.7" fill="#a8102e"/><line x1="124.50" y1="491.0" x2="124.50" y2="502.3" stroke="#111" stroke-width="1.15"/><line x1="123.10" y1="491.4" x2="125.90" y2="491.4" stroke="#111" stroke-width="1.1"/><rect x="121.56" y="502.3" width="5.05" height="66.7" fill="#c8c6c9"/><rect x="128.27" y="482.0" width="5.05" height="87.0" fill="#2b4a82"/><rect x="134.97" y="508.0" width="5.05" height="61.0" fill="#a8102e"/><line x1="144.50" y1="459.4" x2="144.50" y2="479.7" stroke="#111" stroke-width="1.15"/><line x1="143.10" y1="459.8" x2="145.90" y2="459.8" stroke="#111" stroke-width="1.1"/><rect x="141.68" y="479.7" width="5.05" height="89.3" fill="#c8c6c9"/><rect x="148.38" y="429.6" width="5.05" height="139.4" fill="#2b4a82"/><rect x="155.09" y="494.4" width="5.05" height="74.6" fill="#a8102e"/><line x1="164.50" y1="464.4" x2="164.50" y2="481.3" stroke="#111" stroke-width="1.15"/><line x1="163.10" y1="464.8" x2="165.90" y2="464.8" stroke="#111" stroke-width="1.1"/><rect x="161.79" y="481.3" width="5.05" height="87.7" fill="#c8c6c9"/><rect x="168.50" y="395.4" width="5.05" height="173.6" fill="#2b4a82"/><rect x="175.20" y="467.5" width="5.05" height="101.5" fill="#a8102e"/><line x1="184.50" y1="452.6" x2="184.50" y2="474.5" stroke="#111" stroke-width="1.15"/><line x1="183.10" y1="453.0" x2="185.90" y2="453.0" stroke="#111" stroke-width="1.1"/><rect x="181.91" y="474.5" width="5.05" height="94.5" fill="#c8c6c9"/><rect x="188.61" y="479.1" width="5.05" height="89.9" fill="#2b4a82"/><rect x="195.31" y="518.1" width="5.05" height="50.9" fill="#a8102e"/><line x1="204.50" y1="469.6" x2="204.50" y2="480.4" stroke="#111" stroke-width="1.15"/><line x1="203.10" y1="470.0" x2="205.90" y2="470.0" stroke="#111" stroke-width="1.1"/><rect x="202.02" y="480.4" width="5.05" height="88.6" fill="#c8c6c9"/><rect x="208.72" y="357.0" width="5.05" height="212.0" fill="#2b4a82"/><rect x="215.43" y="466.8" width="5.05" height="102.2" fill="#a8102e"/><line x1="224.50" y1="420.1" x2="224.50" y2="473.2" stroke="#111" stroke-width="1.15"/><line x1="223.10" y1="420.5" x2="225.90" y2="420.5" stroke="#111" stroke-width="1.1"/><rect x="222.13" y="473.2" width="5.05" height="95.8" fill="#c8c6c9"/><rect x="228.84" y="415.8" width="5.05" height="153.2" fill="#2b4a82"/><rect x="235.54" y="478.1" width="5.05" height="90.9" fill="#a8102e"/><line x1="244.50" y1="418.3" x2="244.50" y2="449.9" stroke="#111" stroke-width="1.15"/><line x1="243.10" y1="418.7" x2="245.90" y2="418.7" stroke="#111" stroke-width="1.1"/><rect x="242.25" y="449.9" width="5.05" height="119.1" fill="#c8c6c9"/><rect x="248.95" y="401.8" width="5.05" height="167.2" fill="#2b4a82"/><rect x="255.66" y="489.4" width="5.05" height="79.6" fill="#a8102e"/><line x1="264.50" y1="451.5" x2="264.50" y2="465.7" stroke="#111" stroke-width="1.15"/><line x1="263.10" y1="451.9" x2="265.90" y2="451.9" stroke="#111" stroke-width="1.1"/><rect x="262.37" y="465.7" width="5.05" height="103.3" fill="#c8c6c9"/><rect x="269.07" y="392.7" width="5.05" height="176.3" fill="#2b4a82"/><rect x="275.78" y="487.6" width="5.05" height="81.4" fill="#a8102e"/><line x1="285.50" y1="411.3" x2="285.50" y2="453.1" stroke="#111" stroke-width="1.15"/><line x1="284.10" y1="411.7" x2="286.90" y2="411.7" stroke="#111" stroke-width="1.1"/><rect x="282.48" y="453.1" width="5.05" height="115.9" fill="#c8c6c9"/><rect x="289.19" y="469.6" width="5.05" height="99.4" fill="#2b4a82"/><rect x="295.89" y="519.5" width="5.05" height="49.5" fill="#a8102e"/><line x1="305.50" y1="389.6" x2="305.50" y2="447.0" stroke="#111" stroke-width="1.15"/><line x1="304.10" y1="390.0" x2="306.90" y2="390.0" stroke="#111" stroke-width="1.1"/><rect x="302.60" y="447.0" width="5.05" height="122.0" fill="#c8c6c9"/><rect x="309.30" y="385.9" width="5.05" height="183.1" fill="#2b4a82"/><rect x="316.01" y="480.9" width="5.05" height="88.1" fill="#a8102e"/><line x1="325.50" y1="398.8" x2="325.50" y2="443.8" stroke="#111" stroke-width="1.15"/><line x1="324.10" y1="399.2" x2="326.90" y2="399.2" stroke="#111" stroke-width="1.1"/><rect x="322.71" y="443.8" width="5.05" height="125.2" fill="#c8c6c9"/><rect x="329.42" y="411.3" width="5.05" height="157.7" fill="#2b4a82"/><rect x="336.12" y="478.8" width="5.05" height="90.2" fill="#a8102e"/><line x1="345.50" y1="440.4" x2="345.50" y2="468.7" stroke="#111" stroke-width="1.15"/><line x1="344.10" y1="440.8" x2="346.90" y2="440.8" stroke="#111" stroke-width="1.1"/><rect x="342.83" y="468.7" width="5.05" height="100.3" fill="#c8c6c9"/><rect x="349.53" y="456.0" width="5.05" height="113.0" fill="#2b4a82"/><rect x="356.24" y="519.5" width="5.05" height="49.5" fill="#a8102e"/><line x1="365.50" y1="377.8" x2="365.50" y2="409.2" stroke="#111" stroke-width="1.15"/><line x1="364.10" y1="378.2" x2="366.90" y2="378.2" stroke="#111" stroke-width="1.1"/><rect x="362.94" y="409.2" width="5.05" height="159.8" fill="#c8c6c9"/><rect x="369.65" y="424.8" width="5.05" height="144.2" fill="#2b4a82"/><rect x="376.35" y="481.3" width="5.05" height="87.7" fill="#a8102e"/><line x1="385.50" y1="385.7" x2="385.50" y2="425.7" stroke="#111" stroke-width="1.15"/><line x1="384.10" y1="386.1" x2="386.90" y2="386.1" stroke="#111" stroke-width="1.1"/><rect x="383.06" y="425.7" width="5.05" height="143.3" fill="#c8c6c9"/><rect x="389.76" y="388.2" width="5.05" height="180.8" fill="#2b4a82"/><rect x="396.47" y="442.4" width="5.05" height="126.6" fill="#a8102e"/>
<line x1="43.62" y1="569" x2="43.62" y2="572.6" stroke="#000" stroke-width="1.2"/><line x1="50.33" y1="569" x2="50.33" y2="572.6" stroke="#000" stroke-width="1.2"/><line x1="57.04" y1="569" x2="57.04" y2="572.6" stroke="#000" stroke-width="1.2"/><line x1="63.74" y1="569" x2="63.74" y2="572.6" stroke="#000" stroke-width="1.2"/><line x1="70.45" y1="569" x2="70.45" y2="572.6" stroke="#000" stroke-width="1.2"/><line x1="77.15" y1="569" x2="77.15" y2="572.6" stroke="#000" stroke-width="1.2"/><line x1="83.86" y1="569" x2="83.86" y2="572.6" stroke="#000" stroke-width="1.2"/><line x1="90.56" y1="569" x2="90.56" y2="572.6" stroke="#000" stroke-width="1.2"/><line x1="97.27" y1="569" x2="97.27" y2="572.6" stroke="#000" stroke-width="1.2"/><line x1="103.97" y1="569" x2="103.97" y2="572.6" stroke="#000" stroke-width="1.2"/><line x1="110.68" y1="569" x2="110.68" y2="572.6" stroke="#000" stroke-width="1.2"/><line x1="117.38" y1="569" x2="117.38" y2="572.6" stroke="#000" stroke-width="1.2"/><line x1="124.09" y1="569" x2="124.09" y2="572.6" stroke="#000" stroke-width="1.2"/><line x1="130.79" y1="569" x2="130.79" y2="572.6" stroke="#000" stroke-width="1.2"/><line x1="137.50" y1="569" x2="137.50" y2="572.6" stroke="#000" stroke-width="1.2"/><line x1="144.20" y1="569" x2="144.20" y2="572.6" stroke="#000" stroke-width="1.2"/><line x1="150.91" y1="569" x2="150.91" y2="572.6" stroke="#000" stroke-width="1.2"/><line x1="157.61" y1="569" x2="157.61" y2="572.6" stroke="#000" stroke-width="1.2"/><line x1="164.31" y1="569" x2="164.31" y2="572.6" stroke="#000" stroke-width="1.2"/><line x1="171.02" y1="569" x2="171.02" y2="572.6" stroke="#000" stroke-width="1.2"/><line x1="177.72" y1="569" x2="177.72" y2="572.6" stroke="#000" stroke-width="1.2"/><line x1="184.43" y1="569" x2="184.43" y2="572.6" stroke="#000" stroke-width="1.2"/><line x1="191.13" y1="569" x2="191.13" y2="572.6" stroke="#000" stroke-width="1.2"/><line x1="197.84" y1="569" x2="197.84" y2="572.6" stroke="#000" stroke-width="1.2"/><line x1="204.55" y1="569" x2="204.55" y2="572.6" stroke="#000" stroke-width="1.2"/><line x1="211.25" y1="569" x2="211.25" y2="572.6" stroke="#000" stroke-width="1.2"/><line x1="217.96" y1="569" x2="217.96" y2="572.6" stroke="#000" stroke-width="1.2"/><line x1="224.66" y1="569" x2="224.66" y2="572.6" stroke="#000" stroke-width="1.2"/><line x1="231.37" y1="569" x2="231.37" y2="572.6" stroke="#000" stroke-width="1.2"/><line x1="238.07" y1="569" x2="238.07" y2="572.6" stroke="#000" stroke-width="1.2"/><line x1="244.78" y1="569" x2="244.78" y2="572.6" stroke="#000" stroke-width="1.2"/><line x1="251.48" y1="569" x2="251.48" y2="572.6" stroke="#000" stroke-width="1.2"/><line x1="258.19" y1="569" x2="258.19" y2="572.6" stroke="#000" stroke-width="1.2"/><line x1="264.89" y1="569" x2="264.89" y2="572.6" stroke="#000" stroke-width="1.2"/><line x1="271.59" y1="569" x2="271.59" y2="572.6" stroke="#000" stroke-width="1.2"/><line x1="278.30" y1="569" x2="278.30" y2="572.6" stroke="#000" stroke-width="1.2"/><line x1="285.00" y1="569" x2="285.00" y2="572.6" stroke="#000" stroke-width="1.2"/><line x1="291.71" y1="569" x2="291.71" y2="572.6" stroke="#000" stroke-width="1.2"/><line x1="298.41" y1="569" x2="298.41" y2="572.6" stroke="#000" stroke-width="1.2"/><line x1="305.12" y1="569" x2="305.12" y2="572.6" stroke="#000" stroke-width="1.2"/><line x1="311.82" y1="569" x2="311.82" y2="572.6" stroke="#000" stroke-width="1.2"/><line x1="318.53" y1="569" x2="318.53" y2="572.6" stroke="#000" stroke-width="1.2"/><line x1="325.24" y1="569" x2="325.24" y2="572.6" stroke="#000" stroke-width="1.2"/><line x1="331.94" y1="569" x2="331.94" y2="572.6" stroke="#000" stroke-width="1.2"/><line x1="338.64" y1="569" x2="338.64" y2="572.6" stroke="#000" stroke-width="1.2"/><line x1="345.35" y1="569" x2="345.35" y2="572.6" stroke="#000" stroke-width="1.2"/><line x1="352.06" y1="569" x2="352.06" y2="572.6" stroke="#000" stroke-width="1.2"/><line x1="358.76" y1="569" x2="358.76" y2="572.6" stroke="#000" stroke-width="1.2"/><line x1="365.47" y1="569" x2="365.47" y2="572.6" stroke="#000" stroke-width="1.2"/><line x1="372.17" y1="569" x2="372.17" y2="572.6" stroke="#000" stroke-width="1.2"/><line x1="378.88" y1="569" x2="378.88" y2="572.6" stroke="#000" stroke-width="1.2"/><line x1="385.58" y1="569" x2="385.58" y2="572.6" stroke="#000" stroke-width="1.2"/><line x1="392.29" y1="569" x2="392.29" y2="572.6" stroke="#000" stroke-width="1.2"/><line x1="398.99" y1="569" x2="398.99" y2="572.6" stroke="#000" stroke-width="1.2"/>
<g font-size="5.8" letter-spacing="0.36" fill="#0a0a0a" stroke="#0a0a0a" stroke-width="0.22" text-anchor="end"><text transform="translate(45.33,575.9) rotate(-90)">DACT1</text><text transform="translate(52.03,575.9) rotate(-90)">DACT1</text><text transform="translate(58.74,575.9) rotate(-90)">DACT1</text><text transform="translate(65.44,575.9) rotate(-90)">YARS</text><text transform="translate(72.15,575.9) rotate(-90)">YARS</text><text transform="translate(78.85,575.9) rotate(-90)">YARS</text><text transform="translate(85.56,575.9) rotate(-90)">PDE6G</text><text transform="translate(92.26,575.9) rotate(-90)">PDE6G</text><text transform="translate(98.97,575.9) rotate(-90)">PDE6G</text><text transform="translate(105.67,575.9) rotate(-90)">NFKBIA</text><text transform="translate(112.38,575.9) rotate(-90)">NFKBIA</text><text transform="translate(119.08,575.9) rotate(-90)">NFKBIA</text><text transform="translate(125.79,575.9) rotate(-90)">KLF6</text><text transform="translate(132.49,575.9) rotate(-90)">KLF6</text><text transform="translate(139.19,575.9) rotate(-90)">KLF6</text><text transform="translate(145.90,575.9) rotate(-90)">CD69</text><text transform="translate(152.60,575.9) rotate(-90)">CD69</text><text transform="translate(159.31,575.9) rotate(-90)">CD69</text><text transform="translate(166.01,575.9) rotate(-90)">TNFAIP3</text><text transform="translate(172.72,575.9) rotate(-90)">TNFAIP3</text><text transform="translate(179.42,575.9) rotate(-90)">TNFAIP3</text><text transform="translate(186.13,575.9) rotate(-90)">SERPINF1</text><text transform="translate(192.83,575.9) rotate(-90)">SERPINF1</text><text transform="translate(199.54,575.9) rotate(-90)">SERPINF1</text><text transform="translate(206.25,575.9) rotate(-90)">ZNF462</text><text transform="translate(212.95,575.9) rotate(-90)">ZNF462</text><text transform="translate(219.66,575.9) rotate(-90)">ZNF462</text><text transform="translate(226.36,575.9) rotate(-90)">DUSP1</text><text transform="translate(233.06,575.9) rotate(-90)">DUSP1</text><text transform="translate(239.77,575.9) rotate(-90)">DUSP1</text><text transform="translate(246.47,575.9) rotate(-90)">RGS1</text><text transform="translate(253.18,575.9) rotate(-90)">RGS1</text><text transform="translate(259.88,575.9) rotate(-90)">RGS1</text><text transform="translate(266.59,575.9) rotate(-90)">SGK1</text><text transform="translate(273.29,575.9) rotate(-90)">SGK1</text><text transform="translate(280.00,575.9) rotate(-90)">SGK1</text><text transform="translate(286.70,575.9) rotate(-90)">PPP1R15A</text><text transform="translate(293.41,575.9) rotate(-90)">PPP1R15A</text><text transform="translate(300.11,575.9) rotate(-90)">PPP1R15A</text><text transform="translate(306.82,575.9) rotate(-90)">FOS</text><text transform="translate(313.52,575.9) rotate(-90)">FOS</text><text transform="translate(320.23,575.9) rotate(-90)">FOS</text><text transform="translate(326.94,575.9) rotate(-90)">PMAIP1</text><text transform="translate(333.64,575.9) rotate(-90)">PMAIP1</text><text transform="translate(340.34,575.9) rotate(-90)">PMAIP1</text><text transform="translate(347.05,575.9) rotate(-90)">YBX3</text><text transform="translate(353.75,575.9) rotate(-90)">YBX3</text><text transform="translate(360.46,575.9) rotate(-90)">YBX3</text><text transform="translate(367.17,575.9) rotate(-90)">JUN</text><text transform="translate(373.87,575.9) rotate(-90)">JUN</text><text transform="translate(380.57,575.9) rotate(-90)">JUN</text><text transform="translate(387.28,575.9) rotate(-90)">GZMA</text><text transform="translate(393.99,575.9) rotate(-90)">GZMA</text><text transform="translate(400.69,575.9) rotate(-90)">GZMA</text></g>
<line x1="40.1" y1="339.5" x2="40.1" y2="569.7" stroke="#000" stroke-width="1.5"/>
<line x1="39.4" y1="569.1" x2="404.3" y2="569.1" stroke="#000" stroke-width="1.8"/>
<line x1="36.3" y1="569.0" x2="40" y2="569.0" stroke="#000" stroke-width="1"/>
<line x1="36.3" y1="523.8" x2="40" y2="523.8" stroke="#000" stroke-width="1"/>
<line x1="36.3" y1="478.6" x2="40" y2="478.6" stroke="#000" stroke-width="1"/>
<line x1="36.3" y1="433.4" x2="40" y2="433.4" stroke="#000" stroke-width="1"/>
<line x1="36.3" y1="388.2" x2="40" y2="388.2" stroke="#000" stroke-width="1"/>
<line x1="36.3" y1="343.0" x2="40" y2="343.0" stroke="#000" stroke-width="1"/>
<g font-size="8.5" fill="#1a1a1a" text-anchor="end"><text x="33.5" y="572.1">0</text><text x="33.5" y="526.9">2</text><text x="33.5" y="481.7">4</text><text x="33.5" y="436.5">6</text><text x="33.5" y="391.3">8</text><text x="33.5" y="346.1">10</text></g>
<text transform="translate(22.0,474) rotate(-90) scale(0.74,1)" font-size="9.6" fill="#111" stroke="#111" stroke-width="0.25">Fold change</text>
<rect x="60.5" y="350.3" width="9.3" height="9.3" fill="#c8c6c9"/><rect x="60.5" y="364.5" width="9.3" height="9.3" fill="#2b4a82"/><rect x="60.5" y="378.7" width="9.3" height="9.3" fill="#a8102e"/>
<g font-size="7.95" fill="#1a1a1a" stroke="#1a1a1a" stroke-width="0.15"><text x="73.2" y="357.3">Normal donor cord blood</text><text x="73.2" y="371.5">Post-CBT</text><text x="73.2" y="385.7">Post-BMT</text></g>
<rect x="462.3" y="329" width="4.6" height="84.0" fill="#c8c6c9"/>
<rect x="469.2" y="329" width="4.6" height="57.6" fill="#2b4a82"/>
<rect x="476.2" y="329" width="4.8" height="48.0" fill="#a8102e"/>
<line x1="464.4" y1="413" x2="464.4" y2="433.5" stroke="#111" stroke-width="1"/><line x1="462.7" y1="433.5" x2="466.1" y2="433.5" stroke="#111" stroke-width="1.1"/>
<line x1="460.5" y1="328.4" x2="460.5" y2="569.6" stroke="#000" stroke-width="1.2"/>
<line x1="460" y1="328.9" x2="484.5" y2="328.9" stroke="#000" stroke-width="1.6"/>
<line x1="460" y1="569" x2="482.5" y2="569" stroke="#000" stroke-width="1.2"/>
<line x1="457" y1="329.0" x2="460.5" y2="329.0" stroke="#000" stroke-width="1"/>
<line x1="457" y1="377.0" x2="460.5" y2="377.0" stroke="#000" stroke-width="1"/>
<line x1="457" y1="425.0" x2="460.5" y2="425.0" stroke="#000" stroke-width="1"/>
<line x1="457" y1="473.0" x2="460.5" y2="473.0" stroke="#000" stroke-width="1"/>
<line x1="457" y1="521.0" x2="460.5" y2="521.0" stroke="#000" stroke-width="1"/>
<line x1="457" y1="569.0" x2="460.5" y2="569.0" stroke="#000" stroke-width="1"/>
<g font-size="8.5" fill="#1a1a1a" text-anchor="end"><text x="454.2" y="332.1">0</text><text x="454.2" y="380.1">-2</text><text x="454.2" y="428.1">-4</text><text x="454.2" y="476.1">-6</text><text x="454.2" y="524.1">-8</text><text x="454.2" y="572.1">-10</text></g>
<line x1="464.6" y1="569" x2="464.6" y2="572.3" stroke="#000" stroke-width="0.9"/>
<line x1="471.5" y1="569" x2="471.5" y2="572.3" stroke="#000" stroke-width="0.9"/>
<line x1="478.6" y1="569" x2="478.6" y2="572.3" stroke="#000" stroke-width="0.9"/>
<g font-size="5.8" letter-spacing="0.36" fill="#0a0a0a" stroke="#0a0a0a" stroke-width="0.22" text-anchor="end"><text transform="translate(466.3,575.9) rotate(-90)">ZNF204P</text><text transform="translate(473.2,575.9) rotate(-90)">ZNF204P</text><text transform="translate(480.3,575.9) rotate(-90)">ZNF204P</text></g>
<text transform="translate(434.5,468) rotate(-90) scale(0.74,1)" font-size="9.6" fill="#111" stroke="#111" stroke-width="0.25">Fold change</text>
<rect x="0" y="0" width="1.5" height="616" fill="#000"/><rect x="0" y="0" width="520" height="1.2" fill="#000"/><rect x="518.4" y="0" width="1.6" height="616" fill="#000"/><rect x="0" y="614.2" width="520" height="1.8" fill="#000"/>
</svg>
</body></html>
